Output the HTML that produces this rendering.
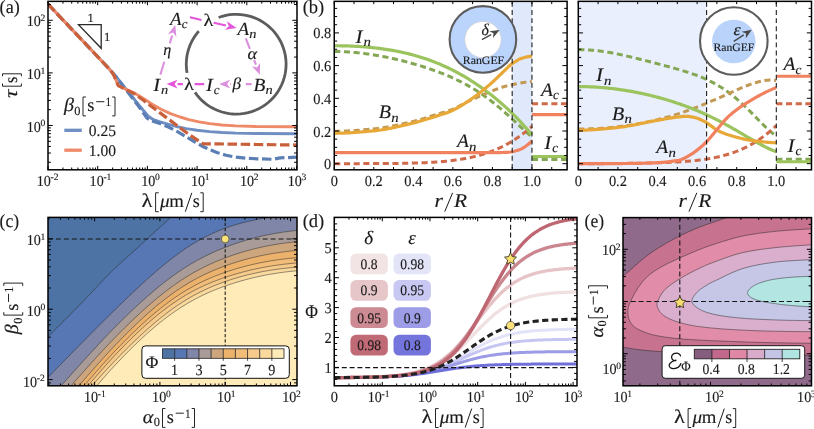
<!DOCTYPE html>
<html><head><meta charset="utf-8"><title>figure</title>
<style>html,body{margin:0;padding:0;background:#fff;}svg{display:block;will-change:transform}text{font-family:"Liberation Serif",serif;text-rendering:geometricPrecision;stroke:#1a1a1a;stroke-width:0.14px;paint-order:stroke fill}</style></head><body>
<svg width="814" height="429" viewBox="0 0 814 429">
<rect width="814" height="429" fill="#fff"/>
<defs><clipPath id="ca"><rect x="48" y="1.35" width="249" height="168.45"/></clipPath></defs>
<g clip-path="url(#ca)" fill="none" stroke-linejoin="round">
<path d="M48 4.1 L110 69.8 L118 79 L126.1 89.5 L132 96.5 L139.2 105.5 L148.3 116.3 L153.5 119.7 L160 121.8 L167.9 124.2 L177 126.6 L186.2 128.6 L197 130.3 L209.7 131.6 L222 132.5 L235.8 133.1 L256 133.5 L297 133.8" stroke="#6f8fc3" stroke-width="2.9"/>
<path d="M48 4.1 L110 69.8 L118 79 L126.1 90 L132 97.5 L139.2 107 L147 118.2 L152.2 121 L160 123.6 L167.9 126.8 L177 131.4 L186.2 136.8 L195 142 L204.4 147.3 L217.5 152.7 L226 155.3 L235.8 157.1 L246 158.2 L256.7 158.8 L272.3 159.3 L280.2 157.9 L297 157.1" stroke="#5b7fb4" stroke-width="3.2" stroke-dasharray="9.5 3.6"/>
<path d="M48 4.1 L110 69.8 L113.5 74.5 L118.3 85.6 L126 89.3 L134 92.8 L143 98.3 L152.2 104.2 L161 109.2 L170.5 113.6 L180 117 L188.8 119.6 L199 121.9 L209.7 123.6 L222 125 L235.8 125.9 L256 126.5 L297 126.8" stroke="#ef8a68" stroke-width="2.9"/>
<path d="M48 4.1 L110 69.8 L113.5 74.5 L118.3 85.6 L126 89.6 L134 93.6 L143 100 L152.2 107 L161 113.6 L170.5 120.6 L188.8 134.4 L203.1 143.8 L217.5 143.9 L256.7 144.5 L297 145" stroke="#c9603c" stroke-width="3.2" stroke-dasharray="9.5 3.6"/>
</g>
<path d="M78.5 24.6 H101.2 V48.3 Z" fill="none" stroke="#2a2a2a" stroke-width="1.3"/>
<text x="90.5" y="21.5" font-size="12.5" text-anchor="middle" fill="#1a1a1a" style="" >1</text>
<text x="107.2" y="40.5" font-size="12.5" text-anchor="middle" fill="#1a1a1a" style="" >1</text>
<g transform="translate(63.9 111.4)"><text stroke-width="0" x="0" y="0" font-size="19" text-anchor="start" fill="#1a1a1a" style="font-style:italic" textLength="10" lengthAdjust="spacingAndGlyphs">β</text><text stroke-width="0" x="10.4" y="3.4" font-size="12.3" text-anchor="start" fill="#1a1a1a" textLength="6.2" lengthAdjust="spacingAndGlyphs">0</text><path d="M22 -14.4H19.1V4.5H22" fill="none" stroke="#1a1a1a" stroke-width="0.95"/><text stroke-width="0" x="23.4" y="0" font-size="18.5" text-anchor="start" fill="#1a1a1a" textLength="7.1" lengthAdjust="spacingAndGlyphs">s</text><path d="M32.3 -9.7H40.4" fill="none" stroke="#1a1a1a" stroke-width="0.95"/><text stroke-width="0" x="41.7" y="-5.4" font-size="12.6" text-anchor="start" fill="#1a1a1a" textLength="5.6" lengthAdjust="spacingAndGlyphs">1</text><path d="M48.3 -14.4H51.1V4.5H48.3" fill="none" stroke="#1a1a1a" stroke-width="0.95"/></g>
<path d="M64.3 130.3H81.8" stroke="#6f8fc3" stroke-width="3.3"/>
<path d="M64.3 150.2H81.8" stroke="#ef8a68" stroke-width="3.3"/>
<text x="88.8" y="135.7" font-size="16" text-anchor="start" fill="#1a1a1a" style="" textLength="27.2" lengthAdjust="spacingAndGlyphs">0.25</text>
<text x="88.8" y="155.6" font-size="16" text-anchor="start" fill="#1a1a1a" style="" textLength="27.2" lengthAdjust="spacingAndGlyphs">1.00</text>
<path d="M194.98 92.32 L197.23 95.36 L199.7 98.22 L202.38 100.89 L205.26 103.35 L208.31 105.58 L211.53 107.57 L214.88 109.32 L218.36 110.8 L221.94 112.02 L225.6 112.96 L229.33 113.62 L233.09 114 L236.87 114.1 L240.65 113.9 L244.4 113.42 L248.11 112.66 L251.74 111.62 L255.29 110.3 L258.73 108.73 L262.04 106.89 L265.2 104.81 L268.19 102.5 L271 99.97 L273.61 97.23 L276 94.3 L278.17 91.2 L280.09 87.94 L281.76 84.55 L283.17 81.04 L284.31 77.43 L285.18 73.75 L285.76 70.01 L286.06 66.24 L286.07 62.46 L285.79 58.69 L285.23 54.95 L284.39 51.26 L283.27 47.65 L281.89 44.13 L280.23 40.73 L278.33 37.46 L276.18 34.34 L273.81 31.4 L271.21 28.65 L268.42 26.1 L265.44 23.77 L262.29 21.67 L259 19.81 L255.57 18.21 L252.03 16.88 L248.4 15.81 L244.7 15.03 L240.95 14.53 L237.18 14.31 L233.39 14.38 L229.63 14.73 L225.9 15.37 L222.23 16.29 L218.64 17.49" fill="none" stroke="#5c5c5c" stroke-width="2.8"/>
<path d="M198.77 31.2 L198.27 31.77 L197.78 32.35 L197.3 32.94 L196.83 33.54 L196.37 34.14 L195.92 34.75 L195.48 35.36 L195.04 35.99 L194.62 36.62 L194.2 37.25 L193.8 37.89 L193.4 38.54 L193.02 39.19 L192.64 39.85 L192.28 40.52 L191.92 41.19 L191.58 41.86 L191.24 42.55 L190.92 43.23 L190.61 43.92 L190.3 44.62 L190.01 45.32 L189.73 46.02 L189.46 46.73 L189.2 47.44 L188.95 48.16 L188.71 48.88 L188.48 49.61 L188.27 50.33 L188.06 51.06 L187.87 51.8 L187.68 52.53 L187.51 53.27 L187.35 54.01 L187.2 54.76 L187.06 55.5 L186.94 56.25 L186.82 57 L186.72 57.75 L186.63 58.51 L186.55 59.26 L186.48 60.02 L186.42 60.77 L186.37 61.53 L186.34 62.29 L186.31 63.05 L186.3 63.8 L186.3 64.56 L186.31 65.32 L186.34 66.08 L186.37 66.84 L186.42 67.6 L186.47 68.35 L186.54 69.11 L186.62 69.86 L186.71 70.62 L186.82 71.37 L186.93 72.12 L187.06 72.87" fill="none" stroke="#5c5c5c" stroke-width="2.8"/>
<path d="M190 17.3L201.48 19.91M213.68 22.69L225.87 25.46" stroke="#e455dc" stroke-width="2.1" fill="none"/>
<path d="M236.6 27.9L224.9 29.75L228.88 26.14L226.85 21.17Z" fill="#e455dc"/>
<path d="M245.8 38.4L249.85 48.86M254.1 59.84L255.93 64.54" stroke="#dc8fde" stroke-width="2.1" fill="none"/>
<path d="M259.9 74.8L251.82 66.13L257.04 67.41L260.03 62.95Z" fill="#dc8fde"/>
<path d="M251.6 84.1L245.82 84.1M231.06 84.1L230.2 84.1" stroke="#dc8fde" stroke-width="2.1" fill="none"/>
<path d="M219.2 84.1L230.2 79.7L227.12 84.1L230.2 88.5Z" fill="#dc8fde"/>
<path d="M204.2 84.1L194.62 84.1M182.92 84.1L177.6 84.1" stroke="#e455dc" stroke-width="2.1" fill="none"/>
<path d="M166.6 84.1L177.6 79.7L174.52 84.1L177.6 88.5Z" fill="#e455dc"/>
<path d="M160.4 74.6L164.27 61.71M169.79 43.35L172.14 35.53" stroke="#dc8fde" stroke-width="2.1" fill="none"/>
<path d="M175.3 25L176.35 36.8L173.02 32.59L167.92 34.27Z" fill="#dc8fde"/>
<text stroke-width="0" x="170" y="25" font-size="18.5" text-anchor="start" fill="#1a1a1a" style="font-style:italic" textLength="11.59" lengthAdjust="spacingAndGlyphs">A</text>
<text stroke-width="0" x="181.79" y="28.41" font-size="13" text-anchor="start" fill="#1a1a1a" style="font-style:italic" textLength="5.74" lengthAdjust="spacingAndGlyphs">c</text>
<text stroke-width="0" x="237.5" y="34.5" font-size="18.5" text-anchor="start" fill="#1a1a1a" style="font-style:italic" textLength="11.59" lengthAdjust="spacingAndGlyphs">A</text>
<text stroke-width="0" x="249.29" y="37.91" font-size="13" text-anchor="start" fill="#1a1a1a" style="font-style:italic" textLength="7.21" lengthAdjust="spacingAndGlyphs">n</text>
<text stroke-width="0" x="253.5" y="91" font-size="18.5" text-anchor="start" fill="#1a1a1a" style="font-style:italic" textLength="11.88" lengthAdjust="spacingAndGlyphs">B</text>
<text stroke-width="0" x="265.58" y="94.41" font-size="13" text-anchor="start" fill="#1a1a1a" style="font-style:italic" textLength="7.21" lengthAdjust="spacingAndGlyphs">n</text>
<text stroke-width="0" x="206" y="91" font-size="18.5" text-anchor="start" fill="#1a1a1a" style="font-style:italic" textLength="6.82" lengthAdjust="spacingAndGlyphs">I</text>
<text stroke-width="0" x="213.72" y="94.41" font-size="13" text-anchor="start" fill="#1a1a1a" style="font-style:italic" textLength="5.74" lengthAdjust="spacingAndGlyphs">c</text>
<text stroke-width="0" x="153.2" y="91" font-size="18.5" text-anchor="start" fill="#1a1a1a" style="font-style:italic" textLength="6.82" lengthAdjust="spacingAndGlyphs">I</text>
<text stroke-width="0" x="160.92" y="94.41" font-size="13" text-anchor="start" fill="#1a1a1a" style="font-style:italic" textLength="7.21" lengthAdjust="spacingAndGlyphs">n</text>
<text stroke-width="0" x="203.4" y="26.4" font-size="17.5" text-anchor="start" fill="#1a1a1a" textLength="9.8" lengthAdjust="spacingAndGlyphs">λ</text>
<text stroke-width="0" x="184" y="89.8" font-size="17.5" text-anchor="start" fill="#1a1a1a" textLength="9.8" lengthAdjust="spacingAndGlyphs">λ</text>
<text stroke-width="0" x="247.6" y="58.8" font-size="16.5" text-anchor="start" fill="#1a1a1a" style="font-style:italic" textLength="9.6" lengthAdjust="spacingAndGlyphs">α</text>
<text stroke-width="0" x="232.4" y="89.2" font-size="16.5" text-anchor="start" fill="#1a1a1a" style="font-style:italic" textLength="8.6" lengthAdjust="spacingAndGlyphs">β</text>
<text stroke-width="0" x="163.2" y="55.4" font-size="16.5" text-anchor="start" fill="#1a1a1a" style="font-style:italic" textLength="8" lengthAdjust="spacingAndGlyphs">η</text>
<path d="M48 169.8v-3.9M48 1.35v3.9M97.7 169.8v-3.9M97.7 1.35v3.9M147.4 169.8v-3.9M147.4 1.35v3.9M197.1 169.8v-3.9M197.1 1.35v3.9M246.8 169.8v-3.9M246.8 1.35v3.9M296.5 169.8v-3.9M296.5 1.35v3.9" stroke="#000" stroke-width="1.0" fill="none"/>
<path d="M62.96 169.8v-2.3M62.96 1.35v2.3M71.71 169.8v-2.3M71.71 1.35v2.3M77.92 169.8v-2.3M77.92 1.35v2.3M82.74 169.8v-2.3M82.74 1.35v2.3M86.67 169.8v-2.3M86.67 1.35v2.3M90 169.8v-2.3M90 1.35v2.3M92.88 169.8v-2.3M92.88 1.35v2.3M95.43 169.8v-2.3M95.43 1.35v2.3M112.66 169.8v-2.3M112.66 1.35v2.3M121.41 169.8v-2.3M121.41 1.35v2.3M127.62 169.8v-2.3M127.62 1.35v2.3M132.44 169.8v-2.3M132.44 1.35v2.3M136.37 169.8v-2.3M136.37 1.35v2.3M139.7 169.8v-2.3M139.7 1.35v2.3M142.58 169.8v-2.3M142.58 1.35v2.3M145.13 169.8v-2.3M145.13 1.35v2.3M162.36 169.8v-2.3M162.36 1.35v2.3M171.11 169.8v-2.3M171.11 1.35v2.3M177.32 169.8v-2.3M177.32 1.35v2.3M182.14 169.8v-2.3M182.14 1.35v2.3M186.07 169.8v-2.3M186.07 1.35v2.3M189.4 169.8v-2.3M189.4 1.35v2.3M192.28 169.8v-2.3M192.28 1.35v2.3M194.83 169.8v-2.3M194.83 1.35v2.3M212.06 169.8v-2.3M212.06 1.35v2.3M220.81 169.8v-2.3M220.81 1.35v2.3M227.02 169.8v-2.3M227.02 1.35v2.3M231.84 169.8v-2.3M231.84 1.35v2.3M235.77 169.8v-2.3M235.77 1.35v2.3M239.1 169.8v-2.3M239.1 1.35v2.3M241.98 169.8v-2.3M241.98 1.35v2.3M244.53 169.8v-2.3M244.53 1.35v2.3M261.76 169.8v-2.3M261.76 1.35v2.3M270.51 169.8v-2.3M270.51 1.35v2.3M276.72 169.8v-2.3M276.72 1.35v2.3M281.54 169.8v-2.3M281.54 1.35v2.3M285.47 169.8v-2.3M285.47 1.35v2.3M288.8 169.8v-2.3M288.8 1.35v2.3M291.68 169.8v-2.3M291.68 1.35v2.3M294.23 169.8v-2.3M294.23 1.35v2.3" stroke="#000" stroke-width="1.0" fill="none"/>
<path d="M48 125.5h4.7M297 125.5h-4.7M48 72.9h4.7M297 72.9h-4.7M48 20.3h4.7M297 20.3h-4.7" stroke="#000" stroke-width="1.0" fill="none"/>
<path d="M48 162.27h2.9M297 162.27h-2.9M48 153h2.9M297 153h-2.9M48 146.43h2.9M297 146.43h-2.9M48 141.33h2.9M297 141.33h-2.9M48 137.17h2.9M297 137.17h-2.9M48 133.65h2.9M297 133.65h-2.9M48 130.6h2.9M297 130.6h-2.9M48 127.91h2.9M297 127.91h-2.9M48 109.67h2.9M297 109.67h-2.9M48 100.4h2.9M297 100.4h-2.9M48 93.83h2.9M297 93.83h-2.9M48 88.73h2.9M297 88.73h-2.9M48 84.57h2.9M297 84.57h-2.9M48 81.05h2.9M297 81.05h-2.9M48 78h2.9M297 78h-2.9M48 75.31h2.9M297 75.31h-2.9M48 57.07h2.9M297 57.07h-2.9M48 47.8h2.9M297 47.8h-2.9M48 41.23h2.9M297 41.23h-2.9M48 36.13h2.9M297 36.13h-2.9M48 31.97h2.9M297 31.97h-2.9M48 28.45h2.9M297 28.45h-2.9M48 25.4h2.9M297 25.4h-2.9M48 22.71h2.9M297 22.71h-2.9M48 4.47h2.9M297 4.47h-2.9" stroke="#000" stroke-width="1.0" fill="none"/>
<rect x="48" y="1.35" width="249" height="168.45" fill="none" stroke="#000" stroke-width="1.5"/>
<text x="36.8" y="185.7" font-size="15.2" fill="#1a1a1a" textLength="14.1" lengthAdjust="spacingAndGlyphs">10</text>
<text x="50.6" y="180.3" font-size="9.6" fill="#1a1a1a">-2</text>
<text x="89.6" y="185.7" font-size="15.2" fill="#1a1a1a" textLength="14.1" lengthAdjust="spacingAndGlyphs">10</text>
<text x="103.4" y="180.3" font-size="9.6" fill="#1a1a1a">-1</text>
<text x="141.2" y="185.7" font-size="15.2" fill="#1a1a1a" textLength="14.1" lengthAdjust="spacingAndGlyphs">10</text>
<text x="155" y="180.3" font-size="9.6" fill="#1a1a1a">0</text>
<text x="190.9" y="185.7" font-size="15.2" fill="#1a1a1a" textLength="14.1" lengthAdjust="spacingAndGlyphs">10</text>
<text x="204.7" y="180.3" font-size="9.6" fill="#1a1a1a">1</text>
<text x="239.9" y="185.7" font-size="15.2" fill="#1a1a1a" textLength="14.1" lengthAdjust="spacingAndGlyphs">10</text>
<text x="253.7" y="180.3" font-size="9.6" fill="#1a1a1a">2</text>
<text x="287.7" y="185.7" font-size="15.2" fill="#1a1a1a" textLength="14.1" lengthAdjust="spacingAndGlyphs">10</text>
<text x="301.5" y="180.3" font-size="9.6" fill="#1a1a1a">3</text>
<text x="26.7" y="26.1" font-size="15.2" fill="#1a1a1a" textLength="14.1" lengthAdjust="spacingAndGlyphs">10</text>
<text x="40.5" y="20.7" font-size="9.6" fill="#1a1a1a">2</text>
<text x="26.7" y="78.9" font-size="15.2" fill="#1a1a1a" textLength="14.1" lengthAdjust="spacingAndGlyphs">10</text>
<text x="40.5" y="73.5" font-size="9.6" fill="#1a1a1a">1</text>
<text x="26.7" y="131.6" font-size="15.2" fill="#1a1a1a" textLength="14.1" lengthAdjust="spacingAndGlyphs">10</text>
<text x="40.5" y="126.2" font-size="9.6" fill="#1a1a1a">0</text>
<g transform="translate(141.3 207.2)"><text stroke-width="0" x="0.2" y="0" font-size="19.5" text-anchor="start" fill="#1a1a1a" textLength="10.9" lengthAdjust="spacingAndGlyphs">λ</text><path d="M17.4 -14.4H14.3V4.5H17.4" fill="none" stroke="#1a1a1a" stroke-width="0.95"/><text stroke-width="0" x="18.6" y="0" font-size="18.5" text-anchor="start" fill="#1a1a1a" style="font-style:italic" textLength="9.6" lengthAdjust="spacingAndGlyphs">μ</text><text stroke-width="0" x="28" y="0" font-size="18.5" text-anchor="start" fill="#1a1a1a" textLength="14.6" lengthAdjust="spacingAndGlyphs">m</text><path d="M44 4.5L50.5 -14.4" fill="none" stroke="#1a1a1a" stroke-width="1.0"/><text stroke-width="0" x="51.5" y="0" font-size="18.5" text-anchor="start" fill="#1a1a1a" textLength="7" lengthAdjust="spacingAndGlyphs">s</text><path d="M59 -14.4H61.9V4.5H59" fill="none" stroke="#1a1a1a" stroke-width="0.95"/></g>
<g transform="translate(16.9 97.9) rotate(-90)"><text stroke-width="0" x="0" y="0" font-size="19" text-anchor="start" fill="#1a1a1a" style="font-style:italic" textLength="8.4" lengthAdjust="spacingAndGlyphs">τ</text><path d="M14.4 -14.4H11.7V4.5H14.4" fill="none" stroke="#1a1a1a" stroke-width="0.95"/><text stroke-width="0" x="15" y="0" font-size="18.5" text-anchor="start" fill="#1a1a1a" textLength="6.4" lengthAdjust="spacingAndGlyphs">s</text><path d="M21.6 -14.4H24.1V4.5H21.6" fill="none" stroke="#1a1a1a" stroke-width="0.95"/></g>
<text x="-0.4" y="13" font-size="18.8" text-anchor="start" fill="#1a1a1a" style="" textLength="20.2" lengthAdjust="spacingAndGlyphs">(a)</text>
<defs><clipPath id="cb1"><rect x="334.25" y="1.35" width="232.85" height="168.45"/></clipPath></defs>
<g clip-path="url(#cb1)">
<rect x="512.18" y="1.35" width="19.77" height="168.45" fill="#e0e8fb"/>
<path d="M334.25 51.54 L335.91 51.54 L337.57 51.56 L339.23 51.59 L340.9 51.63 L342.56 51.69 L344.22 51.75 L345.88 51.83 L347.54 51.92 L349.2 52.02 L350.86 52.14 L352.52 52.26 L354.19 52.4 L355.85 52.55 L357.51 52.71 L359.17 52.88 L360.83 53.06 L362.49 53.25 L364.15 53.46 L365.82 53.67 L367.48 53.9 L369.14 54.13 L370.8 54.38 L372.46 54.63 L374.12 54.9 L375.78 55.18 L377.44 55.46 L379.11 55.76 L380.77 56.06 L382.43 56.37 L384.09 56.69 L385.75 57.03 L387.41 57.37 L389.07 57.71 L390.74 58.07 L392.4 58.44 L394.06 58.81 L395.72 59.19 L397.38 59.58 L399.04 59.98 L400.7 60.39 L402.37 60.81 L404.03 61.23 L405.69 61.66 L407.35 62.1 L409.01 62.55 L410.67 63 L412.33 63.47 L413.99 63.94 L415.66 64.42 L417.32 64.91 L418.98 65.41 L420.64 65.92 L422.3 66.44 L423.96 66.96 L425.62 67.5 L427.29 68.04 L428.95 68.6 L430.61 69.16 L432.27 69.74 L433.93 70.33 L435.59 70.93 L437.25 71.54 L438.91 72.17 L440.58 72.8 L442.24 73.45 L443.9 74.12 L445.56 74.8 L447.22 75.49 L448.88 76.2 L450.54 76.92 L452.21 77.66 L453.87 78.42 L455.53 79.19 L457.19 79.98 L458.85 80.79 L460.51 81.62 L462.17 82.47 L463.83 83.34 L465.5 84.24 L467.16 85.15 L468.82 86.08 L470.48 87.04 L472.14 88.02 L473.8 89.02 L475.46 90.05 L477.13 91.1 L478.79 92.17 L480.45 93.27 L482.11 94.4 L483.77 95.55 L485.43 96.73 L487.09 97.93 L488.76 99.16 L490.42 100.41 L492.08 101.69 L493.74 102.99 L495.4 104.32 L497.06 105.68 L498.72 107.05 L500.38 108.45 L502.05 109.87 L503.71 111.32 L505.37 112.78 L507.03 114.26 L508.69 115.76 L510.35 117.27 L512.01 118.8 L513.68 120.34 L515.34 121.88 L517 123.43 L518.66 124.99 L520.32 126.55 L521.98 128.1 L523.64 129.65 L525.3 131.18 L526.97 132.7 L528.63 134.2 L530.29 135.67 L531.95 137.12" stroke="#84a753" stroke-width="3.0" fill="none" stroke-dasharray="6.1 3.6"/>
<path d="M334.25 131.33 L335.91 131.32 L337.57 131.3 L339.23 131.27 L340.9 131.23 L342.56 131.18 L344.22 131.11 L345.88 131.04 L347.54 130.96 L349.2 130.87 L350.86 130.77 L352.52 130.66 L354.19 130.55 L355.85 130.43 L357.51 130.31 L359.17 130.18 L360.83 130.04 L362.49 129.9 L364.15 129.76 L365.82 129.61 L367.48 129.46 L369.14 129.31 L370.8 129.15 L372.46 129 L374.12 128.84 L375.78 128.67 L377.44 128.48 L379.11 128.28 L380.77 128.05 L382.43 127.81 L384.09 127.55 L385.75 127.27 L387.41 126.98 L389.07 126.68 L390.74 126.37 L392.4 126.04 L394.06 125.71 L395.72 125.36 L397.38 125.01 L399.04 124.65 L400.7 124.28 L402.37 123.91 L404.03 123.54 L405.69 123.15 L407.35 122.77 L409.01 122.39 L410.67 122 L412.33 121.61 L413.99 121.2 L415.66 120.77 L417.32 120.33 L418.98 119.86 L420.64 119.38 L422.3 118.89 L423.96 118.39 L425.62 117.87 L427.29 117.35 L428.95 116.83 L430.61 116.3 L432.27 115.77 L433.93 115.25 L435.59 114.72 L437.25 114.2 L438.91 113.68 L440.58 113.17 L442.24 112.68 L443.9 112.2 L445.56 111.7 L447.22 111.19 L448.88 110.64 L450.54 110.03 L452.21 109.37 L453.87 108.66 L455.53 107.9 L457.19 107.1 L458.85 106.28 L460.51 105.43 L462.17 104.57 L463.83 103.71 L465.5 102.85 L467.16 102 L468.82 101.17 L470.48 100.37 L472.14 99.6 L473.8 98.83 L475.46 98.07 L477.13 97.32 L478.79 96.57 L480.45 95.83 L482.11 95.11 L483.77 94.38 L485.43 93.67 L487.09 92.96 L488.76 92.26 L490.42 91.58 L492.08 90.92 L493.74 90.27 L495.4 89.62 L497.06 88.98 L498.72 88.37 L500.38 87.79 L502.05 87.26 L503.71 86.76 L505.37 86.29 L507.03 85.85 L508.69 85.42 L510.35 85.03 L512.01 84.65 L513.68 84.3 L515.34 83.96 L517 83.64 L518.66 83.33 L520.32 83.05 L521.98 82.78 L523.64 82.53 L525.3 82.29 L526.97 82.06 L528.63 81.84 L530.29 81.64 L531.95 81.46" stroke="#c39a55" stroke-width="3.0" fill="none" stroke-dasharray="6.1 3.6"/>
<path d="M334.25 163.66 L335.91 163.66 L337.57 163.66 L339.23 163.66 L340.9 163.66 L342.56 163.66 L344.22 163.66 L345.88 163.66 L347.54 163.65 L349.2 163.65 L350.86 163.65 L352.52 163.65 L354.19 163.64 L355.85 163.64 L357.51 163.64 L359.17 163.64 L360.83 163.63 L362.49 163.63 L364.15 163.62 L365.82 163.62 L367.48 163.61 L369.14 163.61 L370.8 163.6 L372.46 163.59 L374.12 163.59 L375.78 163.58 L377.44 163.57 L379.11 163.56 L380.77 163.55 L382.43 163.54 L384.09 163.53 L385.75 163.52 L387.41 163.5 L389.07 163.49 L390.74 163.47 L392.4 163.45 L394.06 163.44 L395.72 163.42 L397.38 163.39 L399.04 163.37 L400.7 163.35 L402.37 163.32 L404.03 163.29 L405.69 163.26 L407.35 163.22 L409.01 163.19 L410.67 163.15 L412.33 163.11 L413.99 163.06 L415.66 163.01 L417.32 162.96 L418.98 162.9 L420.64 162.84 L422.3 162.78 L423.96 162.71 L425.62 162.64 L427.29 162.56 L428.95 162.48 L430.61 162.39 L432.27 162.29 L433.93 162.19 L435.59 162.08 L437.25 161.96 L438.91 161.84 L440.58 161.71 L442.24 161.57 L443.9 161.42 L445.56 161.27 L447.22 161.1 L448.88 160.92 L450.54 160.74 L452.21 160.54 L453.87 160.33 L455.53 160.11 L457.19 159.88 L458.85 159.64 L460.51 159.38 L462.17 159.1 L463.83 158.82 L465.5 158.52 L467.16 158.2 L468.82 157.86 L470.48 157.51 L472.14 157.14 L473.8 156.76 L475.46 156.35 L477.13 155.93 L478.79 155.48 L480.45 155.02 L482.11 154.53 L483.77 154.02 L485.43 153.49 L487.09 152.93 L488.76 152.35 L490.42 151.75 L492.08 151.12 L493.74 150.46 L495.4 149.77 L497.06 149.06 L498.72 148.32 L500.38 147.55 L502.05 146.75 L503.71 145.92 L505.37 145.06 L507.03 144.16 L508.69 143.23 L510.35 142.27 L512.01 141.27 L513.68 140.24 L515.34 139.18 L517 138.07 L518.66 136.93 L520.32 135.76 L521.98 134.54 L523.64 133.29 L525.3 131.99 L526.97 130.66 L528.63 129.29 L530.29 127.87 L531.95 126.42" stroke="#cf6a4b" stroke-width="3.0" fill="none" stroke-dasharray="6.1 3.6"/>
<path d="M334.25 45.74 L335.91 45.75 L337.57 45.76 L339.23 45.77 L340.9 45.8 L342.56 45.83 L344.22 45.87 L345.88 45.91 L347.54 45.96 L349.2 46.02 L350.86 46.08 L352.52 46.16 L354.19 46.24 L355.85 46.32 L357.51 46.42 L359.17 46.52 L360.83 46.63 L362.49 46.75 L364.15 46.88 L365.82 47.01 L367.48 47.15 L369.14 47.3 L370.8 47.46 L372.46 47.63 L374.12 47.81 L375.78 47.99 L377.44 48.19 L379.11 48.39 L380.77 48.6 L382.43 48.83 L384.09 49.06 L385.75 49.31 L387.41 49.56 L389.07 49.83 L390.74 50.1 L392.4 50.39 L394.06 50.69 L395.72 51 L397.38 51.32 L399.04 51.65 L400.7 52 L402.37 52.36 L404.03 52.73 L405.69 53.11 L407.35 53.51 L409.01 53.92 L410.67 54.34 L412.33 54.78 L413.99 55.23 L415.66 55.69 L417.32 56.17 L418.98 56.67 L420.64 57.17 L422.3 57.7 L423.96 58.24 L425.62 58.79 L427.29 59.36 L428.95 59.95 L430.61 60.55 L432.27 61.17 L433.93 61.8 L435.59 62.45 L437.25 63.12 L438.91 63.81 L440.58 64.51 L442.24 65.23 L443.9 65.96 L445.56 66.72 L447.22 67.49 L448.88 68.28 L450.54 69.09 L452.21 69.91 L453.87 70.76 L455.53 71.62 L457.19 72.5 L458.85 73.4 L460.51 74.32 L462.17 75.26 L463.83 76.22 L465.5 77.2 L467.16 78.19 L468.82 79.21 L470.48 80.25 L472.14 81.3 L473.8 82.38 L475.46 83.47 L477.13 84.59 L478.79 85.73 L480.45 86.89 L482.11 88.06 L483.77 89.26 L485.43 90.49 L487.09 91.73 L488.76 92.99 L490.42 94.28 L492.08 95.59 L493.74 96.92 L495.4 98.27 L497.06 99.65 L498.72 101.05 L500.38 102.48 L502.05 103.93 L503.71 105.4 L505.37 106.9 L507.03 108.42 L508.69 109.98 L510.35 111.55 L512.01 113.16 L513.68 114.79 L515.34 116.45 L517 118.15 L518.66 119.87 L520.32 121.62 L521.98 123.4 L523.64 125.22 L525.3 127.07 L526.97 128.96 L528.63 130.89 L530.29 132.85 L531.95 134.85" stroke="#9cc45e" stroke-width="3.2" fill="none"/>
<path d="M334.25 133.29 L335.91 133.28 L337.57 133.26 L339.23 133.23 L340.9 133.19 L342.56 133.14 L344.22 133.08 L345.88 133.01 L347.54 132.92 L349.2 132.83 L350.86 132.74 L352.52 132.63 L354.19 132.52 L355.85 132.4 L357.51 132.27 L359.17 132.14 L360.83 132.01 L362.49 131.87 L364.15 131.72 L365.82 131.58 L367.48 131.43 L369.14 131.27 L370.8 131.12 L372.46 130.96 L374.12 130.8 L375.78 130.63 L377.44 130.44 L379.11 130.22 L380.77 129.98 L382.43 129.73 L384.09 129.45 L385.75 129.17 L387.41 128.86 L389.07 128.54 L390.74 128.21 L392.4 127.87 L394.06 127.51 L395.72 127.15 L397.38 126.78 L399.04 126.4 L400.7 126.01 L402.37 125.62 L404.03 125.23 L405.69 124.83 L407.35 124.44 L409.01 124.04 L410.67 123.64 L412.33 123.24 L413.99 122.83 L415.66 122.4 L417.32 121.95 L418.98 121.5 L420.64 121.03 L422.3 120.54 L423.96 120.05 L425.62 119.55 L427.29 119.04 L428.95 118.52 L430.61 118 L432.27 117.47 L433.93 116.94 L435.59 116.41 L437.25 115.87 L438.91 115.33 L440.58 114.8 L442.24 114.27 L443.9 113.74 L445.56 113.2 L447.22 112.62 L448.88 112 L450.54 111.31 L452.21 110.57 L453.87 109.77 L455.53 108.91 L457.19 108.01 L458.85 107.07 L460.51 106.09 L462.17 105.08 L463.83 104.04 L465.5 102.97 L467.16 101.89 L468.82 100.78 L470.48 99.67 L472.14 98.54 L473.8 97.37 L475.46 96.16 L477.13 94.91 L478.79 93.62 L480.45 92.31 L482.11 90.96 L483.77 89.59 L485.43 88.2 L487.09 86.79 L488.76 85.36 L490.42 83.92 L492.08 82.47 L493.74 80.97 L495.4 79.42 L497.06 77.83 L498.72 76.22 L500.38 74.61 L502.05 73.03 L503.71 71.44 L505.37 69.78 L507.03 68.13 L508.69 66.53 L510.35 65.05 L512.01 63.76 L513.68 62.61 L515.34 61.52 L517 60.52 L518.66 59.62 L520.32 58.85 L521.98 58.23 L523.64 57.71 L525.3 57.28 L526.97 56.94 L528.63 56.67 L530.29 56.44 L531.95 56.28" stroke="#e8a838" stroke-width="3.2" fill="none"/>
<path d="M334.25 152.58 L335.91 152.58 L337.57 152.58 L339.23 152.58 L340.9 152.58 L342.56 152.58 L344.22 152.58 L345.88 152.58 L347.54 152.58 L349.2 152.58 L350.86 152.58 L352.52 152.58 L354.19 152.58 L355.85 152.58 L357.51 152.58 L359.17 152.58 L360.83 152.58 L362.49 152.58 L364.15 152.58 L365.82 152.58 L367.48 152.58 L369.14 152.58 L370.8 152.58 L372.46 152.58 L374.12 152.58 L375.78 152.58 L377.44 152.58 L379.11 152.58 L380.77 152.58 L382.43 152.58 L384.09 152.58 L385.75 152.58 L387.41 152.58 L389.07 152.58 L390.74 152.58 L392.4 152.58 L394.06 152.58 L395.72 152.58 L397.38 152.58 L399.04 152.58 L400.7 152.58 L402.37 152.58 L404.03 152.58 L405.69 152.58 L407.35 152.58 L409.01 152.58 L410.67 152.58 L412.33 152.58 L413.99 152.58 L415.66 152.58 L417.32 152.58 L418.98 152.58 L420.64 152.58 L422.3 152.58 L423.96 152.58 L425.62 152.58 L427.29 152.58 L428.95 152.58 L430.61 152.58 L432.27 152.58 L433.93 152.58 L435.59 152.58 L437.25 152.58 L438.91 152.58 L440.58 152.58 L442.24 152.58 L443.9 152.58 L445.56 152.58 L447.22 152.58 L448.88 152.58 L450.54 152.58 L452.21 152.58 L453.87 152.58 L455.53 152.58 L457.19 152.58 L458.85 152.58 L460.51 152.58 L462.17 152.58 L463.83 152.58 L465.5 152.58 L467.16 152.58 L468.82 152.58 L470.48 152.58 L472.14 152.58 L473.8 152.58 L475.46 152.58 L477.13 152.58 L478.79 152.58 L480.45 152.58 L482.11 152.58 L483.77 152.58 L485.43 152.58 L487.09 152.58 L488.76 152.58 L490.42 152.58 L492.08 152.58 L493.74 152.58 L495.4 152.57 L497.06 152.56 L498.72 152.55 L500.38 152.53 L502.05 152.5 L503.71 152.47 L505.37 152.44 L507.03 152.39 L508.69 152.25 L510.35 152.04 L512.01 151.79 L513.68 151.49 L515.34 151.08 L517 150.59 L518.66 150.02 L520.32 149.38 L521.98 148.59 L523.64 147.63 L525.3 146.54 L526.97 145.35 L528.63 143.99 L530.29 142.47 L531.95 140.81" stroke="#f0825f" stroke-width="3.2" fill="none"/>
<path d="M531.95 103.86 L571.49 103.86" stroke="#cf6a4b" stroke-width="3.0" fill="none" stroke-dasharray="6.1 3.6"/>
<path d="M531.95 159.45 L571.49 159.45" stroke="#84a753" stroke-width="3.0" fill="none" stroke-dasharray="6.1 3.6"/>
<path d="M531.95 114.65 L571.49 114.65" stroke="#f0825f" stroke-width="3.2" fill="none"/>
<path d="M531.95 156.51 L571.49 156.51" stroke="#9cc45e" stroke-width="3.2" fill="none"/>
<path d="M512.18 1.95V169.8" stroke="#1c1c1c" stroke-width="1.1" stroke-dasharray="4.9 3.2" fill="none"/>
<path d="M531.95 1.95V169.8" stroke="#1c1c1c" stroke-width="1.1" stroke-dasharray="4.9 3.2" fill="none"/>
</g>
<circle cx="482.9" cy="39.4" r="33.3" fill="#bad4fc" stroke="#5c5c5c" stroke-width="2.1"/>
<circle cx="483.0" cy="39.6" r="18.2" fill="#fff" stroke="#cfcfcf" stroke-width="0.7"/>
<path d="M481.9 39.6L491.14 34.64" stroke="#4a4a4a" stroke-width="1.5" fill="none"/>
<path d="M499.6 30.1L492.99 38.08L493.51 33.37L489.3 31.2Z" fill="#4a4a4a"/>
<text stroke-width="0" x="481.6" y="35.2" font-size="16.5" text-anchor="start" fill="#1a1a1a" style="font-style:italic" textLength="7.4" lengthAdjust="spacingAndGlyphs">δ</text>
<text stroke-width="0" x="462.8" y="63.6" font-size="11.4" text-anchor="start" fill="#1a1a1a" textLength="41.4" lengthAdjust="spacingAndGlyphs">RanGEF</text>
<text stroke-width="0" x="355.5" y="42.5" font-size="19" text-anchor="start" fill="#1a1a1a" style="font-style:italic" textLength="7" lengthAdjust="spacingAndGlyphs">I</text>
<text stroke-width="0" x="363.4" y="46" font-size="13.2" text-anchor="start" fill="#1a1a1a" style="font-style:italic" textLength="7.4" lengthAdjust="spacingAndGlyphs">n</text>
<text stroke-width="0" x="378.8" y="118" font-size="19" text-anchor="start" fill="#1a1a1a" style="font-style:italic" textLength="12.2" lengthAdjust="spacingAndGlyphs">B</text>
<text stroke-width="0" x="391.2" y="121.5" font-size="13.2" text-anchor="start" fill="#1a1a1a" style="font-style:italic" textLength="7.4" lengthAdjust="spacingAndGlyphs">n</text>
<text stroke-width="0" x="457" y="147" font-size="19" text-anchor="start" fill="#1a1a1a" style="font-style:italic" textLength="11.9" lengthAdjust="spacingAndGlyphs">A</text>
<text stroke-width="0" x="469.1" y="150.5" font-size="13.2" text-anchor="start" fill="#1a1a1a" style="font-style:italic" textLength="7.4" lengthAdjust="spacingAndGlyphs">n</text>
<text stroke-width="0" x="541" y="95.6" font-size="19" text-anchor="start" fill="#1a1a1a" style="font-style:italic" textLength="11.9" lengthAdjust="spacingAndGlyphs">A</text>
<text stroke-width="0" x="553.1" y="99.1" font-size="13.2" text-anchor="start" fill="#1a1a1a" style="font-style:italic" textLength="5.9" lengthAdjust="spacingAndGlyphs">c</text>
<text stroke-width="0" x="544.3" y="148.6" font-size="19" text-anchor="start" fill="#1a1a1a" style="font-style:italic" textLength="7" lengthAdjust="spacingAndGlyphs">I</text>
<text stroke-width="0" x="552.2" y="152.1" font-size="13.2" text-anchor="start" fill="#1a1a1a" style="font-style:italic" textLength="5.9" lengthAdjust="spacingAndGlyphs">c</text>
<path d="M334.25 169.8v-2.8M334.25 1.35v2.8M354.02 169.8v-2.8M354.02 1.35v2.8M373.79 169.8v-2.8M373.79 1.35v2.8M393.56 169.8v-2.8M393.56 1.35v2.8M413.33 169.8v-2.8M413.33 1.35v2.8M433.1 169.8v-2.8M433.1 1.35v2.8M452.87 169.8v-2.8M452.87 1.35v2.8M472.64 169.8v-2.8M472.64 1.35v2.8M492.41 169.8v-2.8M492.41 1.35v2.8M512.18 169.8v-2.8M512.18 1.35v2.8M531.95 169.8v-2.8M531.95 1.35v2.8M551.72 169.8v-2.8M551.72 1.35v2.8" stroke="#000" stroke-width="1.0" fill="none"/>
<path d="M334.25 163.7h4.7M567.1 163.7h-4.7M334.25 131h4.7M567.1 131h-4.7M334.25 98.3h4.7M567.1 98.3h-4.7M334.25 65.6h4.7M567.1 65.6h-4.7M334.25 32.9h4.7M567.1 32.9h-4.7" stroke="#000" stroke-width="1.0" fill="none"/>
<path d="M334.25 155.52h2.9M567.1 155.52h-2.9M334.25 147.35h2.9M567.1 147.35h-2.9M334.25 139.17h2.9M567.1 139.17h-2.9M334.25 122.82h2.9M567.1 122.82h-2.9M334.25 114.65h2.9M567.1 114.65h-2.9M334.25 106.47h2.9M567.1 106.47h-2.9M334.25 90.12h2.9M567.1 90.12h-2.9M334.25 81.95h2.9M567.1 81.95h-2.9M334.25 73.77h2.9M567.1 73.77h-2.9M334.25 57.42h2.9M567.1 57.42h-2.9M334.25 49.25h2.9M567.1 49.25h-2.9M334.25 41.07h2.9M567.1 41.07h-2.9M334.25 24.72h2.9M567.1 24.72h-2.9M334.25 16.55h2.9M567.1 16.55h-2.9M334.25 8.37h2.9M567.1 8.37h-2.9" stroke="#000" stroke-width="1.0" fill="none"/>
<rect x="334.25" y="1.35" width="232.85" height="168.45" fill="none" stroke="#000" stroke-width="1.5"/>
<text x="334.25" y="185.7" font-size="15.2" text-anchor="middle" fill="#1a1a1a" textLength="7.2" lengthAdjust="spacingAndGlyphs">0</text>
<text x="373.79" y="185.7" font-size="15.2" text-anchor="middle" fill="#1a1a1a" textLength="18" lengthAdjust="spacingAndGlyphs">0.2</text>
<text x="413.33" y="185.7" font-size="15.2" text-anchor="middle" fill="#1a1a1a" textLength="18" lengthAdjust="spacingAndGlyphs">0.4</text>
<text x="452.87" y="185.7" font-size="15.2" text-anchor="middle" fill="#1a1a1a" textLength="18" lengthAdjust="spacingAndGlyphs">0.6</text>
<text x="492.41" y="185.7" font-size="15.2" text-anchor="middle" fill="#1a1a1a" textLength="18" lengthAdjust="spacingAndGlyphs">0.8</text>
<text x="531.95" y="185.7" font-size="15.2" text-anchor="middle" fill="#1a1a1a" textLength="18" lengthAdjust="spacingAndGlyphs">1.0</text>
<g transform="translate(434.38 207)"><text stroke-width="0" x="0" y="0" font-size="19.5" text-anchor="start" fill="#1a1a1a" style="font-style:italic" textLength="8.4" lengthAdjust="spacingAndGlyphs">r</text><path d="M10.4 4.6L18.2 -14.2" fill="none" stroke="#1a1a1a" stroke-width="1.0"/><text stroke-width="0" x="19.6" y="0" font-size="19.5" text-anchor="start" fill="#1a1a1a" style="font-style:italic" textLength="13" lengthAdjust="spacingAndGlyphs">R</text></g>
<text x="331.2" y="169.2" font-size="15.2" text-anchor="end" fill="#1a1a1a" textLength="7.2" lengthAdjust="spacingAndGlyphs">0</text>
<text x="331.2" y="136.5" font-size="15.2" text-anchor="end" fill="#1a1a1a" textLength="18" lengthAdjust="spacingAndGlyphs">0.2</text>
<text x="331.2" y="103.8" font-size="15.2" text-anchor="end" fill="#1a1a1a" textLength="18" lengthAdjust="spacingAndGlyphs">0.4</text>
<text x="331.2" y="71.1" font-size="15.2" text-anchor="end" fill="#1a1a1a" textLength="18" lengthAdjust="spacingAndGlyphs">0.6</text>
<text x="331.2" y="38.4" font-size="15.2" text-anchor="end" fill="#1a1a1a" textLength="18" lengthAdjust="spacingAndGlyphs">0.8</text>
<text x="302.7" y="13.4" font-size="18.8" text-anchor="start" fill="#1a1a1a" style="" textLength="21.6" lengthAdjust="spacingAndGlyphs">(b)</text>
<defs><clipPath id="cb2"><rect x="578.3" y="1.35" width="233.2" height="168.45"/></clipPath></defs>
<g clip-path="url(#cb2)">
<rect x="576.32" y="1.35" width="130.28" height="168.45" fill="#e9effc"/>
<path d="M578.3 49.63 L579.96 49.64 L581.63 49.67 L583.29 49.71 L584.96 49.77 L586.62 49.84 L588.28 49.94 L589.95 50.05 L591.61 50.17 L593.27 50.32 L594.94 50.48 L596.6 50.65 L598.27 50.84 L599.93 51.04 L601.59 51.26 L603.26 51.5 L604.92 51.74 L606.59 52 L608.25 52.27 L609.91 52.56 L611.58 52.85 L613.24 53.16 L614.91 53.48 L616.57 53.81 L618.23 54.15 L619.9 54.5 L621.56 54.85 L623.22 55.22 L624.89 55.59 L626.55 55.97 L628.22 56.35 L629.88 56.74 L631.54 57.14 L633.21 57.54 L634.87 57.95 L636.54 58.36 L638.2 58.77 L639.86 59.19 L641.53 59.61 L643.19 60.03 L644.85 60.46 L646.52 60.89 L648.18 61.31 L649.85 61.74 L651.51 62.18 L653.17 62.61 L654.84 63.04 L656.5 63.48 L658.17 63.92 L659.83 64.35 L661.49 64.79 L663.16 65.24 L664.82 65.68 L666.48 66.13 L668.15 66.57 L669.81 67.03 L671.48 67.48 L673.14 67.94 L674.8 68.41 L676.47 68.88 L678.13 69.35 L679.8 69.84 L681.46 70.33 L683.12 70.83 L684.79 71.34 L686.45 71.86 L688.12 72.39 L689.78 72.94 L691.44 73.5 L693.11 74.08 L694.77 74.67 L696.43 75.28 L698.1 75.91 L699.76 76.56 L701.43 77.23 L703.09 77.93 L704.75 78.65 L706.42 79.39 L708.08 80.17 L709.75 80.97 L711.41 81.8 L713.07 82.67 L714.74 83.56 L716.4 84.49 L718.06 85.46 L719.73 86.46 L721.39 87.5 L723.06 88.58 L724.72 89.69 L726.38 90.85 L728.05 92.04 L729.71 93.28 L731.38 94.55 L733.04 95.86 L734.7 97.22 L736.37 98.61 L738.03 100.04 L739.69 101.51 L741.36 103.02 L743.02 104.56 L744.69 106.13 L746.35 107.73 L748.01 109.36 L749.68 111.01 L751.34 112.68 L753.01 114.37 L754.67 116.07 L756.33 117.78 L758 119.48 L759.66 121.18 L761.33 122.87 L762.99 124.53 L764.65 126.17 L766.32 127.77 L767.98 129.32 L769.64 130.81 L771.31 132.22 L772.97 133.56 L774.64 134.79 L776.3 135.92" stroke="#84a753" stroke-width="3.0" fill="none" stroke-dasharray="6.1 3.6"/>
<path d="M578.3 129.07 L579.96 129.06 L581.63 129.05 L583.29 129.03 L584.96 129 L586.62 128.97 L588.28 128.92 L589.95 128.87 L591.61 128.81 L593.27 128.74 L594.94 128.66 L596.6 128.57 L598.27 128.48 L599.93 128.38 L601.59 128.27 L603.26 128.15 L604.92 128.02 L606.59 127.89 L608.25 127.75 L609.91 127.6 L611.58 127.44 L613.24 127.27 L614.91 127.09 L616.57 126.91 L618.23 126.71 L619.9 126.51 L621.56 126.3 L623.22 126.09 L624.89 125.86 L626.55 125.62 L628.22 125.38 L629.88 125.13 L631.54 124.87 L633.21 124.6 L634.87 124.32 L636.54 124.03 L638.2 123.74 L639.86 123.43 L641.53 123.12 L643.19 122.79 L644.85 122.46 L646.52 122.12 L648.18 121.77 L649.85 121.41 L651.51 121.04 L653.17 120.66 L654.84 120.28 L656.5 119.88 L658.17 119.47 L659.83 119.05 L661.49 118.63 L663.16 118.19 L664.82 117.75 L666.48 117.29 L668.15 116.82 L669.81 116.35 L671.48 115.86 L673.14 115.37 L674.8 114.86 L676.47 114.34 L678.13 113.82 L679.8 113.28 L681.46 112.73 L683.12 112.18 L684.79 111.61 L686.45 111.03 L688.12 110.44 L689.78 109.84 L691.44 109.24 L693.11 108.62 L694.77 107.99 L696.43 107.35 L698.1 106.7 L699.76 106.05 L701.43 105.38 L703.09 104.71 L704.75 104.02 L706.42 103.33 L708.08 102.63 L709.75 101.92 L711.41 101.21 L713.07 100.49 L714.74 99.76 L716.4 99.03 L718.06 98.29 L719.73 97.55 L721.39 96.8 L723.06 96.05 L724.72 95.3 L726.38 94.55 L728.05 93.79 L729.71 93.04 L731.38 92.29 L733.04 91.55 L734.7 90.81 L736.37 90.07 L738.03 89.35 L739.69 88.63 L741.36 87.93 L743.02 87.23 L744.69 86.56 L746.35 85.9 L748.01 85.26 L749.68 84.64 L751.34 84.05 L753.01 83.48 L754.67 82.95 L756.33 82.45 L758 81.98 L759.66 81.56 L761.33 81.17 L762.99 80.84 L764.65 80.56 L766.32 80.33 L767.98 80.16 L769.64 80.06 L771.31 80.03 L772.97 80.07 L774.64 80.19 L776.3 80.4" stroke="#c39a55" stroke-width="3.0" fill="none" stroke-dasharray="6.1 3.6"/>
<path d="M578.3 163.77 L579.96 163.77 L581.63 163.76 L583.29 163.76 L584.96 163.76 L586.62 163.75 L588.28 163.75 L589.95 163.74 L591.61 163.74 L593.27 163.73 L594.94 163.72 L596.6 163.71 L598.27 163.7 L599.93 163.69 L601.59 163.68 L603.26 163.66 L604.92 163.65 L606.59 163.63 L608.25 163.62 L609.91 163.6 L611.58 163.59 L613.24 163.57 L614.91 163.55 L616.57 163.53 L618.23 163.51 L619.9 163.49 L621.56 163.47 L623.22 163.45 L624.89 163.42 L626.55 163.4 L628.22 163.38 L629.88 163.35 L631.54 163.32 L633.21 163.3 L634.87 163.27 L636.54 163.24 L638.2 163.21 L639.86 163.18 L641.53 163.15 L643.19 163.12 L644.85 163.08 L646.52 163.05 L648.18 163.01 L649.85 162.97 L651.51 162.93 L653.17 162.89 L654.84 162.84 L656.5 162.8 L658.17 162.75 L659.83 162.7 L661.49 162.65 L663.16 162.59 L664.82 162.53 L666.48 162.47 L668.15 162.4 L669.81 162.33 L671.48 162.26 L673.14 162.18 L674.8 162.1 L676.47 162.01 L678.13 161.92 L679.8 161.82 L681.46 161.72 L683.12 161.61 L684.79 161.49 L686.45 161.37 L688.12 161.23 L689.78 161.09 L691.44 160.94 L693.11 160.79 L694.77 160.62 L696.43 160.44 L698.1 160.25 L699.76 160.05 L701.43 159.84 L703.09 159.62 L704.75 159.38 L706.42 159.13 L708.08 158.87 L709.75 158.59 L711.41 158.29 L713.07 157.98 L714.74 157.65 L716.4 157.3 L718.06 156.94 L719.73 156.55 L721.39 156.15 L723.06 155.72 L724.72 155.27 L726.38 154.8 L728.05 154.31 L729.71 153.79 L731.38 153.24 L733.04 152.67 L734.7 152.07 L736.37 151.45 L738.03 150.79 L739.69 150.11 L741.36 149.39 L743.02 148.64 L744.69 147.86 L746.35 147.05 L748.01 146.2 L749.68 145.31 L751.34 144.39 L753.01 143.43 L754.67 142.44 L756.33 141.4 L758 140.32 L759.66 139.21 L761.33 138.05 L762.99 136.85 L764.65 135.6 L766.32 134.31 L767.98 132.98 L769.64 131.59 L771.31 130.17 L772.97 128.69 L774.64 127.17 L776.3 125.59" stroke="#cf6a4b" stroke-width="3.0" fill="none" stroke-dasharray="6.1 3.6"/>
<path d="M578.3 86.56 L579.96 86.57 L581.63 86.58 L583.29 86.6 L584.96 86.64 L586.62 86.68 L588.28 86.74 L589.95 86.8 L591.61 86.87 L593.27 86.95 L594.94 87.05 L596.6 87.15 L598.27 87.26 L599.93 87.38 L601.59 87.51 L603.26 87.65 L604.92 87.8 L606.59 87.96 L608.25 88.13 L609.91 88.3 L611.58 88.49 L613.24 88.69 L614.91 88.89 L616.57 89.1 L618.23 89.33 L619.9 89.56 L621.56 89.8 L623.22 90.05 L624.89 90.31 L626.55 90.58 L628.22 90.86 L629.88 91.15 L631.54 91.44 L633.21 91.75 L634.87 92.06 L636.54 92.39 L638.2 92.72 L639.86 93.06 L641.53 93.41 L643.19 93.77 L644.85 94.14 L646.52 94.51 L648.18 94.9 L649.85 95.29 L651.51 95.7 L653.17 96.11 L654.84 96.53 L656.5 96.97 L658.17 97.41 L659.83 97.86 L661.49 98.32 L663.16 98.79 L664.82 99.27 L666.48 99.76 L668.15 100.26 L669.81 100.77 L671.48 101.29 L673.14 101.82 L674.8 102.36 L676.47 102.91 L678.13 103.47 L679.8 104.04 L681.46 104.62 L683.12 105.22 L684.79 105.82 L686.45 106.44 L688.12 107.07 L689.78 107.71 L691.44 108.36 L693.11 109.02 L694.77 109.7 L696.43 110.38 L698.1 111.08 L699.76 111.79 L701.43 112.52 L703.09 113.25 L704.75 114 L706.42 114.76 L708.08 115.53 L709.75 116.32 L711.41 117.12 L713.07 117.93 L714.74 118.75 L716.4 119.58 L718.06 120.43 L719.73 121.29 L721.39 122.16 L723.06 123.04 L724.72 123.93 L726.38 124.84 L728.05 125.75 L729.71 126.67 L731.38 127.61 L733.04 128.55 L734.7 129.5 L736.37 130.45 L738.03 131.42 L739.69 132.38 L741.36 133.36 L743.02 134.33 L744.69 135.31 L746.35 136.29 L748.01 137.27 L749.68 138.24 L751.34 139.21 L753.01 140.18 L754.67 141.14 L756.33 142.09 L758 143.02 L759.66 143.95 L761.33 144.85 L762.99 145.74 L764.65 146.6 L766.32 147.44 L767.98 148.25 L769.64 149.02 L771.31 149.76 L772.97 150.46 L774.64 151.12 L776.3 151.73" stroke="#9cc45e" stroke-width="3.2" fill="none"/>
<path d="M578.3 130.35 L579.96 130.31 L581.63 130.26 L583.29 130.21 L584.96 130.14 L586.62 130.07 L588.28 129.98 L589.95 129.89 L591.61 129.79 L593.27 129.68 L594.94 129.57 L596.6 129.45 L598.27 129.32 L599.93 129.19 L601.59 129.05 L603.26 128.9 L604.92 128.75 L606.59 128.6 L608.25 128.45 L609.91 128.29 L611.58 128.12 L613.24 127.96 L614.91 127.79 L616.57 127.62 L618.23 127.45 L619.9 127.25 L621.56 127.03 L623.22 126.8 L624.89 126.55 L626.55 126.28 L628.22 126 L629.88 125.7 L631.54 125.39 L633.21 125.08 L634.87 124.75 L636.54 124.42 L638.2 124.08 L639.86 123.74 L641.53 123.4 L643.19 123.06 L644.85 122.72 L646.52 122.38 L648.18 122.04 L649.85 121.71 L651.51 121.39 L653.17 121.07 L654.84 120.77 L656.5 120.48 L658.17 120.19 L659.83 119.9 L661.49 119.61 L663.16 119.31 L664.82 119.01 L666.48 118.72 L668.15 118.43 L669.81 118.16 L671.48 117.89 L673.14 117.64 L674.8 117.41 L676.47 117.2 L678.13 117.01 L679.8 116.8 L681.46 116.6 L683.12 116.43 L684.79 116.32 L686.45 116.29 L688.12 116.39 L689.78 116.59 L691.44 116.83 L693.11 117.17 L694.77 117.58 L696.43 118.05 L698.1 118.58 L699.76 119.23 L701.43 119.99 L703.09 120.82 L704.75 121.71 L706.42 122.63 L708.08 123.68 L709.75 124.86 L711.41 126.12 L713.07 127.39 L714.74 128.6 L716.4 129.71 L718.06 130.65 L719.73 131.46 L721.39 132.22 L723.06 132.93 L724.72 133.59 L726.38 134.2 L728.05 134.77 L729.71 135.29 L731.38 135.79 L733.04 136.27 L734.7 136.75 L736.37 137.2 L738.03 137.65 L739.69 138.07 L741.36 138.48 L743.02 138.86 L744.69 139.22 L746.35 139.56 L748.01 139.88 L749.68 140.16 L751.34 140.42 L753.01 140.66 L754.67 140.87 L756.33 141.08 L758 141.29 L759.66 141.49 L761.33 141.68 L762.99 141.86 L764.65 142.03 L766.32 142.19 L767.98 142.33 L769.64 142.46 L771.31 142.57 L772.97 142.66 L774.64 142.73 L776.3 142.77" stroke="#e8a838" stroke-width="3.2" fill="none"/>
<path d="M578.3 163.7 L579.96 163.7 L581.63 163.7 L583.29 163.7 L584.96 163.7 L586.62 163.69 L588.28 163.69 L589.95 163.69 L591.61 163.68 L593.27 163.68 L594.94 163.67 L596.6 163.67 L598.27 163.66 L599.93 163.66 L601.59 163.65 L603.26 163.64 L604.92 163.63 L606.59 163.63 L608.25 163.62 L609.91 163.61 L611.58 163.6 L613.24 163.59 L614.91 163.57 L616.57 163.56 L618.23 163.55 L619.9 163.54 L621.56 163.53 L623.22 163.51 L624.89 163.5 L626.55 163.48 L628.22 163.47 L629.88 163.45 L631.54 163.44 L633.21 163.42 L634.87 163.4 L636.54 163.39 L638.2 163.37 L639.86 163.34 L641.53 163.31 L643.19 163.27 L644.85 163.22 L646.52 163.16 L648.18 163.1 L649.85 163.03 L651.51 162.95 L653.17 162.87 L654.84 162.78 L656.5 162.69 L658.17 162.6 L659.83 162.49 L661.49 162.39 L663.16 162.28 L664.82 162.15 L666.48 162 L668.15 161.83 L669.81 161.64 L671.48 161.43 L673.14 161.2 L674.8 160.94 L676.47 160.65 L678.13 160.34 L679.8 159.98 L681.46 159.47 L683.12 158.8 L684.79 157.99 L686.45 157.1 L688.12 156.16 L689.78 155.21 L691.44 154.21 L693.11 153.1 L694.77 151.9 L696.43 150.64 L698.1 149.35 L699.76 147.99 L701.43 146.57 L703.09 145.08 L704.75 143.51 L706.42 141.87 L708.08 140.09 L709.75 138.19 L711.41 136.21 L713.07 134.18 L714.74 132.14 L716.4 130.13 L718.06 128.2 L719.73 126.27 L721.39 124.31 L723.06 122.35 L724.72 120.43 L726.38 118.6 L728.05 116.89 L729.71 115.34 L731.38 113.91 L733.04 112.54 L734.7 111.21 L736.37 109.93 L738.03 108.7 L739.69 107.5 L741.36 106.35 L743.02 105.23 L744.69 104.14 L746.35 103.08 L748.01 102.05 L749.68 101.04 L751.34 100.05 L753.01 99.08 L754.67 98.12 L756.33 97.18 L758 96.25 L759.66 95.35 L761.33 94.46 L762.99 93.6 L764.65 92.75 L766.32 91.93 L767.98 91.13 L769.64 90.36 L771.31 89.61 L772.97 88.88 L774.64 88.18 L776.3 87.51" stroke="#f0825f" stroke-width="3.2" fill="none"/>
<path d="M776.3 103.86 L815.9 103.86" stroke="#cf6a4b" stroke-width="3.0" fill="none" stroke-dasharray="6.1 3.6"/>
<path d="M776.3 159.29 L815.9 159.29" stroke="#84a753" stroke-width="3.0" fill="none" stroke-dasharray="6.1 3.6"/>
<path d="M776.3 76.23 L815.9 76.23" stroke="#f0825f" stroke-width="3.2" fill="none"/>
<path d="M776.3 161.74 L815.9 161.74" stroke="#9cc45e" stroke-width="3.2" fill="none"/>
<path d="M706.6 1.95V169.8" stroke="#1c1c1c" stroke-width="1.1" stroke-dasharray="4.9 3.2" fill="none"/>
<path d="M776.3 1.95V169.8" stroke="#1c1c1c" stroke-width="1.1" stroke-dasharray="4.9 3.2" fill="none"/>
</g>
<circle cx="733.8" cy="41.0" r="33.8" fill="#fff" stroke="#5c5c5c" stroke-width="2.1"/>
<circle cx="733.8" cy="41.5" r="21.8" fill="#b9d3fb"/>
<path d="M733.8 41.4L743.75 34.93" stroke="#4a4a4a" stroke-width="1.5" fill="none"/>
<path d="M751.8 29.7L745.88 38.2L746 33.47L741.63 31.66Z" fill="#4a4a4a"/>
<text stroke-width="0" x="733.6" y="35.2" font-size="16.5" text-anchor="start" fill="#1a1a1a" style="font-style:italic" textLength="7.2" lengthAdjust="spacingAndGlyphs">ε</text>
<text stroke-width="0" x="713.4" y="51.2" font-size="11.4" text-anchor="start" fill="#1a1a1a" textLength="41" lengthAdjust="spacingAndGlyphs">RanGEF</text>
<text stroke-width="0" x="596" y="81" font-size="19" text-anchor="start" fill="#1a1a1a" style="font-style:italic" textLength="7" lengthAdjust="spacingAndGlyphs">I</text>
<text stroke-width="0" x="603.9" y="84.5" font-size="13.2" text-anchor="start" fill="#1a1a1a" style="font-style:italic" textLength="7.4" lengthAdjust="spacingAndGlyphs">n</text>
<text stroke-width="0" x="612" y="119.5" font-size="19" text-anchor="start" fill="#1a1a1a" style="font-style:italic" textLength="12.2" lengthAdjust="spacingAndGlyphs">B</text>
<text stroke-width="0" x="624.4" y="123" font-size="13.2" text-anchor="start" fill="#1a1a1a" style="font-style:italic" textLength="7.4" lengthAdjust="spacingAndGlyphs">n</text>
<text stroke-width="0" x="656.3" y="153.4" font-size="19" text-anchor="start" fill="#1a1a1a" style="font-style:italic" textLength="11.9" lengthAdjust="spacingAndGlyphs">A</text>
<text stroke-width="0" x="668.4" y="156.9" font-size="13.2" text-anchor="start" fill="#1a1a1a" style="font-style:italic" textLength="7.4" lengthAdjust="spacingAndGlyphs">n</text>
<text stroke-width="0" x="783.5" y="70" font-size="19" text-anchor="start" fill="#1a1a1a" style="font-style:italic" textLength="11.9" lengthAdjust="spacingAndGlyphs">A</text>
<text stroke-width="0" x="795.6" y="73.5" font-size="13.2" text-anchor="start" fill="#1a1a1a" style="font-style:italic" textLength="5.9" lengthAdjust="spacingAndGlyphs">c</text>
<text stroke-width="0" x="787.5" y="151.5" font-size="19" text-anchor="start" fill="#1a1a1a" style="font-style:italic" textLength="7" lengthAdjust="spacingAndGlyphs">I</text>
<text stroke-width="0" x="795.4" y="155" font-size="13.2" text-anchor="start" fill="#1a1a1a" style="font-style:italic" textLength="5.9" lengthAdjust="spacingAndGlyphs">c</text>
<path d="M578.3 169.8v-2.8M578.3 1.35v2.8M598.1 169.8v-2.8M598.1 1.35v2.8M617.9 169.8v-2.8M617.9 1.35v2.8M637.7 169.8v-2.8M637.7 1.35v2.8M657.5 169.8v-2.8M657.5 1.35v2.8M677.3 169.8v-2.8M677.3 1.35v2.8M697.1 169.8v-2.8M697.1 1.35v2.8M716.9 169.8v-2.8M716.9 1.35v2.8M736.7 169.8v-2.8M736.7 1.35v2.8M756.5 169.8v-2.8M756.5 1.35v2.8M776.3 169.8v-2.8M776.3 1.35v2.8M796.1 169.8v-2.8M796.1 1.35v2.8" stroke="#000" stroke-width="1.0" fill="none"/>
<path d="M578.3 163.7h4.7M811.5 163.7h-4.7M578.3 131h4.7M811.5 131h-4.7M578.3 98.3h4.7M811.5 98.3h-4.7M578.3 65.6h4.7M811.5 65.6h-4.7M578.3 32.9h4.7M811.5 32.9h-4.7" stroke="#000" stroke-width="1.0" fill="none"/>
<path d="M578.3 155.52h2.9M811.5 155.52h-2.9M578.3 147.35h2.9M811.5 147.35h-2.9M578.3 139.17h2.9M811.5 139.17h-2.9M578.3 122.82h2.9M811.5 122.82h-2.9M578.3 114.65h2.9M811.5 114.65h-2.9M578.3 106.47h2.9M811.5 106.47h-2.9M578.3 90.12h2.9M811.5 90.12h-2.9M578.3 81.95h2.9M811.5 81.95h-2.9M578.3 73.77h2.9M811.5 73.77h-2.9M578.3 57.42h2.9M811.5 57.42h-2.9M578.3 49.25h2.9M811.5 49.25h-2.9M578.3 41.07h2.9M811.5 41.07h-2.9M578.3 24.72h2.9M811.5 24.72h-2.9M578.3 16.55h2.9M811.5 16.55h-2.9M578.3 8.37h2.9M811.5 8.37h-2.9" stroke="#000" stroke-width="1.0" fill="none"/>
<rect x="578.3" y="1.35" width="233.2" height="168.45" fill="none" stroke="#000" stroke-width="1.5"/>
<text x="578.3" y="185.7" font-size="15.2" text-anchor="middle" fill="#1a1a1a" textLength="7.2" lengthAdjust="spacingAndGlyphs">0</text>
<text x="617.9" y="185.7" font-size="15.2" text-anchor="middle" fill="#1a1a1a" textLength="18" lengthAdjust="spacingAndGlyphs">0.2</text>
<text x="657.5" y="185.7" font-size="15.2" text-anchor="middle" fill="#1a1a1a" textLength="18" lengthAdjust="spacingAndGlyphs">0.4</text>
<text x="697.1" y="185.7" font-size="15.2" text-anchor="middle" fill="#1a1a1a" textLength="18" lengthAdjust="spacingAndGlyphs">0.6</text>
<text x="736.7" y="185.7" font-size="15.2" text-anchor="middle" fill="#1a1a1a" textLength="18" lengthAdjust="spacingAndGlyphs">0.8</text>
<text x="776.3" y="185.7" font-size="15.2" text-anchor="middle" fill="#1a1a1a" textLength="18" lengthAdjust="spacingAndGlyphs">1.0</text>
<g transform="translate(678.6 207)"><text stroke-width="0" x="0" y="0" font-size="19.5" text-anchor="start" fill="#1a1a1a" style="font-style:italic" textLength="8.4" lengthAdjust="spacingAndGlyphs">r</text><path d="M10.4 4.6L18.2 -14.2" fill="none" stroke="#1a1a1a" stroke-width="1.0"/><text stroke-width="0" x="19.6" y="0" font-size="19.5" text-anchor="start" fill="#1a1a1a" style="font-style:italic" textLength="13" lengthAdjust="spacingAndGlyphs">R</text></g>
<defs><clipPath id="cc"><rect x="48" y="217.4" width="249" height="168.4"/></clipPath></defs>
<g clip-path="url(#cc)">
<rect x="40" y="210" width="270" height="185" fill="#4c73a3"/>
<path d="M30 354.76 L31.89 352.86 L33.79 350.96 L35.68 349.06 L37.57 347.17 L39.46 345.27 L41.36 343.37 L43.25 341.47 L45.14 339.57 L47.03 337.67 L48.93 335.77 L50.82 333.88 L52.71 331.98 L54.6 330.1 L56.5 328.21 L58.39 326.32 L60.28 324.43 L62.17 322.55 L64.07 320.66 L65.96 318.77 L67.85 316.87 L69.74 314.97 L71.64 313.07 L73.53 311.16 L75.42 309.25 L77.32 307.33 L79.21 305.4 L81.1 303.46 L82.99 301.5 L84.89 299.52 L86.78 297.52 L88.67 295.52 L90.56 293.5 L92.46 291.48 L94.35 289.47 L96.24 287.45 L98.13 285.44 L100.03 283.43 L101.92 281.44 L103.81 279.47 L105.7 277.51 L107.6 275.58 L109.49 273.67 L111.38 271.79 L113.28 269.94 L115.17 268.12 L117.06 266.33 L118.95 264.56 L120.85 262.81 L122.74 261.07 L124.63 259.35 L126.52 257.64 L128.42 255.94 L130.31 254.24 L132.2 252.54 L134.09 250.85 L135.99 249.14 L137.88 247.43 L139.77 245.71 L141.66 243.98 L143.56 242.24 L145.45 240.51 L147.34 238.77 L149.23 237.03 L151.13 235.29 L153.02 233.56 L154.91 231.82 L156.81 230.09 L158.7 228.36 L160.59 226.63 L162.48 224.91 L164.38 223.19 L166.27 221.48 L168.16 219.77 L170.05 218.07 L171.95 216.38 L173.84 214.69 L175.73 213.01 L177.62 211.33 L179.52 209.66 L181.41 208 L183.3 206.34 L185.19 204.69 L187.09 203.03 L188.98 201.39 L190.87 199.74 L192.77 198.1 L194.66 196.46 L196.55 194.81 L198.44 193.17 L200.34 191.53 L202.23 189.89 L204.12 188.25 L206.01 186.61 L207.91 184.98 L209.8 183.34 L211.69 181.7 L213.58 180.07 L215.48 178.43 L217.37 176.8 L219.26 175.17 L221.15 173.53 L223.05 171.9 L224.94 170.27 L226.83 168.64 L228.72 167.02 L230.62 165.39 L232.51 163.76 L234.4 162.14 L236.3 160.51 L238.19 158.89 L240.08 157.27 L241.97 155.65 L243.87 154.03 L245.76 152.41 L247.65 150.79 L249.54 149.17 L251.44 147.56 L253.33 145.94 L255.22 144.33 L257.11 142.72 L259.01 141.11 L260.9 139.5 L262.79 137.89 L264.68 136.29 L266.58 134.68 L268.47 133.08 L270.36 131.47 L272.26 129.87 L274.15 128.27 L276.04 126.68 L277.93 125.08 L279.83 123.48 L281.72 121.89 L283.61 120.3 L285.5 118.71 L287.4 117.12 L289.29 115.53 L291.18 113.94 L293.07 112.36 L294.97 110.78 L296.86 109.2 L298.75 107.62 L300.64 106.04 L302.54 104.46 L304.43 102.89 L306.32 101.31 L308.21 99.74 L310.11 98.17 L312 96.61 L312 400 L30 400 Z" fill="#5777b4" stroke="none"/>
<path d="M30 354.76 L31.89 352.86 L33.79 350.96 L35.68 349.06 L37.57 347.17 L39.46 345.27 L41.36 343.37 L43.25 341.47 L45.14 339.57 L47.03 337.67 L48.93 335.77 L50.82 333.88 L52.71 331.98 L54.6 330.1 L56.5 328.21 L58.39 326.32 L60.28 324.43 L62.17 322.55 L64.07 320.66 L65.96 318.77 L67.85 316.87 L69.74 314.97 L71.64 313.07 L73.53 311.16 L75.42 309.25 L77.32 307.33 L79.21 305.4 L81.1 303.46 L82.99 301.5 L84.89 299.52 L86.78 297.52 L88.67 295.52 L90.56 293.5 L92.46 291.48 L94.35 289.47 L96.24 287.45 L98.13 285.44 L100.03 283.43 L101.92 281.44 L103.81 279.47 L105.7 277.51 L107.6 275.58 L109.49 273.67 L111.38 271.79 L113.28 269.94 L115.17 268.12 L117.06 266.33 L118.95 264.56 L120.85 262.81 L122.74 261.07 L124.63 259.35 L126.52 257.64 L128.42 255.94 L130.31 254.24 L132.2 252.54 L134.09 250.85 L135.99 249.14 L137.88 247.43 L139.77 245.71 L141.66 243.98 L143.56 242.24 L145.45 240.51 L147.34 238.77 L149.23 237.03 L151.13 235.29 L153.02 233.56 L154.91 231.82 L156.81 230.09 L158.7 228.36 L160.59 226.63 L162.48 224.91 L164.38 223.19 L166.27 221.48 L168.16 219.77 L170.05 218.07 L171.95 216.38 L173.84 214.69 L175.73 213.01 L177.62 211.33 L179.52 209.66 L181.41 208 L183.3 206.34 L185.19 204.69 L187.09 203.03 L188.98 201.39 L190.87 199.74 L192.77 198.1 L194.66 196.46 L196.55 194.81 L198.44 193.17 L200.34 191.53 L202.23 189.89 L204.12 188.25 L206.01 186.61 L207.91 184.98 L209.8 183.34 L211.69 181.7 L213.58 180.07 L215.48 178.43 L217.37 176.8 L219.26 175.17 L221.15 173.53 L223.05 171.9 L224.94 170.27 L226.83 168.64 L228.72 167.02 L230.62 165.39 L232.51 163.76 L234.4 162.14 L236.3 160.51 L238.19 158.89 L240.08 157.27 L241.97 155.65 L243.87 154.03 L245.76 152.41 L247.65 150.79 L249.54 149.17 L251.44 147.56 L253.33 145.94 L255.22 144.33 L257.11 142.72 L259.01 141.11 L260.9 139.5 L262.79 137.89 L264.68 136.29 L266.58 134.68 L268.47 133.08 L270.36 131.47 L272.26 129.87 L274.15 128.27 L276.04 126.68 L277.93 125.08 L279.83 123.48 L281.72 121.89 L283.61 120.3 L285.5 118.71 L287.4 117.12 L289.29 115.53 L291.18 113.94 L293.07 112.36 L294.97 110.78 L296.86 109.2 L298.75 107.62 L300.64 106.04 L302.54 104.46 L304.43 102.89 L306.32 101.31 L308.21 99.74 L310.11 98.17 L312 96.61" fill="none" stroke="#2a2a2a" stroke-width="0.6" stroke-opacity="0.85"/>
<path d="M30 395.81 L31.89 393.87 L33.79 391.92 L35.68 389.98 L37.57 388.04 L39.46 386.1 L41.36 384.16 L43.25 382.22 L45.14 380.28 L47.03 378.34 L48.93 376.4 L50.82 374.46 L52.71 372.53 L54.6 370.59 L56.5 368.66 L58.39 366.72 L60.28 364.79 L62.17 362.86 L64.07 360.92 L65.96 358.99 L67.85 357.07 L69.74 355.14 L71.64 353.21 L73.53 351.29 L75.42 349.36 L77.32 347.44 L79.21 345.52 L81.1 343.6 L82.99 341.69 L84.89 339.77 L86.78 337.86 L88.67 335.95 L90.56 334.04 L92.46 332.14 L94.35 330.24 L96.24 328.34 L98.13 326.44 L100.03 324.55 L101.92 322.66 L103.81 320.77 L105.7 318.89 L107.6 317.01 L109.49 315.14 L111.38 313.27 L113.28 311.41 L115.17 309.55 L117.06 307.7 L118.95 305.85 L120.85 304.01 L122.74 302.18 L124.63 300.35 L126.52 298.53 L128.42 296.71 L130.31 294.91 L132.2 293.11 L134.09 291.33 L135.99 289.55 L137.88 287.78 L139.77 286.03 L141.66 284.28 L143.56 282.55 L145.45 280.82 L147.34 279.12 L149.23 277.42 L151.13 275.74 L153.02 274.07 L154.91 272.42 L156.81 270.79 L158.7 269.17 L160.59 267.58 L162.48 266 L164.38 264.44 L166.27 262.9 L168.16 261.38 L170.05 259.89 L171.95 258.41 L173.84 256.97 L175.73 255.54 L177.62 254.14 L179.52 252.77 L181.41 251.42 L183.3 250.1 L185.19 248.81 L187.09 247.55 L188.98 246.31 L190.87 245.11 L192.77 243.93 L194.66 242.78 L196.55 241.67 L198.44 240.58 L200.34 239.52 L202.23 238.49 L204.12 237.49 L206.01 236.52 L207.91 235.58 L209.8 234.66 L211.69 233.78 L213.58 232.92 L215.48 232.08 L217.37 231.28 L219.26 230.5 L221.15 229.74 L223.05 229.01 L224.94 228.3 L226.83 227.62 L228.72 226.95 L230.62 226.31 L232.51 225.69 L234.4 225.1 L236.3 224.52 L238.19 223.96 L240.08 223.43 L241.97 222.91 L243.87 222.41 L245.76 221.93 L247.65 221.47 L249.54 221.03 L251.44 220.6 L253.33 220.2 L255.22 219.81 L257.11 219.44 L259.01 219.08 L260.9 218.74 L262.79 218.42 L264.68 218.11 L266.58 217.82 L268.47 217.54 L270.36 217.28 L272.26 217.03 L274.15 216.79 L276.04 216.57 L277.93 216.36 L279.83 216.16 L281.72 215.97 L283.61 215.8 L285.5 215.63 L287.4 215.48 L289.29 215.33 L291.18 215.19 L293.07 215.06 L294.97 214.94 L296.86 214.83 L298.75 214.72 L300.64 214.62 L302.54 214.53 L304.43 214.44 L306.32 214.36 L308.21 214.28 L310.11 214.21 L312 214.14 L312 400 L30 400 Z" fill="#7f86a7" stroke="none"/>
<path d="M30 395.81 L31.89 393.87 L33.79 391.92 L35.68 389.98 L37.57 388.04 L39.46 386.1 L41.36 384.16 L43.25 382.22 L45.14 380.28 L47.03 378.34 L48.93 376.4 L50.82 374.46 L52.71 372.53 L54.6 370.59 L56.5 368.66 L58.39 366.72 L60.28 364.79 L62.17 362.86 L64.07 360.92 L65.96 358.99 L67.85 357.07 L69.74 355.14 L71.64 353.21 L73.53 351.29 L75.42 349.36 L77.32 347.44 L79.21 345.52 L81.1 343.6 L82.99 341.69 L84.89 339.77 L86.78 337.86 L88.67 335.95 L90.56 334.04 L92.46 332.14 L94.35 330.24 L96.24 328.34 L98.13 326.44 L100.03 324.55 L101.92 322.66 L103.81 320.77 L105.7 318.89 L107.6 317.01 L109.49 315.14 L111.38 313.27 L113.28 311.41 L115.17 309.55 L117.06 307.7 L118.95 305.85 L120.85 304.01 L122.74 302.18 L124.63 300.35 L126.52 298.53 L128.42 296.71 L130.31 294.91 L132.2 293.11 L134.09 291.33 L135.99 289.55 L137.88 287.78 L139.77 286.03 L141.66 284.28 L143.56 282.55 L145.45 280.82 L147.34 279.12 L149.23 277.42 L151.13 275.74 L153.02 274.07 L154.91 272.42 L156.81 270.79 L158.7 269.17 L160.59 267.58 L162.48 266 L164.38 264.44 L166.27 262.9 L168.16 261.38 L170.05 259.89 L171.95 258.41 L173.84 256.97 L175.73 255.54 L177.62 254.14 L179.52 252.77 L181.41 251.42 L183.3 250.1 L185.19 248.81 L187.09 247.55 L188.98 246.31 L190.87 245.11 L192.77 243.93 L194.66 242.78 L196.55 241.67 L198.44 240.58 L200.34 239.52 L202.23 238.49 L204.12 237.49 L206.01 236.52 L207.91 235.58 L209.8 234.66 L211.69 233.78 L213.58 232.92 L215.48 232.08 L217.37 231.28 L219.26 230.5 L221.15 229.74 L223.05 229.01 L224.94 228.3 L226.83 227.62 L228.72 226.95 L230.62 226.31 L232.51 225.69 L234.4 225.1 L236.3 224.52 L238.19 223.96 L240.08 223.43 L241.97 222.91 L243.87 222.41 L245.76 221.93 L247.65 221.47 L249.54 221.03 L251.44 220.6 L253.33 220.2 L255.22 219.81 L257.11 219.44 L259.01 219.08 L260.9 218.74 L262.79 218.42 L264.68 218.11 L266.58 217.82 L268.47 217.54 L270.36 217.28 L272.26 217.03 L274.15 216.79 L276.04 216.57 L277.93 216.36 L279.83 216.16 L281.72 215.97 L283.61 215.8 L285.5 215.63 L287.4 215.48 L289.29 215.33 L291.18 215.19 L293.07 215.06 L294.97 214.94 L296.86 214.83 L298.75 214.72 L300.64 214.62 L302.54 214.53 L304.43 214.44 L306.32 214.36 L308.21 214.28 L310.11 214.21 L312 214.14" fill="none" stroke="#2a2a2a" stroke-width="0.6" stroke-opacity="0.85"/>
<path d="M30 421.52 L31.89 419.33 L33.79 417.14 L35.68 414.95 L37.57 412.77 L39.46 410.59 L41.36 408.41 L43.25 406.23 L45.14 404.06 L47.03 401.89 L48.93 399.72 L50.82 397.55 L52.71 395.39 L54.6 393.23 L56.5 391.07 L58.39 388.92 L60.28 386.77 L62.17 384.63 L64.07 382.49 L65.96 380.35 L67.85 378.22 L69.74 376.09 L71.64 373.97 L73.53 371.85 L75.42 369.73 L77.32 367.63 L79.21 365.52 L81.1 363.43 L82.99 361.33 L84.89 359.25 L86.78 357.17 L88.67 355.1 L90.56 353.03 L92.46 350.97 L94.35 348.92 L96.24 346.88 L98.13 344.84 L100.03 342.82 L101.92 340.8 L103.81 338.79 L105.7 336.79 L107.6 334.79 L109.49 332.81 L111.38 330.86 L113.28 328.94 L115.17 327.02 L117.06 325.12 L118.95 323.22 L120.85 321.34 L122.74 319.47 L124.63 317.61 L126.52 315.77 L128.42 313.94 L130.31 312.12 L132.2 310.32 L134.09 308.53 L135.99 306.76 L137.88 305.01 L139.77 303.27 L141.66 301.54 L143.56 299.83 L145.45 298.15 L147.34 296.47 L149.23 294.82 L151.13 293.19 L153.02 291.57 L154.91 289.98 L156.81 288.4 L158.7 286.85 L160.59 285.32 L162.48 283.81 L164.38 282.32 L166.27 280.85 L168.16 279.41 L170.05 277.99 L171.95 276.59 L173.84 275.22 L175.73 273.88 L177.62 272.55 L179.52 271.26 L181.41 269.99 L183.3 268.74 L185.19 267.52 L187.09 266.33 L188.98 265.16 L190.87 264.01 L192.77 262.9 L194.66 261.8 L196.55 260.74 L198.44 259.69 L200.34 258.68 L202.23 257.68 L204.12 256.71 L206.01 255.76 L207.91 254.84 L209.8 253.94 L211.69 253.05 L213.58 252.19 L215.48 251.35 L217.37 250.53 L219.26 249.73 L221.15 248.95 L223.05 248.19 L224.94 247.44 L226.83 246.71 L228.72 246 L230.62 245.3 L232.51 244.62 L234.4 243.96 L236.3 243.31 L238.19 242.68 L240.08 242.06 L241.97 241.46 L243.87 240.88 L245.76 240.31 L247.65 239.75 L249.54 239.21 L251.44 238.69 L253.33 238.18 L255.22 237.69 L257.11 237.21 L259.01 236.75 L260.9 236.3 L262.79 235.87 L264.68 235.45 L266.58 235.05 L268.47 234.66 L270.36 234.29 L272.26 233.93 L274.15 233.59 L276.04 233.26 L277.93 232.94 L279.83 232.64 L281.72 232.34 L283.61 232.06 L285.5 231.8 L287.4 231.54 L289.29 231.29 L291.18 231.06 L293.07 230.83 L294.97 230.62 L296.86 230.41 L298.75 230.21 L300.64 230.03 L302.54 229.85 L304.43 229.67 L306.32 229.51 L308.21 229.35 L310.11 229.2 L312 229.05 L312 400 L30 400 Z" fill="#a99c98" stroke="none"/>
<path d="M30 421.52 L31.89 419.33 L33.79 417.14 L35.68 414.95 L37.57 412.77 L39.46 410.59 L41.36 408.41 L43.25 406.23 L45.14 404.06 L47.03 401.89 L48.93 399.72 L50.82 397.55 L52.71 395.39 L54.6 393.23 L56.5 391.07 L58.39 388.92 L60.28 386.77 L62.17 384.63 L64.07 382.49 L65.96 380.35 L67.85 378.22 L69.74 376.09 L71.64 373.97 L73.53 371.85 L75.42 369.73 L77.32 367.63 L79.21 365.52 L81.1 363.43 L82.99 361.33 L84.89 359.25 L86.78 357.17 L88.67 355.1 L90.56 353.03 L92.46 350.97 L94.35 348.92 L96.24 346.88 L98.13 344.84 L100.03 342.82 L101.92 340.8 L103.81 338.79 L105.7 336.79 L107.6 334.79 L109.49 332.81 L111.38 330.86 L113.28 328.94 L115.17 327.02 L117.06 325.12 L118.95 323.22 L120.85 321.34 L122.74 319.47 L124.63 317.61 L126.52 315.77 L128.42 313.94 L130.31 312.12 L132.2 310.32 L134.09 308.53 L135.99 306.76 L137.88 305.01 L139.77 303.27 L141.66 301.54 L143.56 299.83 L145.45 298.15 L147.34 296.47 L149.23 294.82 L151.13 293.19 L153.02 291.57 L154.91 289.98 L156.81 288.4 L158.7 286.85 L160.59 285.32 L162.48 283.81 L164.38 282.32 L166.27 280.85 L168.16 279.41 L170.05 277.99 L171.95 276.59 L173.84 275.22 L175.73 273.88 L177.62 272.55 L179.52 271.26 L181.41 269.99 L183.3 268.74 L185.19 267.52 L187.09 266.33 L188.98 265.16 L190.87 264.01 L192.77 262.9 L194.66 261.8 L196.55 260.74 L198.44 259.69 L200.34 258.68 L202.23 257.68 L204.12 256.71 L206.01 255.76 L207.91 254.84 L209.8 253.94 L211.69 253.05 L213.58 252.19 L215.48 251.35 L217.37 250.53 L219.26 249.73 L221.15 248.95 L223.05 248.19 L224.94 247.44 L226.83 246.71 L228.72 246 L230.62 245.3 L232.51 244.62 L234.4 243.96 L236.3 243.31 L238.19 242.68 L240.08 242.06 L241.97 241.46 L243.87 240.88 L245.76 240.31 L247.65 239.75 L249.54 239.21 L251.44 238.69 L253.33 238.18 L255.22 237.69 L257.11 237.21 L259.01 236.75 L260.9 236.3 L262.79 235.87 L264.68 235.45 L266.58 235.05 L268.47 234.66 L270.36 234.29 L272.26 233.93 L274.15 233.59 L276.04 233.26 L277.93 232.94 L279.83 232.64 L281.72 232.34 L283.61 232.06 L285.5 231.8 L287.4 231.54 L289.29 231.29 L291.18 231.06 L293.07 230.83 L294.97 230.62 L296.86 230.41 L298.75 230.21 L300.64 230.03 L302.54 229.85 L304.43 229.67 L306.32 229.51 L308.21 229.35 L310.11 229.2 L312 229.05" fill="none" stroke="#2a2a2a" stroke-width="0.6" stroke-opacity="0.85"/>
<path d="M30 433.7 L31.89 431.46 L33.79 429.22 L35.68 426.99 L37.57 424.76 L39.46 422.53 L41.36 420.31 L43.25 418.08 L45.14 415.86 L47.03 413.65 L48.93 411.43 L50.82 409.22 L52.71 407.01 L54.6 404.81 L56.5 402.61 L58.39 400.41 L60.28 398.22 L62.17 396.03 L64.07 393.85 L65.96 391.67 L67.85 389.5 L69.74 387.33 L71.64 385.16 L73.53 383 L75.42 380.85 L77.32 378.7 L79.21 376.56 L81.1 374.42 L82.99 372.29 L84.89 370.17 L86.78 368.05 L88.67 365.94 L90.56 363.84 L92.46 361.75 L94.35 359.66 L96.24 357.58 L98.13 355.51 L100.03 353.45 L101.92 351.4 L103.81 349.36 L105.7 347.33 L107.6 345.31 L109.49 343.29 L111.38 341.32 L113.28 339.36 L115.17 337.42 L117.06 335.49 L118.95 333.57 L120.85 331.67 L122.74 329.77 L124.63 327.89 L126.52 326.03 L128.42 324.18 L130.31 322.34 L132.2 320.52 L134.09 318.72 L135.99 316.93 L137.88 315.16 L139.77 313.41 L141.66 311.67 L143.56 309.95 L145.45 308.25 L147.34 306.57 L149.23 304.91 L151.13 303.27 L153.02 301.65 L154.91 300.05 L156.81 298.47 L158.7 296.92 L160.59 295.39 L162.48 293.88 L164.38 292.39 L166.27 290.93 L168.16 289.49 L170.05 288.07 L171.95 286.68 L173.84 285.32 L175.73 283.98 L177.62 282.67 L179.52 281.38 L181.41 280.12 L183.3 278.89 L185.19 277.68 L187.09 276.5 L188.98 275.34 L190.87 274.22 L192.77 273.12 L194.66 272.04 L196.55 270.99 L198.44 269.97 L200.34 268.97 L202.23 267.99 L204.12 267.04 L206.01 266.11 L207.91 265.21 L209.8 264.33 L211.69 263.47 L213.58 262.63 L215.48 261.81 L217.37 261.01 L219.26 260.23 L221.15 259.47 L223.05 258.73 L224.94 258.01 L226.83 257.3 L228.72 256.61 L230.62 255.94 L232.51 255.28 L234.4 254.64 L236.3 254.01 L238.19 253.4 L240.08 252.81 L241.97 252.23 L243.87 251.66 L245.76 251.12 L247.65 250.58 L249.54 250.06 L251.44 249.56 L253.33 249.07 L255.22 248.6 L257.11 248.14 L259.01 247.69 L260.9 247.27 L262.79 246.85 L264.68 246.45 L266.58 246.07 L268.47 245.7 L270.36 245.34 L272.26 245 L274.15 244.67 L276.04 244.35 L277.93 244.05 L279.83 243.76 L281.72 243.48 L283.61 243.22 L285.5 242.96 L287.4 242.72 L289.29 242.49 L291.18 242.26 L293.07 242.05 L294.97 241.84 L296.86 241.65 L298.75 241.46 L300.64 241.28 L302.54 241.11 L304.43 240.95 L306.32 240.79 L308.21 240.64 L310.11 240.5 L312 240.37 L312 400 L30 400 Z" fill="#cea67e" stroke="none"/>
<path d="M30 433.7 L31.89 431.46 L33.79 429.22 L35.68 426.99 L37.57 424.76 L39.46 422.53 L41.36 420.31 L43.25 418.08 L45.14 415.86 L47.03 413.65 L48.93 411.43 L50.82 409.22 L52.71 407.01 L54.6 404.81 L56.5 402.61 L58.39 400.41 L60.28 398.22 L62.17 396.03 L64.07 393.85 L65.96 391.67 L67.85 389.5 L69.74 387.33 L71.64 385.16 L73.53 383 L75.42 380.85 L77.32 378.7 L79.21 376.56 L81.1 374.42 L82.99 372.29 L84.89 370.17 L86.78 368.05 L88.67 365.94 L90.56 363.84 L92.46 361.75 L94.35 359.66 L96.24 357.58 L98.13 355.51 L100.03 353.45 L101.92 351.4 L103.81 349.36 L105.7 347.33 L107.6 345.31 L109.49 343.29 L111.38 341.32 L113.28 339.36 L115.17 337.42 L117.06 335.49 L118.95 333.57 L120.85 331.67 L122.74 329.77 L124.63 327.89 L126.52 326.03 L128.42 324.18 L130.31 322.34 L132.2 320.52 L134.09 318.72 L135.99 316.93 L137.88 315.16 L139.77 313.41 L141.66 311.67 L143.56 309.95 L145.45 308.25 L147.34 306.57 L149.23 304.91 L151.13 303.27 L153.02 301.65 L154.91 300.05 L156.81 298.47 L158.7 296.92 L160.59 295.39 L162.48 293.88 L164.38 292.39 L166.27 290.93 L168.16 289.49 L170.05 288.07 L171.95 286.68 L173.84 285.32 L175.73 283.98 L177.62 282.67 L179.52 281.38 L181.41 280.12 L183.3 278.89 L185.19 277.68 L187.09 276.5 L188.98 275.34 L190.87 274.22 L192.77 273.12 L194.66 272.04 L196.55 270.99 L198.44 269.97 L200.34 268.97 L202.23 267.99 L204.12 267.04 L206.01 266.11 L207.91 265.21 L209.8 264.33 L211.69 263.47 L213.58 262.63 L215.48 261.81 L217.37 261.01 L219.26 260.23 L221.15 259.47 L223.05 258.73 L224.94 258.01 L226.83 257.3 L228.72 256.61 L230.62 255.94 L232.51 255.28 L234.4 254.64 L236.3 254.01 L238.19 253.4 L240.08 252.81 L241.97 252.23 L243.87 251.66 L245.76 251.12 L247.65 250.58 L249.54 250.06 L251.44 249.56 L253.33 249.07 L255.22 248.6 L257.11 248.14 L259.01 247.69 L260.9 247.27 L262.79 246.85 L264.68 246.45 L266.58 246.07 L268.47 245.7 L270.36 245.34 L272.26 245 L274.15 244.67 L276.04 244.35 L277.93 244.05 L279.83 243.76 L281.72 243.48 L283.61 243.22 L285.5 242.96 L287.4 242.72 L289.29 242.49 L291.18 242.26 L293.07 242.05 L294.97 241.84 L296.86 241.65 L298.75 241.46 L300.64 241.28 L302.54 241.11 L304.43 240.95 L306.32 240.79 L308.21 240.64 L310.11 240.5 L312 240.37" fill="none" stroke="#2a2a2a" stroke-width="0.6" stroke-opacity="0.85"/>
<path d="M30 444.63 L31.89 442.31 L33.79 439.99 L35.68 437.67 L37.57 435.36 L39.46 433.05 L41.36 430.74 L43.25 428.44 L45.14 426.14 L47.03 423.84 L48.93 421.55 L50.82 419.26 L52.71 416.97 L54.6 414.69 L56.5 412.41 L58.39 410.14 L60.28 407.87 L62.17 405.61 L64.07 403.35 L65.96 401.1 L67.85 398.85 L69.74 396.6 L71.64 394.37 L73.53 392.14 L75.42 389.91 L77.32 387.7 L79.21 385.49 L81.1 383.28 L82.99 381.09 L84.89 378.9 L86.78 376.72 L88.67 374.54 L90.56 372.38 L92.46 370.23 L94.35 368.08 L96.24 365.94 L98.13 363.82 L100.03 361.7 L101.92 359.59 L103.81 357.5 L105.7 355.42 L107.6 353.34 L109.49 351.28 L111.38 349.26 L113.28 347.26 L115.17 345.27 L117.06 343.3 L118.95 341.34 L120.85 339.39 L122.74 337.46 L124.63 335.55 L126.52 333.65 L128.42 331.77 L130.31 329.9 L132.2 328.05 L134.09 326.22 L135.99 324.41 L137.88 322.61 L139.77 320.84 L141.66 319.08 L143.56 317.34 L145.45 315.63 L147.34 313.93 L149.23 312.26 L151.13 310.61 L153.02 308.98 L154.91 307.37 L156.81 305.79 L158.7 304.23 L160.59 302.7 L162.48 301.19 L164.38 299.7 L166.27 298.24 L168.16 296.81 L170.05 295.4 L171.95 294.02 L173.84 292.67 L175.73 291.34 L177.62 290.04 L179.52 288.77 L181.41 287.52 L183.3 286.31 L185.19 285.12 L187.09 283.96 L188.98 282.82 L190.87 281.72 L192.77 280.64 L194.66 279.59 L196.55 278.56 L198.44 277.56 L200.34 276.59 L202.23 275.64 L204.12 274.71 L206.01 273.81 L207.91 272.94 L209.8 272.08 L211.69 271.25 L213.58 270.44 L215.48 269.65 L217.37 268.88 L219.26 268.13 L221.15 267.4 L223.05 266.69 L224.94 265.99 L226.83 265.31 L228.72 264.65 L230.62 264.01 L232.51 263.38 L234.4 262.76 L236.3 262.16 L238.19 261.58 L240.08 261.01 L241.97 260.46 L243.87 259.92 L245.76 259.4 L247.65 258.89 L249.54 258.39 L251.44 257.91 L253.33 257.45 L255.22 257 L257.11 256.56 L259.01 256.14 L260.9 255.73 L262.79 255.34 L264.68 254.96 L266.58 254.59 L268.47 254.24 L270.36 253.9 L272.26 253.58 L274.15 253.27 L276.04 252.97 L277.93 252.68 L279.83 252.41 L281.72 252.14 L283.61 251.89 L285.5 251.65 L287.4 251.42 L289.29 251.2 L291.18 250.99 L293.07 250.79 L294.97 250.6 L296.86 250.41 L298.75 250.24 L300.64 250.07 L302.54 249.91 L304.43 249.76 L306.32 249.61 L308.21 249.47 L310.11 249.34 L312 249.21 L312 400 L30 400 Z" fill="#ecb26c" stroke="none"/>
<path d="M30 444.63 L31.89 442.31 L33.79 439.99 L35.68 437.67 L37.57 435.36 L39.46 433.05 L41.36 430.74 L43.25 428.44 L45.14 426.14 L47.03 423.84 L48.93 421.55 L50.82 419.26 L52.71 416.97 L54.6 414.69 L56.5 412.41 L58.39 410.14 L60.28 407.87 L62.17 405.61 L64.07 403.35 L65.96 401.1 L67.85 398.85 L69.74 396.6 L71.64 394.37 L73.53 392.14 L75.42 389.91 L77.32 387.7 L79.21 385.49 L81.1 383.28 L82.99 381.09 L84.89 378.9 L86.78 376.72 L88.67 374.54 L90.56 372.38 L92.46 370.23 L94.35 368.08 L96.24 365.94 L98.13 363.82 L100.03 361.7 L101.92 359.59 L103.81 357.5 L105.7 355.42 L107.6 353.34 L109.49 351.28 L111.38 349.26 L113.28 347.26 L115.17 345.27 L117.06 343.3 L118.95 341.34 L120.85 339.39 L122.74 337.46 L124.63 335.55 L126.52 333.65 L128.42 331.77 L130.31 329.9 L132.2 328.05 L134.09 326.22 L135.99 324.41 L137.88 322.61 L139.77 320.84 L141.66 319.08 L143.56 317.34 L145.45 315.63 L147.34 313.93 L149.23 312.26 L151.13 310.61 L153.02 308.98 L154.91 307.37 L156.81 305.79 L158.7 304.23 L160.59 302.7 L162.48 301.19 L164.38 299.7 L166.27 298.24 L168.16 296.81 L170.05 295.4 L171.95 294.02 L173.84 292.67 L175.73 291.34 L177.62 290.04 L179.52 288.77 L181.41 287.52 L183.3 286.31 L185.19 285.12 L187.09 283.96 L188.98 282.82 L190.87 281.72 L192.77 280.64 L194.66 279.59 L196.55 278.56 L198.44 277.56 L200.34 276.59 L202.23 275.64 L204.12 274.71 L206.01 273.81 L207.91 272.94 L209.8 272.08 L211.69 271.25 L213.58 270.44 L215.48 269.65 L217.37 268.88 L219.26 268.13 L221.15 267.4 L223.05 266.69 L224.94 265.99 L226.83 265.31 L228.72 264.65 L230.62 264.01 L232.51 263.38 L234.4 262.76 L236.3 262.16 L238.19 261.58 L240.08 261.01 L241.97 260.46 L243.87 259.92 L245.76 259.4 L247.65 258.89 L249.54 258.39 L251.44 257.91 L253.33 257.45 L255.22 257 L257.11 256.56 L259.01 256.14 L260.9 255.73 L262.79 255.34 L264.68 254.96 L266.58 254.59 L268.47 254.24 L270.36 253.9 L272.26 253.58 L274.15 253.27 L276.04 252.97 L277.93 252.68 L279.83 252.41 L281.72 252.14 L283.61 251.89 L285.5 251.65 L287.4 251.42 L289.29 251.2 L291.18 250.99 L293.07 250.79 L294.97 250.6 L296.86 250.41 L298.75 250.24 L300.64 250.07 L302.54 249.91 L304.43 249.76 L306.32 249.61 L308.21 249.47 L310.11 249.34 L312 249.21" fill="none" stroke="#2a2a2a" stroke-width="0.6" stroke-opacity="0.85"/>
<path d="M30 451.46 L31.89 449.11 L33.79 446.75 L35.68 444.4 L37.57 442.05 L39.46 439.71 L41.36 437.37 L43.25 435.03 L45.14 432.7 L47.03 430.37 L48.93 428.04 L50.82 425.72 L52.71 423.4 L54.6 421.08 L56.5 418.77 L58.39 416.47 L60.28 414.17 L62.17 411.87 L64.07 409.59 L65.96 407.3 L67.85 405.02 L69.74 402.75 L71.64 400.49 L73.53 398.23 L75.42 395.97 L77.32 393.73 L79.21 391.49 L81.1 389.26 L82.99 387.04 L84.89 384.82 L86.78 382.62 L88.67 380.42 L90.56 378.23 L92.46 376.05 L94.35 373.88 L96.24 371.73 L98.13 369.58 L100.03 367.44 L101.92 365.31 L103.81 363.2 L105.7 361.1 L107.6 359.01 L109.49 356.93 L111.38 354.89 L113.28 352.87 L115.17 350.87 L117.06 348.88 L118.95 346.91 L120.85 344.96 L122.74 343.01 L124.63 341.09 L126.52 339.18 L128.42 337.29 L130.31 335.42 L132.2 333.56 L134.09 331.73 L135.99 329.91 L137.88 328.11 L139.77 326.34 L141.66 324.58 L143.56 322.85 L145.45 321.13 L147.34 319.44 L149.23 317.77 L151.13 316.13 L153.02 314.51 L154.91 312.91 L156.81 311.34 L158.7 309.79 L160.59 308.26 L162.48 306.77 L164.38 305.3 L166.27 303.85 L168.16 302.43 L170.05 301.04 L171.95 299.68 L173.84 298.35 L175.73 297.04 L177.62 295.76 L179.52 294.51 L181.41 293.29 L183.3 292.1 L185.19 290.93 L187.09 289.79 L188.98 288.69 L190.87 287.61 L192.77 286.55 L194.66 285.53 L196.55 284.53 L198.44 283.56 L200.34 282.62 L202.23 281.7 L204.12 280.8 L206.01 279.93 L207.91 279.08 L209.8 278.26 L211.69 277.46 L213.58 276.68 L215.48 275.92 L217.37 275.18 L219.26 274.46 L221.15 273.76 L223.05 273.08 L224.94 272.41 L226.83 271.76 L228.72 271.13 L230.62 270.51 L232.51 269.91 L234.4 269.33 L236.3 268.76 L238.19 268.2 L240.08 267.66 L241.97 267.14 L243.87 266.62 L245.76 266.13 L247.65 265.64 L249.54 265.17 L251.44 264.72 L253.33 264.28 L255.22 263.85 L257.11 263.44 L259.01 263.04 L260.9 262.65 L262.79 262.28 L264.68 261.93 L266.58 261.58 L268.47 261.25 L270.36 260.93 L272.26 260.63 L274.15 260.33 L276.04 260.05 L277.93 259.79 L279.83 259.53 L281.72 259.28 L283.61 259.05 L285.5 258.82 L287.4 258.61 L289.29 258.4 L291.18 258.21 L293.07 258.02 L294.97 257.84 L296.86 257.67 L298.75 257.51 L300.64 257.35 L302.54 257.2 L304.43 257.06 L306.32 256.93 L308.21 256.8 L310.11 256.68 L312 256.56 L312 400 L30 400 Z" fill="#f2bd79" stroke="none"/>
<path d="M30 451.46 L31.89 449.11 L33.79 446.75 L35.68 444.4 L37.57 442.05 L39.46 439.71 L41.36 437.37 L43.25 435.03 L45.14 432.7 L47.03 430.37 L48.93 428.04 L50.82 425.72 L52.71 423.4 L54.6 421.08 L56.5 418.77 L58.39 416.47 L60.28 414.17 L62.17 411.87 L64.07 409.59 L65.96 407.3 L67.85 405.02 L69.74 402.75 L71.64 400.49 L73.53 398.23 L75.42 395.97 L77.32 393.73 L79.21 391.49 L81.1 389.26 L82.99 387.04 L84.89 384.82 L86.78 382.62 L88.67 380.42 L90.56 378.23 L92.46 376.05 L94.35 373.88 L96.24 371.73 L98.13 369.58 L100.03 367.44 L101.92 365.31 L103.81 363.2 L105.7 361.1 L107.6 359.01 L109.49 356.93 L111.38 354.89 L113.28 352.87 L115.17 350.87 L117.06 348.88 L118.95 346.91 L120.85 344.96 L122.74 343.01 L124.63 341.09 L126.52 339.18 L128.42 337.29 L130.31 335.42 L132.2 333.56 L134.09 331.73 L135.99 329.91 L137.88 328.11 L139.77 326.34 L141.66 324.58 L143.56 322.85 L145.45 321.13 L147.34 319.44 L149.23 317.77 L151.13 316.13 L153.02 314.51 L154.91 312.91 L156.81 311.34 L158.7 309.79 L160.59 308.26 L162.48 306.77 L164.38 305.3 L166.27 303.85 L168.16 302.43 L170.05 301.04 L171.95 299.68 L173.84 298.35 L175.73 297.04 L177.62 295.76 L179.52 294.51 L181.41 293.29 L183.3 292.1 L185.19 290.93 L187.09 289.79 L188.98 288.69 L190.87 287.61 L192.77 286.55 L194.66 285.53 L196.55 284.53 L198.44 283.56 L200.34 282.62 L202.23 281.7 L204.12 280.8 L206.01 279.93 L207.91 279.08 L209.8 278.26 L211.69 277.46 L213.58 276.68 L215.48 275.92 L217.37 275.18 L219.26 274.46 L221.15 273.76 L223.05 273.08 L224.94 272.41 L226.83 271.76 L228.72 271.13 L230.62 270.51 L232.51 269.91 L234.4 269.33 L236.3 268.76 L238.19 268.2 L240.08 267.66 L241.97 267.14 L243.87 266.62 L245.76 266.13 L247.65 265.64 L249.54 265.17 L251.44 264.72 L253.33 264.28 L255.22 263.85 L257.11 263.44 L259.01 263.04 L260.9 262.65 L262.79 262.28 L264.68 261.93 L266.58 261.58 L268.47 261.25 L270.36 260.93 L272.26 260.63 L274.15 260.33 L276.04 260.05 L277.93 259.79 L279.83 259.53 L281.72 259.28 L283.61 259.05 L285.5 258.82 L287.4 258.61 L289.29 258.4 L291.18 258.21 L293.07 258.02 L294.97 257.84 L296.86 257.67 L298.75 257.51 L300.64 257.35 L302.54 257.2 L304.43 257.06 L306.32 256.93 L308.21 256.8 L310.11 256.68 L312 256.56" fill="none" stroke="#2a2a2a" stroke-width="0.6" stroke-opacity="0.85"/>
<path d="M30 457.57 L31.89 455.15 L33.79 452.74 L35.68 450.33 L37.57 447.92 L39.46 445.52 L41.36 443.12 L43.25 440.72 L45.14 438.33 L47.03 435.95 L48.93 433.57 L50.82 431.19 L52.71 428.82 L54.6 426.45 L56.5 424.09 L58.39 421.73 L60.28 419.38 L62.17 417.04 L64.07 414.7 L65.96 412.37 L67.85 410.04 L69.74 407.73 L71.64 405.42 L73.53 403.11 L75.42 400.82 L77.32 398.53 L79.21 396.25 L81.1 393.98 L82.99 391.72 L84.89 389.47 L86.78 387.23 L88.67 385 L90.56 382.78 L92.46 380.57 L94.35 378.37 L96.24 376.18 L98.13 374 L100.03 371.84 L101.92 369.69 L103.81 367.55 L105.7 365.43 L107.6 363.32 L109.49 361.22 L111.38 359.16 L113.28 357.13 L115.17 355.11 L117.06 353.11 L118.95 351.13 L120.85 349.16 L122.74 347.21 L124.63 345.28 L126.52 343.37 L128.42 341.47 L130.31 339.59 L132.2 337.74 L134.09 335.9 L135.99 334.09 L137.88 332.29 L139.77 330.52 L141.66 328.77 L143.56 327.04 L145.45 325.34 L147.34 323.65 L149.23 322 L151.13 320.36 L153.02 318.75 L154.91 317.17 L156.81 315.61 L158.7 314.08 L160.59 312.57 L162.48 311.09 L164.38 309.64 L166.27 308.21 L168.16 306.82 L170.05 305.45 L171.95 304.1 L173.84 302.79 L175.73 301.51 L177.62 300.25 L179.52 299.02 L181.41 297.82 L183.3 296.65 L185.19 295.51 L187.09 294.4 L188.98 293.31 L190.87 292.26 L192.77 291.23 L194.66 290.23 L196.55 289.25 L198.44 288.3 L200.34 287.38 L202.23 286.48 L204.12 285.61 L206.01 284.76 L207.91 283.93 L209.8 283.13 L211.69 282.35 L213.58 281.59 L215.48 280.85 L217.37 280.13 L219.26 279.42 L221.15 278.74 L223.05 278.07 L224.94 277.42 L226.83 276.79 L228.72 276.17 L230.62 275.57 L232.51 274.99 L234.4 274.41 L236.3 273.86 L238.19 273.31 L240.08 272.78 L241.97 272.27 L243.87 271.76 L245.76 271.28 L247.65 270.8 L249.54 270.34 L251.44 269.89 L253.33 269.46 L255.22 269.04 L257.11 268.63 L259.01 268.24 L260.9 267.86 L262.79 267.49 L264.68 267.14 L266.58 266.8 L268.47 266.47 L270.36 266.16 L272.26 265.86 L274.15 265.57 L276.04 265.29 L277.93 265.02 L279.83 264.77 L281.72 264.52 L283.61 264.29 L285.5 264.07 L287.4 263.85 L289.29 263.65 L291.18 263.45 L293.07 263.27 L294.97 263.09 L296.86 262.92 L298.75 262.76 L300.64 262.6 L302.54 262.45 L304.43 262.31 L306.32 262.18 L308.21 262.05 L310.11 261.92 L312 261.8 L312 400 L30 400 Z" fill="#f6ca8a" stroke="none"/>
<path d="M30 457.57 L31.89 455.15 L33.79 452.74 L35.68 450.33 L37.57 447.92 L39.46 445.52 L41.36 443.12 L43.25 440.72 L45.14 438.33 L47.03 435.95 L48.93 433.57 L50.82 431.19 L52.71 428.82 L54.6 426.45 L56.5 424.09 L58.39 421.73 L60.28 419.38 L62.17 417.04 L64.07 414.7 L65.96 412.37 L67.85 410.04 L69.74 407.73 L71.64 405.42 L73.53 403.11 L75.42 400.82 L77.32 398.53 L79.21 396.25 L81.1 393.98 L82.99 391.72 L84.89 389.47 L86.78 387.23 L88.67 385 L90.56 382.78 L92.46 380.57 L94.35 378.37 L96.24 376.18 L98.13 374 L100.03 371.84 L101.92 369.69 L103.81 367.55 L105.7 365.43 L107.6 363.32 L109.49 361.22 L111.38 359.16 L113.28 357.13 L115.17 355.11 L117.06 353.11 L118.95 351.13 L120.85 349.16 L122.74 347.21 L124.63 345.28 L126.52 343.37 L128.42 341.47 L130.31 339.59 L132.2 337.74 L134.09 335.9 L135.99 334.09 L137.88 332.29 L139.77 330.52 L141.66 328.77 L143.56 327.04 L145.45 325.34 L147.34 323.65 L149.23 322 L151.13 320.36 L153.02 318.75 L154.91 317.17 L156.81 315.61 L158.7 314.08 L160.59 312.57 L162.48 311.09 L164.38 309.64 L166.27 308.21 L168.16 306.82 L170.05 305.45 L171.95 304.1 L173.84 302.79 L175.73 301.51 L177.62 300.25 L179.52 299.02 L181.41 297.82 L183.3 296.65 L185.19 295.51 L187.09 294.4 L188.98 293.31 L190.87 292.26 L192.77 291.23 L194.66 290.23 L196.55 289.25 L198.44 288.3 L200.34 287.38 L202.23 286.48 L204.12 285.61 L206.01 284.76 L207.91 283.93 L209.8 283.13 L211.69 282.35 L213.58 281.59 L215.48 280.85 L217.37 280.13 L219.26 279.42 L221.15 278.74 L223.05 278.07 L224.94 277.42 L226.83 276.79 L228.72 276.17 L230.62 275.57 L232.51 274.99 L234.4 274.41 L236.3 273.86 L238.19 273.31 L240.08 272.78 L241.97 272.27 L243.87 271.76 L245.76 271.28 L247.65 270.8 L249.54 270.34 L251.44 269.89 L253.33 269.46 L255.22 269.04 L257.11 268.63 L259.01 268.24 L260.9 267.86 L262.79 267.49 L264.68 267.14 L266.58 266.8 L268.47 266.47 L270.36 266.16 L272.26 265.86 L274.15 265.57 L276.04 265.29 L277.93 265.02 L279.83 264.77 L281.72 264.52 L283.61 264.29 L285.5 264.07 L287.4 263.85 L289.29 263.65 L291.18 263.45 L293.07 263.27 L294.97 263.09 L296.86 262.92 L298.75 262.76 L300.64 262.6 L302.54 262.45 L304.43 262.31 L306.32 262.18 L308.21 262.05 L310.11 261.92 L312 261.8" fill="none" stroke="#2a2a2a" stroke-width="0.6" stroke-opacity="0.85"/>
<path d="M30 458.15 L31.89 455.88 L33.79 453.62 L35.68 451.36 L37.57 449.1 L39.46 446.85 L41.36 444.6 L43.25 442.35 L45.14 440.1 L47.03 437.86 L48.93 435.62 L50.82 433.38 L52.71 431.14 L54.6 428.91 L56.5 426.68 L58.39 424.45 L60.28 422.23 L62.17 420.02 L64.07 417.8 L65.96 415.59 L67.85 413.39 L69.74 411.19 L71.64 408.99 L73.53 406.8 L75.42 404.62 L77.32 402.44 L79.21 400.26 L81.1 398.1 L82.99 395.93 L84.89 393.78 L86.78 391.63 L88.67 389.49 L90.56 387.36 L92.46 385.23 L94.35 383.11 L96.24 381 L98.13 378.9 L100.03 376.81 L101.92 374.72 L103.81 372.65 L105.7 370.59 L107.6 368.53 L109.49 366.49 L111.38 364.49 L113.28 362.5 L115.17 360.53 L117.06 358.57 L118.95 356.62 L120.85 354.68 L122.74 352.76 L124.63 350.86 L126.52 348.96 L128.42 347.09 L130.31 345.23 L132.2 343.38 L134.09 341.55 L135.99 339.74 L137.88 337.95 L139.77 336.18 L141.66 334.42 L143.56 332.68 L145.45 330.97 L147.34 329.27 L149.23 327.6 L151.13 325.94 L153.02 324.31 L154.91 322.7 L156.81 321.12 L158.7 319.56 L160.59 318.02 L162.48 316.51 L164.38 315.02 L166.27 313.56 L168.16 312.12 L170.05 310.71 L171.95 309.33 L173.84 307.98 L175.73 306.65 L177.62 305.35 L179.52 304.08 L181.41 302.84 L183.3 301.63 L185.19 300.44 L187.09 299.29 L188.98 298.16 L190.87 297.06 L192.77 295.99 L194.66 294.94 L196.55 293.93 L198.44 292.94 L200.34 291.98 L202.23 291.04 L204.12 290.13 L206.01 289.25 L207.91 288.39 L209.8 287.55 L211.69 286.74 L213.58 285.95 L215.48 285.18 L217.37 284.43 L219.26 283.7 L221.15 282.99 L223.05 282.31 L224.94 281.63 L226.83 280.98 L228.72 280.35 L230.62 279.73 L232.51 279.13 L234.4 278.54 L236.3 277.97 L238.19 277.42 L240.08 276.88 L241.97 276.36 L243.87 275.85 L245.76 275.35 L247.65 274.88 L249.54 274.41 L251.44 273.96 L253.33 273.53 L255.22 273.11 L257.11 272.7 L259.01 272.31 L260.9 271.94 L262.79 271.57 L264.68 271.23 L266.58 270.89 L268.47 270.57 L270.36 270.26 L272.26 269.97 L274.15 269.69 L276.04 269.42 L277.93 269.16 L279.83 268.91 L281.72 268.68 L283.61 268.45 L285.5 268.24 L287.4 268.04 L289.29 267.84 L291.18 267.66 L293.07 267.48 L294.97 267.32 L296.86 267.16 L298.75 267 L300.64 266.86 L302.54 266.72 L304.43 266.59 L306.32 266.47 L308.21 266.35 L310.11 266.23 L312 266.13 L312 400 L30 400 Z" fill="#fad99d" stroke="none"/>
<path d="M30 458.15 L31.89 455.88 L33.79 453.62 L35.68 451.36 L37.57 449.1 L39.46 446.85 L41.36 444.6 L43.25 442.35 L45.14 440.1 L47.03 437.86 L48.93 435.62 L50.82 433.38 L52.71 431.14 L54.6 428.91 L56.5 426.68 L58.39 424.45 L60.28 422.23 L62.17 420.02 L64.07 417.8 L65.96 415.59 L67.85 413.39 L69.74 411.19 L71.64 408.99 L73.53 406.8 L75.42 404.62 L77.32 402.44 L79.21 400.26 L81.1 398.1 L82.99 395.93 L84.89 393.78 L86.78 391.63 L88.67 389.49 L90.56 387.36 L92.46 385.23 L94.35 383.11 L96.24 381 L98.13 378.9 L100.03 376.81 L101.92 374.72 L103.81 372.65 L105.7 370.59 L107.6 368.53 L109.49 366.49 L111.38 364.49 L113.28 362.5 L115.17 360.53 L117.06 358.57 L118.95 356.62 L120.85 354.68 L122.74 352.76 L124.63 350.86 L126.52 348.96 L128.42 347.09 L130.31 345.23 L132.2 343.38 L134.09 341.55 L135.99 339.74 L137.88 337.95 L139.77 336.18 L141.66 334.42 L143.56 332.68 L145.45 330.97 L147.34 329.27 L149.23 327.6 L151.13 325.94 L153.02 324.31 L154.91 322.7 L156.81 321.12 L158.7 319.56 L160.59 318.02 L162.48 316.51 L164.38 315.02 L166.27 313.56 L168.16 312.12 L170.05 310.71 L171.95 309.33 L173.84 307.98 L175.73 306.65 L177.62 305.35 L179.52 304.08 L181.41 302.84 L183.3 301.63 L185.19 300.44 L187.09 299.29 L188.98 298.16 L190.87 297.06 L192.77 295.99 L194.66 294.94 L196.55 293.93 L198.44 292.94 L200.34 291.98 L202.23 291.04 L204.12 290.13 L206.01 289.25 L207.91 288.39 L209.8 287.55 L211.69 286.74 L213.58 285.95 L215.48 285.18 L217.37 284.43 L219.26 283.7 L221.15 282.99 L223.05 282.31 L224.94 281.63 L226.83 280.98 L228.72 280.35 L230.62 279.73 L232.51 279.13 L234.4 278.54 L236.3 277.97 L238.19 277.42 L240.08 276.88 L241.97 276.36 L243.87 275.85 L245.76 275.35 L247.65 274.88 L249.54 274.41 L251.44 273.96 L253.33 273.53 L255.22 273.11 L257.11 272.7 L259.01 272.31 L260.9 271.94 L262.79 271.57 L264.68 271.23 L266.58 270.89 L268.47 270.57 L270.36 270.26 L272.26 269.97 L274.15 269.69 L276.04 269.42 L277.93 269.16 L279.83 268.91 L281.72 268.68 L283.61 268.45 L285.5 268.24 L287.4 268.04 L289.29 267.84 L291.18 267.66 L293.07 267.48 L294.97 267.32 L296.86 267.16 L298.75 267 L300.64 266.86 L302.54 266.72 L304.43 266.59 L306.32 266.47 L308.21 266.35 L310.11 266.23 L312 266.13" fill="none" stroke="#2a2a2a" stroke-width="0.6" stroke-opacity="0.85"/>
<path d="M30 468.61 L31.89 466.16 L33.79 463.72 L35.68 461.28 L37.57 458.85 L39.46 456.41 L41.36 453.99 L43.25 451.56 L45.14 449.15 L47.03 446.73 L48.93 444.32 L50.82 441.92 L52.71 439.52 L54.6 437.13 L56.5 434.74 L58.39 432.36 L60.28 429.98 L62.17 427.61 L64.07 425.25 L65.96 422.89 L67.85 420.55 L69.74 418.2 L71.64 415.87 L73.53 413.54 L75.42 411.23 L77.32 408.92 L79.21 406.62 L81.1 404.32 L82.99 402.04 L84.89 399.77 L86.78 397.51 L88.67 395.25 L90.56 393.01 L92.46 390.78 L94.35 388.56 L96.24 386.35 L98.13 384.16 L100.03 381.97 L101.92 379.8 L103.81 377.65 L105.7 375.5 L107.6 373.37 L109.49 371.26 L111.38 369.19 L113.28 367.13 L115.17 365.1 L117.06 363.08 L118.95 361.08 L120.85 359.09 L122.74 357.13 L124.63 355.18 L126.52 353.25 L128.42 351.33 L130.31 349.44 L132.2 347.57 L134.09 345.71 L135.99 343.88 L137.88 342.07 L139.77 340.28 L141.66 338.51 L143.56 336.76 L145.45 335.04 L147.34 333.34 L149.23 331.66 L151.13 330.01 L153.02 328.38 L154.91 326.78 L156.81 325.2 L158.7 323.65 L160.59 322.12 L162.48 320.62 L164.38 319.15 L166.27 317.7 L168.16 316.28 L170.05 314.89 L171.95 313.53 L173.84 312.19 L175.73 310.88 L177.62 309.6 L179.52 308.35 L181.41 307.13 L183.3 305.94 L185.19 304.77 L187.09 303.63 L188.98 302.52 L190.87 301.44 L192.77 300.38 L194.66 299.36 L196.55 298.35 L198.44 297.38 L200.34 296.43 L202.23 295.5 L204.12 294.6 L206.01 293.73 L207.91 292.87 L209.8 292.04 L211.69 291.23 L213.58 290.44 L215.48 289.67 L217.37 288.92 L219.26 288.19 L221.15 287.48 L223.05 286.79 L224.94 286.11 L226.83 285.45 L228.72 284.8 L230.62 284.17 L232.51 283.56 L234.4 282.96 L236.3 282.37 L238.19 281.8 L240.08 281.24 L241.97 280.7 L243.87 280.17 L245.76 279.66 L247.65 279.16 L249.54 278.67 L251.44 278.2 L253.33 277.74 L255.22 277.3 L257.11 276.87 L259.01 276.45 L260.9 276.05 L262.79 275.66 L264.68 275.28 L266.58 274.92 L268.47 274.57 L270.36 274.23 L272.26 273.91 L274.15 273.6 L276.04 273.3 L277.93 273.01 L279.83 272.74 L281.72 272.48 L283.61 272.22 L285.5 271.98 L287.4 271.75 L289.29 271.53 L291.18 271.32 L293.07 271.11 L294.97 270.92 L296.86 270.73 L298.75 270.56 L300.64 270.39 L302.54 270.22 L304.43 270.07 L306.32 269.92 L308.21 269.77 L310.11 269.64 L312 269.5 L312 400 L30 400 Z" fill="#ffebb8" stroke="none"/>
<path d="M30 468.61 L31.89 466.16 L33.79 463.72 L35.68 461.28 L37.57 458.85 L39.46 456.41 L41.36 453.99 L43.25 451.56 L45.14 449.15 L47.03 446.73 L48.93 444.32 L50.82 441.92 L52.71 439.52 L54.6 437.13 L56.5 434.74 L58.39 432.36 L60.28 429.98 L62.17 427.61 L64.07 425.25 L65.96 422.89 L67.85 420.55 L69.74 418.2 L71.64 415.87 L73.53 413.54 L75.42 411.23 L77.32 408.92 L79.21 406.62 L81.1 404.32 L82.99 402.04 L84.89 399.77 L86.78 397.51 L88.67 395.25 L90.56 393.01 L92.46 390.78 L94.35 388.56 L96.24 386.35 L98.13 384.16 L100.03 381.97 L101.92 379.8 L103.81 377.65 L105.7 375.5 L107.6 373.37 L109.49 371.26 L111.38 369.19 L113.28 367.13 L115.17 365.1 L117.06 363.08 L118.95 361.08 L120.85 359.09 L122.74 357.13 L124.63 355.18 L126.52 353.25 L128.42 351.33 L130.31 349.44 L132.2 347.57 L134.09 345.71 L135.99 343.88 L137.88 342.07 L139.77 340.28 L141.66 338.51 L143.56 336.76 L145.45 335.04 L147.34 333.34 L149.23 331.66 L151.13 330.01 L153.02 328.38 L154.91 326.78 L156.81 325.2 L158.7 323.65 L160.59 322.12 L162.48 320.62 L164.38 319.15 L166.27 317.7 L168.16 316.28 L170.05 314.89 L171.95 313.53 L173.84 312.19 L175.73 310.88 L177.62 309.6 L179.52 308.35 L181.41 307.13 L183.3 305.94 L185.19 304.77 L187.09 303.63 L188.98 302.52 L190.87 301.44 L192.77 300.38 L194.66 299.36 L196.55 298.35 L198.44 297.38 L200.34 296.43 L202.23 295.5 L204.12 294.6 L206.01 293.73 L207.91 292.87 L209.8 292.04 L211.69 291.23 L213.58 290.44 L215.48 289.67 L217.37 288.92 L219.26 288.19 L221.15 287.48 L223.05 286.79 L224.94 286.11 L226.83 285.45 L228.72 284.8 L230.62 284.17 L232.51 283.56 L234.4 282.96 L236.3 282.37 L238.19 281.8 L240.08 281.24 L241.97 280.7 L243.87 280.17 L245.76 279.66 L247.65 279.16 L249.54 278.67 L251.44 278.2 L253.33 277.74 L255.22 277.3 L257.11 276.87 L259.01 276.45 L260.9 276.05 L262.79 275.66 L264.68 275.28 L266.58 274.92 L268.47 274.57 L270.36 274.23 L272.26 273.91 L274.15 273.6 L276.04 273.3 L277.93 273.01 L279.83 272.74 L281.72 272.48 L283.61 272.22 L285.5 271.98 L287.4 271.75 L289.29 271.53 L291.18 271.32 L293.07 271.11 L294.97 270.92 L296.86 270.73 L298.75 270.56 L300.64 270.39 L302.54 270.22 L304.43 270.07 L306.32 269.92 L308.21 269.77 L310.11 269.64 L312 269.5" fill="none" stroke="#2a2a2a" stroke-width="0.6" stroke-opacity="0.85"/>
<path d="M48 239.0H297" stroke="#151515" stroke-width="1.1" stroke-dasharray="5 2.95" fill="none"/>
<path d="M225.2 217.4V386" stroke="#151515" stroke-width="1.05" stroke-dasharray="3.3 2" fill="none"/>
</g>
<circle cx="225.2" cy="239.0" r="3.9" fill="#f8e17b" stroke="#3a3a3a" stroke-width="0.7"/>
<rect x="141.9" y="345.9" width="147.4" height="32.4" rx="3.6" fill="#fff" stroke="#111" stroke-width="1"/>
<rect x="162.5" y="348.8" width="12.25" height="9.5" fill="#4c73a3"/>
<rect x="174.65" y="348.8" width="12.25" height="9.5" fill="#5777b4"/>
<rect x="186.8" y="348.8" width="12.25" height="9.5" fill="#7f86a7"/>
<rect x="198.95" y="348.8" width="12.25" height="9.5" fill="#a99c98"/>
<rect x="211.1" y="348.8" width="12.25" height="9.5" fill="#cea67e"/>
<rect x="223.25" y="348.8" width="12.25" height="9.5" fill="#ecb26c"/>
<rect x="235.4" y="348.8" width="12.25" height="9.5" fill="#f2bd79"/>
<rect x="247.55" y="348.8" width="12.25" height="9.5" fill="#f6ca8a"/>
<rect x="259.7" y="348.8" width="12.25" height="9.5" fill="#fad99d"/>
<rect x="271.85" y="348.8" width="12.25" height="9.5" fill="#ffebb8"/>
<path d="M174.65 348.8V360.8M186.8 348.8V358.3M198.95 348.8V360.8M211.1 348.8V358.3M223.25 348.8V360.8M235.4 348.8V358.3M247.55 348.8V360.8M259.7 348.8V358.3M271.85 348.8V360.8" stroke="#222" stroke-width="0.8" fill="none"/>
<rect x="162.5" y="348.8" width="121.5" height="9.5" fill="none" stroke="#222" stroke-width="0.8"/>
<text x="174.65" y="375" font-size="15.4" text-anchor="middle" fill="#1a1a1a" textLength="7.1" lengthAdjust="spacingAndGlyphs">1</text>
<text x="198.95" y="375" font-size="15.4" text-anchor="middle" fill="#1a1a1a" textLength="7.1" lengthAdjust="spacingAndGlyphs">3</text>
<text x="223.25" y="375" font-size="15.4" text-anchor="middle" fill="#1a1a1a" textLength="7.1" lengthAdjust="spacingAndGlyphs">5</text>
<text x="247.55" y="375" font-size="15.4" text-anchor="middle" fill="#1a1a1a" textLength="7.1" lengthAdjust="spacingAndGlyphs">7</text>
<text x="271.85" y="375" font-size="15.4" text-anchor="middle" fill="#1a1a1a" textLength="7.1" lengthAdjust="spacingAndGlyphs">9</text>
<text x="151.8" y="368.2" font-size="17.5" text-anchor="middle" fill="#1a1a1a" style="" >Φ</text>
<path d="M94.6 385.8v-3.9M94.6 217.4v3.9M159.9 385.8v-3.9M159.9 217.4v3.9M225.2 385.8v-3.9M225.2 217.4v3.9M290.5 385.8v-3.9M290.5 217.4v3.9" stroke="#000" stroke-width="1.0" fill="none"/>
<path d="M48.96 385.8v-2.3M48.96 217.4v2.3M60.46 385.8v-2.3M60.46 217.4v2.3M68.61 385.8v-2.3M68.61 217.4v2.3M74.94 385.8v-2.3M74.94 217.4v2.3M80.11 385.8v-2.3M80.11 217.4v2.3M84.48 385.8v-2.3M84.48 217.4v2.3M88.27 385.8v-2.3M88.27 217.4v2.3M91.61 385.8v-2.3M91.61 217.4v2.3M114.26 385.8v-2.3M114.26 217.4v2.3M125.76 385.8v-2.3M125.76 217.4v2.3M133.91 385.8v-2.3M133.91 217.4v2.3M140.24 385.8v-2.3M140.24 217.4v2.3M145.41 385.8v-2.3M145.41 217.4v2.3M149.78 385.8v-2.3M149.78 217.4v2.3M153.57 385.8v-2.3M153.57 217.4v2.3M156.91 385.8v-2.3M156.91 217.4v2.3M179.56 385.8v-2.3M179.56 217.4v2.3M191.06 385.8v-2.3M191.06 217.4v2.3M199.21 385.8v-2.3M199.21 217.4v2.3M205.54 385.8v-2.3M205.54 217.4v2.3M210.71 385.8v-2.3M210.71 217.4v2.3M215.08 385.8v-2.3M215.08 217.4v2.3M218.87 385.8v-2.3M218.87 217.4v2.3M222.21 385.8v-2.3M222.21 217.4v2.3M244.86 385.8v-2.3M244.86 217.4v2.3M256.36 385.8v-2.3M256.36 217.4v2.3M264.51 385.8v-2.3M264.51 217.4v2.3M270.84 385.8v-2.3M270.84 217.4v2.3M276.01 385.8v-2.3M276.01 217.4v2.3M280.38 385.8v-2.3M280.38 217.4v2.3M284.17 385.8v-2.3M284.17 217.4v2.3M287.51 385.8v-2.3M287.51 217.4v2.3" stroke="#000" stroke-width="1.0" fill="none"/>
<path d="M48 379.6h4.7M297 379.6h-4.7M48 309.2h4.7M297 309.2h-4.7M48 238.8h4.7M297 238.8h-4.7" stroke="#000" stroke-width="1.0" fill="none"/>
<path d="M48 382.82h2.9M297 382.82h-2.9M48 358.41h2.9M297 358.41h-2.9M48 346.01h2.9M297 346.01h-2.9M48 337.21h2.9M297 337.21h-2.9M48 330.39h2.9M297 330.39h-2.9M48 324.82h2.9M297 324.82h-2.9M48 320.11h2.9M297 320.11h-2.9M48 316.02h2.9M297 316.02h-2.9M48 312.42h2.9M297 312.42h-2.9M48 288.01h2.9M297 288.01h-2.9M48 275.61h2.9M297 275.61h-2.9M48 266.81h2.9M297 266.81h-2.9M48 259.99h2.9M297 259.99h-2.9M48 254.42h2.9M297 254.42h-2.9M48 249.71h2.9M297 249.71h-2.9M48 245.62h2.9M297 245.62h-2.9M48 242.02h2.9M297 242.02h-2.9" stroke="#000" stroke-width="1.0" fill="none"/>
<rect x="48" y="217.4" width="249" height="168.4" fill="none" stroke="#000" stroke-width="1.5"/>
<text x="83.9" y="401.9" font-size="15.2" fill="#1a1a1a" textLength="14.1" lengthAdjust="spacingAndGlyphs">10</text>
<text x="97.7" y="396.5" font-size="9.6" fill="#1a1a1a">-1</text>
<text x="152.1" y="401.9" font-size="15.2" fill="#1a1a1a" textLength="14.1" lengthAdjust="spacingAndGlyphs">10</text>
<text x="165.9" y="396.5" font-size="9.6" fill="#1a1a1a">0</text>
<text x="217" y="401.9" font-size="15.2" fill="#1a1a1a" textLength="14.1" lengthAdjust="spacingAndGlyphs">10</text>
<text x="230.8" y="396.5" font-size="9.6" fill="#1a1a1a">1</text>
<text x="282.3" y="401.9" font-size="15.2" fill="#1a1a1a" textLength="14.1" lengthAdjust="spacingAndGlyphs">10</text>
<text x="296.1" y="396.5" font-size="9.6" fill="#1a1a1a">2</text>
<text x="26.7" y="245.2" font-size="15.2" fill="#1a1a1a" textLength="14.1" lengthAdjust="spacingAndGlyphs">10</text>
<text x="40.5" y="239.8" font-size="9.6" fill="#1a1a1a">1</text>
<text x="26.7" y="315.6" font-size="15.2" fill="#1a1a1a" textLength="14.1" lengthAdjust="spacingAndGlyphs">10</text>
<text x="40.5" y="310.2" font-size="9.6" fill="#1a1a1a">0</text>
<text x="22.9" y="386.6" font-size="15.2" fill="#1a1a1a" textLength="14.1" lengthAdjust="spacingAndGlyphs">10</text>
<text x="36.7" y="381.2" font-size="9.6" fill="#1a1a1a">-2</text>
<g transform="translate(142.8 422.9)"><text stroke-width="0" x="0" y="0" font-size="19" text-anchor="start" fill="#1a1a1a" style="font-style:italic" textLength="10.6" lengthAdjust="spacingAndGlyphs">α</text><text stroke-width="0" x="11" y="3.4" font-size="12.3" text-anchor="start" fill="#1a1a1a" textLength="6.2" lengthAdjust="spacingAndGlyphs">0</text><path d="M22.6 -14.4H19.7V4.5H22.6" fill="none" stroke="#1a1a1a" stroke-width="0.95"/><text stroke-width="0" x="24" y="0" font-size="18.5" text-anchor="start" fill="#1a1a1a" textLength="7.1" lengthAdjust="spacingAndGlyphs">s</text><path d="M32.9 -9.7H41" fill="none" stroke="#1a1a1a" stroke-width="0.95"/><text stroke-width="0" x="42.3" y="-5.4" font-size="12.6" text-anchor="start" fill="#1a1a1a" textLength="5.6" lengthAdjust="spacingAndGlyphs">1</text><path d="M48.9 -14.4H51.7V4.5H48.9" fill="none" stroke="#1a1a1a" stroke-width="0.95"/></g>
<g transform="translate(18.2 334.2) rotate(-90)"><text stroke-width="0" x="0" y="0" font-size="19" text-anchor="start" fill="#1a1a1a" style="font-style:italic" textLength="10" lengthAdjust="spacingAndGlyphs">β</text><text stroke-width="0" x="10.4" y="3.4" font-size="12.3" text-anchor="start" fill="#1a1a1a" textLength="6.2" lengthAdjust="spacingAndGlyphs">0</text><path d="M22 -14.4H19.1V4.5H22" fill="none" stroke="#1a1a1a" stroke-width="0.95"/><text stroke-width="0" x="23.4" y="0" font-size="18.5" text-anchor="start" fill="#1a1a1a" textLength="7.1" lengthAdjust="spacingAndGlyphs">s</text><path d="M32.3 -9.7H40.4" fill="none" stroke="#1a1a1a" stroke-width="0.95"/><text stroke-width="0" x="41.7" y="-5.4" font-size="12.6" text-anchor="start" fill="#1a1a1a" textLength="5.6" lengthAdjust="spacingAndGlyphs">1</text><path d="M48.3 -14.4H51.1V4.5H48.3" fill="none" stroke="#1a1a1a" stroke-width="0.95"/></g>
<text x="-0.4" y="226.8" font-size="18.8" text-anchor="start" fill="#1a1a1a" style="" textLength="19.6" lengthAdjust="spacingAndGlyphs">(c)</text>
<defs><clipPath id="cd"><rect x="334.25" y="217.4" width="242.75" height="168.4"/></clipPath></defs>
<g clip-path="url(#cd)" fill="none">
<path d="M334.25 377.64 L335.78 377.63 L337.32 377.62 L338.85 377.62 L340.38 377.61 L341.92 377.6 L343.45 377.59 L344.98 377.58 L346.51 377.57 L348.05 377.56 L349.58 377.55 L351.11 377.54 L352.65 377.52 L354.18 377.51 L355.71 377.49 L357.25 377.47 L358.78 377.46 L360.31 377.44 L361.84 377.41 L363.38 377.39 L364.91 377.37 L366.44 377.34 L367.98 377.31 L369.51 377.28 L371.04 377.25 L372.58 377.21 L374.11 377.17 L375.64 377.13 L377.17 377.09 L378.71 377.04 L380.24 376.99 L381.77 376.94 L383.31 376.88 L384.84 376.81 L386.37 376.75 L387.91 376.67 L389.44 376.6 L390.97 376.51 L392.5 376.42 L394.04 376.32 L395.57 376.22 L397.1 376.11 L398.64 375.99 L400.17 375.86 L401.7 375.73 L403.24 375.58 L404.77 375.43 L406.3 375.26 L407.83 375.08 L409.37 374.89 L410.9 374.69 L412.43 374.47 L413.97 374.24 L415.5 373.99 L417.03 373.73 L418.57 373.45 L420.1 373.15 L421.63 372.84 L423.17 372.5 L424.7 372.15 L426.23 371.77 L427.76 371.37 L429.3 370.95 L430.83 370.51 L432.36 370.04 L433.9 369.55 L435.43 369.04 L436.96 368.5 L438.5 367.93 L440.03 367.34 L441.56 366.72 L443.09 366.08 L444.63 365.41 L446.16 364.72 L447.69 364 L449.23 363.26 L450.76 362.5 L452.29 361.71 L453.83 360.91 L455.36 360.08 L456.89 359.24 L458.42 358.39 L459.96 357.52 L461.49 356.64 L463.02 355.75 L464.56 354.85 L466.09 353.95 L467.62 353.05 L469.16 352.15 L470.69 351.25 L472.22 350.36 L473.75 349.48 L475.29 348.6 L476.82 347.74 L478.35 346.9 L479.89 346.07 L481.42 345.25 L482.95 344.46 L484.49 343.69 L486.02 342.94 L487.55 342.22 L489.08 341.52 L490.62 340.84 L492.15 340.19 L493.68 339.56 L495.22 338.96 L496.75 338.39 L498.28 337.84 L499.82 337.31 L501.35 336.81 L502.88 336.34 L504.42 335.89 L505.95 335.46 L507.48 335.06 L509.01 334.67 L510.55 334.31 L512.08 333.97 L513.61 333.65 L515.15 333.35 L516.68 333.06 L518.21 332.79 L519.75 332.54 L521.28 332.3 L522.81 332.08 L524.34 331.87 L525.88 331.68 L527.41 331.5 L528.94 331.32 L530.48 331.16 L532.01 331.02 L533.54 330.88 L535.08 330.75 L536.61 330.62 L538.14 330.51 L539.67 330.4 L541.21 330.3 L542.74 330.21 L544.27 330.13 L545.81 330.05 L547.34 329.97 L548.87 329.9 L550.41 329.84 L551.94 329.78 L553.47 329.72 L555 329.67 L556.54 329.62 L558.07 329.58 L559.6 329.53 L561.14 329.49 L562.67 329.46 L564.2 329.42 L565.74 329.39 L567.27 329.36 L568.8 329.34 L570.33 329.31 L571.87 329.29 L573.4 329.27 L574.93 329.24 L576.47 329.23 L578 329.21" stroke="#e2e2f9" stroke-width="3.0"/>
<path d="M334.25 377.64 L335.78 377.63 L337.32 377.62 L338.85 377.62 L340.38 377.61 L341.92 377.6 L343.45 377.59 L344.98 377.58 L346.51 377.57 L348.05 377.56 L349.58 377.55 L351.11 377.54 L352.65 377.52 L354.18 377.51 L355.71 377.49 L357.25 377.48 L358.78 377.46 L360.31 377.44 L361.84 377.42 L363.38 377.4 L364.91 377.37 L366.44 377.35 L367.98 377.32 L369.51 377.29 L371.04 377.25 L372.58 377.22 L374.11 377.18 L375.64 377.14 L377.17 377.1 L378.71 377.05 L380.24 377 L381.77 376.95 L383.31 376.89 L384.84 376.83 L386.37 376.76 L387.91 376.69 L389.44 376.61 L390.97 376.53 L392.5 376.44 L394.04 376.35 L395.57 376.25 L397.1 376.14 L398.64 376.02 L400.17 375.9 L401.7 375.77 L403.24 375.63 L404.77 375.48 L406.3 375.32 L407.83 375.14 L409.37 374.96 L410.9 374.76 L412.43 374.56 L413.97 374.33 L415.5 374.1 L417.03 373.85 L418.57 373.58 L420.1 373.3 L421.63 373.01 L423.17 372.69 L424.7 372.36 L426.23 372.01 L427.76 371.64 L429.3 371.25 L430.83 370.84 L432.36 370.41 L433.9 369.97 L435.43 369.5 L436.96 369.01 L438.5 368.5 L440.03 367.97 L441.56 367.42 L443.09 366.85 L444.63 366.27 L446.16 365.66 L447.69 365.04 L449.23 364.4 L450.76 363.75 L452.29 363.09 L453.83 362.41 L455.36 361.72 L456.89 361.02 L458.42 360.32 L459.96 359.61 L461.49 358.9 L463.02 358.18 L464.56 357.47 L466.09 356.76 L467.62 356.06 L469.16 355.36 L470.69 354.67 L472.22 353.98 L473.75 353.31 L475.29 352.66 L476.82 352.02 L478.35 351.39 L479.89 350.78 L481.42 350.19 L482.95 349.61 L484.49 349.06 L486.02 348.52 L487.55 348.01 L489.08 347.51 L490.62 347.04 L492.15 346.58 L493.68 346.15 L495.22 345.73 L496.75 345.34 L498.28 344.96 L499.82 344.61 L501.35 344.27 L502.88 343.95 L504.42 343.65 L505.95 343.36 L507.48 343.09 L509.01 342.84 L510.55 342.6 L512.08 342.37 L513.61 342.16 L515.15 341.96 L516.68 341.77 L518.21 341.6 L519.75 341.43 L521.28 341.28 L522.81 341.13 L524.34 341 L525.88 340.87 L527.41 340.75 L528.94 340.64 L530.48 340.54 L532.01 340.44 L533.54 340.35 L535.08 340.27 L536.61 340.19 L538.14 340.12 L539.67 340.05 L541.21 339.99 L542.74 339.93 L544.27 339.87 L545.81 339.82 L547.34 339.78 L548.87 339.73 L550.41 339.69 L551.94 339.65 L553.47 339.62 L555 339.58 L556.54 339.55 L558.07 339.52 L559.6 339.5 L561.14 339.47 L562.67 339.45 L564.2 339.43 L565.74 339.41 L567.27 339.39 L568.8 339.37 L570.33 339.35 L571.87 339.34 L573.4 339.33 L574.93 339.31 L576.47 339.3 L578 339.29" stroke="#c6c6f2" stroke-width="3.0"/>
<path d="M334.25 377.64 L335.78 377.63 L337.32 377.62 L338.85 377.62 L340.38 377.61 L341.92 377.6 L343.45 377.59 L344.98 377.58 L346.51 377.57 L348.05 377.56 L349.58 377.55 L351.11 377.54 L352.65 377.52 L354.18 377.51 L355.71 377.49 L357.25 377.47 L358.78 377.46 L360.31 377.44 L361.84 377.41 L363.38 377.39 L364.91 377.37 L366.44 377.34 L367.98 377.31 L369.51 377.28 L371.04 377.25 L372.58 377.21 L374.11 377.18 L375.64 377.14 L377.17 377.09 L378.71 377.05 L380.24 377 L381.77 376.94 L383.31 376.88 L384.84 376.82 L386.37 376.76 L387.91 376.69 L389.44 376.61 L390.97 376.53 L392.5 376.44 L394.04 376.35 L395.57 376.25 L397.1 376.15 L398.64 376.03 L400.17 375.91 L401.7 375.78 L403.24 375.65 L404.77 375.5 L406.3 375.35 L407.83 375.18 L409.37 375.01 L410.9 374.82 L412.43 374.63 L413.97 374.42 L415.5 374.2 L417.03 373.97 L418.57 373.73 L420.1 373.47 L421.63 373.2 L423.17 372.92 L424.7 372.62 L426.23 372.31 L427.76 371.98 L429.3 371.65 L430.83 371.29 L432.36 370.93 L433.9 370.55 L435.43 370.16 L436.96 369.76 L438.5 369.34 L440.03 368.91 L441.56 368.48 L443.09 368.03 L444.63 367.57 L446.16 367.11 L447.69 366.64 L449.23 366.16 L450.76 365.69 L452.29 365.2 L453.83 364.72 L455.36 364.24 L456.89 363.75 L458.42 363.27 L459.96 362.8 L461.49 362.32 L463.02 361.86 L464.56 361.4 L466.09 360.95 L467.62 360.51 L469.16 360.08 L470.69 359.66 L472.22 359.25 L473.75 358.85 L475.29 358.47 L476.82 358.1 L478.35 357.75 L479.89 357.4 L481.42 357.07 L482.95 356.76 L484.49 356.46 L486.02 356.17 L487.55 355.89 L489.08 355.63 L490.62 355.38 L492.15 355.15 L493.68 354.92 L495.22 354.71 L496.75 354.51 L498.28 354.32 L499.82 354.15 L501.35 353.98 L502.88 353.82 L504.42 353.67 L505.95 353.53 L507.48 353.4 L509.01 353.28 L510.55 353.16 L512.08 353.05 L513.61 352.95 L515.15 352.86 L516.68 352.77 L518.21 352.69 L519.75 352.61 L521.28 352.54 L522.81 352.47 L524.34 352.41 L525.88 352.35 L527.41 352.29 L528.94 352.24 L530.48 352.19 L532.01 352.15 L533.54 352.11 L535.08 352.07 L536.61 352.03 L538.14 352 L539.67 351.97 L541.21 351.94 L542.74 351.91 L544.27 351.89 L545.81 351.86 L547.34 351.84 L548.87 351.82 L550.41 351.8 L551.94 351.78 L553.47 351.77 L555 351.75 L556.54 351.74 L558.07 351.72 L559.6 351.71 L561.14 351.7 L562.67 351.69 L564.2 351.68 L565.74 351.67 L567.27 351.66 L568.8 351.66 L570.33 351.65 L571.87 351.64 L573.4 351.64 L574.93 351.63 L576.47 351.62 L578 351.62" stroke="#9b9be6" stroke-width="3.0"/>
<path d="M334.25 377.63 L335.78 377.63 L337.32 377.62 L338.85 377.61 L340.38 377.6 L341.92 377.59 L343.45 377.58 L344.98 377.58 L346.51 377.56 L348.05 377.55 L349.58 377.54 L351.11 377.53 L352.65 377.51 L354.18 377.5 L355.71 377.48 L357.25 377.46 L358.78 377.44 L360.31 377.42 L361.84 377.4 L363.38 377.38 L364.91 377.35 L366.44 377.33 L367.98 377.3 L369.51 377.27 L371.04 377.23 L372.58 377.2 L374.11 377.16 L375.64 377.12 L377.17 377.08 L378.71 377.03 L380.24 376.98 L381.77 376.93 L383.31 376.87 L384.84 376.81 L386.37 376.74 L387.91 376.67 L389.44 376.6 L390.97 376.52 L392.5 376.44 L394.04 376.35 L395.57 376.26 L397.1 376.16 L398.64 376.05 L400.17 375.94 L401.7 375.82 L403.24 375.7 L404.77 375.57 L406.3 375.43 L407.83 375.29 L409.37 375.14 L410.9 374.98 L412.43 374.81 L413.97 374.64 L415.5 374.46 L417.03 374.27 L418.57 374.08 L420.1 373.87 L421.63 373.67 L423.17 373.45 L424.7 373.23 L426.23 373 L427.76 372.77 L429.3 372.54 L430.83 372.29 L432.36 372.05 L433.9 371.8 L435.43 371.55 L436.96 371.3 L438.5 371.04 L440.03 370.79 L441.56 370.54 L443.09 370.28 L444.63 370.03 L446.16 369.78 L447.69 369.53 L449.23 369.29 L450.76 369.05 L452.29 368.82 L453.83 368.59 L455.36 368.36 L456.89 368.14 L458.42 367.93 L459.96 367.73 L461.49 367.53 L463.02 367.33 L464.56 367.15 L466.09 366.97 L467.62 366.8 L469.16 366.64 L470.69 366.48 L472.22 366.33 L473.75 366.19 L475.29 366.06 L476.82 365.93 L478.35 365.81 L479.89 365.69 L481.42 365.58 L482.95 365.48 L484.49 365.38 L486.02 365.29 L487.55 365.21 L489.08 365.12 L490.62 365.05 L492.15 364.98 L493.68 364.91 L495.22 364.85 L496.75 364.79 L498.28 364.73 L499.82 364.68 L501.35 364.63 L502.88 364.58 L504.42 364.54 L505.95 364.5 L507.48 364.47 L509.01 364.43 L510.55 364.4 L512.08 364.37 L513.61 364.34 L515.15 364.31 L516.68 364.29 L518.21 364.27 L519.75 364.24 L521.28 364.22 L522.81 364.21 L524.34 364.19 L525.88 364.17 L527.41 364.16 L528.94 364.14 L530.48 364.13 L532.01 364.12 L533.54 364.11 L535.08 364.1 L536.61 364.09 L538.14 364.08 L539.67 364.07 L541.21 364.06 L542.74 364.06 L544.27 364.05 L545.81 364.04 L547.34 364.04 L548.87 364.03 L550.41 364.03 L551.94 364.02 L553.47 364.02 L555 364.01 L556.54 364.01 L558.07 364.01 L559.6 364 L561.14 364 L562.67 364 L564.2 364 L565.74 363.99 L567.27 363.99 L568.8 363.99 L570.33 363.99 L571.87 363.98 L573.4 363.98 L574.93 363.98 L576.47 363.98 L578 363.98" stroke="#6f6fdc" stroke-width="3.0"/>
<path d="M334.25 377.61 L335.78 377.6 L337.32 377.6 L338.85 377.59 L340.38 377.58 L341.92 377.57 L343.45 377.55 L344.98 377.54 L346.51 377.53 L348.05 377.51 L349.58 377.5 L351.11 377.48 L352.65 377.46 L354.18 377.45 L355.71 377.42 L357.25 377.4 L358.78 377.38 L360.31 377.35 L361.84 377.33 L363.38 377.3 L364.91 377.26 L366.44 377.23 L367.98 377.19 L369.51 377.15 L371.04 377.11 L372.58 377.06 L374.11 377.01 L375.64 376.96 L377.17 376.9 L378.71 376.84 L380.24 376.77 L381.77 376.7 L383.31 376.62 L384.84 376.54 L386.37 376.45 L387.91 376.36 L389.44 376.26 L390.97 376.14 L392.5 376.03 L394.04 375.9 L395.57 375.76 L397.1 375.62 L398.64 375.46 L400.17 375.29 L401.7 375.11 L403.24 374.92 L404.77 374.71 L406.3 374.49 L407.83 374.25 L409.37 374 L410.9 373.72 L412.43 373.43 L413.97 373.12 L415.5 372.79 L417.03 372.43 L418.57 372.05 L420.1 371.65 L421.63 371.22 L423.17 370.76 L424.7 370.27 L426.23 369.75 L427.76 369.2 L429.3 368.61 L430.83 367.99 L432.36 367.34 L433.9 366.64 L435.43 365.91 L436.96 365.13 L438.5 364.31 L440.03 363.46 L441.56 362.55 L443.09 361.6 L444.63 360.61 L446.16 359.57 L447.69 358.49 L449.23 357.36 L450.76 356.19 L452.29 354.97 L453.83 353.71 L455.36 352.4 L456.89 351.06 L458.42 349.68 L459.96 348.26 L461.49 346.8 L463.02 345.32 L464.56 343.81 L466.09 342.27 L467.62 340.71 L469.16 339.14 L470.69 337.56 L472.22 335.96 L473.75 334.36 L475.29 332.77 L476.82 331.17 L478.35 329.59 L479.89 328.02 L481.42 326.47 L482.95 324.93 L484.49 323.43 L486.02 321.95 L487.55 320.5 L489.08 319.09 L490.62 317.71 L492.15 316.37 L493.68 315.08 L495.22 313.82 L496.75 312.61 L498.28 311.45 L499.82 310.33 L501.35 309.25 L502.88 308.22 L504.42 307.24 L505.95 306.3 L507.48 305.4 L509.01 304.55 L510.55 303.74 L512.08 302.98 L513.61 302.25 L515.15 301.56 L516.68 300.91 L518.21 300.3 L519.75 299.72 L521.28 299.17 L522.81 298.66 L524.34 298.18 L525.88 297.72 L527.41 297.3 L528.94 296.9 L530.48 296.52 L532.01 296.17 L533.54 295.84 L535.08 295.53 L536.61 295.25 L538.14 294.98 L539.67 294.73 L541.21 294.49 L542.74 294.27 L544.27 294.07 L545.81 293.87 L547.34 293.7 L548.87 293.53 L550.41 293.38 L551.94 293.23 L553.47 293.1 L555 292.97 L556.54 292.85 L558.07 292.75 L559.6 292.64 L561.14 292.55 L562.67 292.46 L564.2 292.38 L565.74 292.31 L567.27 292.23 L568.8 292.17 L570.33 292.11 L571.87 292.05 L573.4 292 L574.93 291.95 L576.47 291.9 L578 291.86" stroke="#f1e0e1" stroke-width="3.3"/>
<path d="M334.25 377.6 L335.78 377.59 L337.32 377.58 L338.85 377.57 L340.38 377.56 L341.92 377.55 L343.45 377.54 L344.98 377.52 L346.51 377.51 L348.05 377.49 L349.58 377.47 L351.11 377.45 L352.65 377.43 L354.18 377.41 L355.71 377.39 L357.25 377.37 L358.78 377.34 L360.31 377.31 L361.84 377.28 L363.38 377.25 L364.91 377.21 L366.44 377.17 L367.98 377.13 L369.51 377.08 L371.04 377.04 L372.58 376.98 L374.11 376.93 L375.64 376.87 L377.17 376.8 L378.71 376.73 L380.24 376.66 L381.77 376.58 L383.31 376.49 L384.84 376.4 L386.37 376.3 L387.91 376.19 L389.44 376.08 L390.97 375.95 L392.5 375.82 L394.04 375.68 L395.57 375.53 L397.1 375.36 L398.64 375.18 L400.17 374.99 L401.7 374.79 L403.24 374.57 L404.77 374.34 L406.3 374.09 L407.83 373.82 L409.37 373.53 L410.9 373.22 L412.43 372.89 L413.97 372.54 L415.5 372.16 L417.03 371.76 L418.57 371.33 L420.1 370.87 L421.63 370.38 L423.17 369.85 L424.7 369.29 L426.23 368.7 L427.76 368.07 L429.3 367.4 L430.83 366.68 L432.36 365.93 L433.9 365.12 L435.43 364.27 L436.96 363.38 L438.5 362.43 L440.03 361.43 L441.56 360.37 L443.09 359.26 L444.63 358.1 L446.16 356.87 L447.69 355.59 L449.23 354.26 L450.76 352.86 L452.29 351.4 L453.83 349.89 L455.36 348.32 L456.89 346.7 L458.42 345.02 L459.96 343.29 L461.49 341.52 L463.02 339.69 L464.56 337.83 L466.09 335.92 L467.62 333.98 L469.16 332.02 L470.69 330.02 L472.22 328.01 L473.75 325.98 L475.29 323.94 L476.82 321.89 L478.35 319.85 L479.89 317.82 L481.42 315.8 L482.95 313.79 L484.49 311.81 L486.02 309.86 L487.55 307.94 L489.08 306.06 L490.62 304.22 L492.15 302.42 L493.68 300.67 L495.22 298.97 L496.75 297.33 L498.28 295.74 L499.82 294.2 L501.35 292.72 L502.88 291.3 L504.42 289.94 L505.95 288.63 L507.48 287.39 L509.01 286.2 L510.55 285.07 L512.08 283.99 L513.61 282.96 L515.15 281.99 L516.68 281.07 L518.21 280.21 L519.75 279.38 L521.28 278.61 L522.81 277.88 L524.34 277.19 L525.88 276.54 L527.41 275.93 L528.94 275.36 L530.48 274.82 L532.01 274.31 L533.54 273.84 L535.08 273.4 L536.61 272.98 L538.14 272.6 L539.67 272.23 L541.21 271.89 L542.74 271.58 L544.27 271.28 L545.81 271 L547.34 270.74 L548.87 270.5 L550.41 270.28 L551.94 270.07 L553.47 269.87 L555 269.69 L556.54 269.52 L558.07 269.36 L559.6 269.22 L561.14 269.08 L562.67 268.95 L564.2 268.83 L565.74 268.72 L567.27 268.62 L568.8 268.53 L570.33 268.44 L571.87 268.35 L573.4 268.28 L574.93 268.21 L576.47 268.14 L578 268.08" stroke="#e6c3c7" stroke-width="3.3"/>
<path d="M334.25 377.61 L335.78 377.61 L337.32 377.6 L338.85 377.59 L340.38 377.58 L341.92 377.57 L343.45 377.56 L344.98 377.55 L346.51 377.53 L348.05 377.52 L349.58 377.5 L351.11 377.49 L352.65 377.47 L354.18 377.45 L355.71 377.43 L357.25 377.41 L358.78 377.38 L360.31 377.36 L361.84 377.33 L363.38 377.3 L364.91 377.27 L366.44 377.24 L367.98 377.2 L369.51 377.16 L371.04 377.12 L372.58 377.07 L374.11 377.02 L375.64 376.97 L377.17 376.91 L378.71 376.85 L380.24 376.79 L381.77 376.72 L383.31 376.64 L384.84 376.56 L386.37 376.47 L387.91 376.38 L389.44 376.27 L390.97 376.17 L392.5 376.05 L394.04 375.92 L395.57 375.79 L397.1 375.64 L398.64 375.48 L400.17 375.31 L401.7 375.13 L403.24 374.94 L404.77 374.73 L406.3 374.51 L407.83 374.27 L409.37 374.01 L410.9 373.73 L412.43 373.44 L413.97 373.12 L415.5 372.78 L417.03 372.41 L418.57 372.02 L420.1 371.61 L421.63 371.16 L423.17 370.68 L424.7 370.17 L426.23 369.63 L427.76 369.04 L429.3 368.42 L430.83 367.76 L432.36 367.06 L433.9 366.31 L435.43 365.51 L436.96 364.66 L438.5 363.76 L440.03 362.81 L441.56 361.8 L443.09 360.73 L444.63 359.6 L446.16 358.4 L447.69 357.14 L449.23 355.82 L450.76 354.42 L452.29 352.96 L453.83 351.43 L455.36 349.82 L456.89 348.15 L458.42 346.4 L459.96 344.58 L461.49 342.69 L463.02 340.73 L464.56 338.7 L466.09 336.61 L467.62 334.46 L469.16 332.25 L470.69 329.98 L472.22 327.67 L473.75 325.3 L475.29 322.9 L476.82 320.46 L478.35 318 L479.89 315.51 L481.42 313 L482.95 310.49 L484.49 307.97 L486.02 305.46 L487.55 302.96 L489.08 300.48 L490.62 298.03 L492.15 295.6 L493.68 293.22 L495.22 290.87 L496.75 288.57 L498.28 286.33 L499.82 284.14 L501.35 282.01 L502.88 279.94 L504.42 277.94 L505.95 276.01 L507.48 274.15 L509.01 272.36 L510.55 270.64 L512.08 268.99 L513.61 267.41 L515.15 265.91 L516.68 264.47 L518.21 263.1 L519.75 261.8 L521.28 260.57 L522.81 259.4 L524.34 258.29 L525.88 257.25 L527.41 256.26 L528.94 255.33 L530.48 254.45 L532.01 253.62 L533.54 252.84 L535.08 252.11 L536.61 251.42 L538.14 250.78 L539.67 250.17 L541.21 249.6 L542.74 249.07 L544.27 248.57 L545.81 248.11 L547.34 247.67 L548.87 247.27 L550.41 246.89 L551.94 246.53 L553.47 246.2 L555 245.89 L556.54 245.6 L558.07 245.33 L559.6 245.08 L561.14 244.85 L562.67 244.63 L564.2 244.43 L565.74 244.24 L567.27 244.06 L568.8 243.9 L570.33 243.75 L571.87 243.61 L573.4 243.47 L574.93 243.35 L576.47 243.24 L578 243.13" stroke="#cb8790" stroke-width="3.3"/>
<path d="M334.25 377.63 L335.78 377.62 L337.32 377.61 L338.85 377.6 L340.38 377.6 L341.92 377.59 L343.45 377.58 L344.98 377.57 L346.51 377.55 L348.05 377.54 L349.58 377.53 L351.11 377.51 L352.65 377.5 L354.18 377.48 L355.71 377.46 L357.25 377.44 L358.78 377.42 L360.31 377.4 L361.84 377.38 L363.38 377.35 L364.91 377.32 L366.44 377.29 L367.98 377.26 L369.51 377.23 L371.04 377.19 L372.58 377.15 L374.11 377.1 L375.64 377.06 L377.17 377.01 L378.71 376.95 L380.24 376.89 L381.77 376.83 L383.31 376.76 L384.84 376.69 L386.37 376.61 L387.91 376.53 L389.44 376.44 L390.97 376.34 L392.5 376.24 L394.04 376.12 L395.57 376 L397.1 375.87 L398.64 375.73 L400.17 375.58 L401.7 375.42 L403.24 375.25 L404.77 375.06 L406.3 374.86 L407.83 374.65 L409.37 374.42 L410.9 374.17 L412.43 373.9 L413.97 373.62 L415.5 373.31 L417.03 372.98 L418.57 372.63 L420.1 372.25 L421.63 371.85 L423.17 371.41 L424.7 370.95 L426.23 370.45 L427.76 369.92 L429.3 369.36 L430.83 368.75 L432.36 368.1 L433.9 367.41 L435.43 366.67 L436.96 365.89 L438.5 365.05 L440.03 364.16 L441.56 363.21 L443.09 362.21 L444.63 361.14 L446.16 360 L447.69 358.8 L449.23 357.53 L450.76 356.19 L452.29 354.77 L453.83 353.27 L455.36 351.7 L456.89 350.04 L458.42 348.31 L459.96 346.49 L461.49 344.58 L463.02 342.59 L464.56 340.51 L466.09 338.35 L467.62 336.11 L469.16 333.79 L470.69 331.38 L472.22 328.9 L473.75 326.34 L475.29 323.72 L476.82 321.03 L478.35 318.28 L479.89 315.48 L481.42 312.63 L482.95 309.74 L484.49 306.81 L486.02 303.86 L487.55 300.89 L489.08 297.91 L490.62 294.92 L492.15 291.95 L493.68 288.99 L495.22 286.04 L496.75 283.13 L498.28 280.26 L499.82 277.43 L501.35 274.65 L502.88 271.93 L504.42 269.27 L505.95 266.67 L507.48 264.15 L509.01 261.7 L510.55 259.33 L512.08 257.05 L513.61 254.84 L515.15 252.72 L516.68 250.68 L518.21 248.73 L519.75 246.86 L521.28 245.08 L522.81 243.38 L524.34 241.76 L525.88 240.22 L527.41 238.76 L528.94 237.38 L530.48 236.07 L532.01 234.83 L533.54 233.66 L535.08 232.55 L536.61 231.51 L538.14 230.53 L539.67 229.61 L541.21 228.74 L542.74 227.93 L544.27 227.17 L545.81 226.45 L547.34 225.78 L548.87 225.15 L550.41 224.56 L551.94 224.01 L553.47 223.5 L555 223.02 L556.54 222.57 L558.07 222.15 L559.6 221.75 L561.14 221.39 L562.67 221.05 L564.2 220.73 L565.74 220.43 L567.27 220.16 L568.8 219.9 L570.33 219.66 L571.87 219.43 L573.4 219.23 L574.93 219.03 L576.47 218.85 L578 218.68" stroke="#be6671" stroke-width="3.3"/>
<path d="M334.25 377.63 L335.78 377.63 L337.32 377.62 L338.85 377.61 L340.38 377.6 L341.92 377.59 L343.45 377.58 L344.98 377.57 L346.51 377.56 L348.05 377.55 L349.58 377.54 L351.11 377.53 L352.65 377.51 L354.18 377.5 L355.71 377.48 L357.25 377.46 L358.78 377.44 L360.31 377.42 L361.84 377.4 L363.38 377.38 L364.91 377.35 L366.44 377.32 L367.98 377.29 L369.51 377.26 L371.04 377.22 L372.58 377.19 L374.11 377.15 L375.64 377.1 L377.17 377.06 L378.71 377.01 L380.24 376.95 L381.77 376.89 L383.31 376.83 L384.84 376.77 L386.37 376.69 L387.91 376.62 L389.44 376.53 L390.97 376.45 L392.5 376.35 L394.04 376.25 L395.57 376.14 L397.1 376.02 L398.64 375.9 L400.17 375.76 L401.7 375.62 L403.24 375.46 L404.77 375.29 L406.3 375.12 L407.83 374.93 L409.37 374.72 L410.9 374.51 L412.43 374.27 L413.97 374.03 L415.5 373.76 L417.03 373.48 L418.57 373.18 L420.1 372.86 L421.63 372.52 L423.17 372.16 L424.7 371.77 L426.23 371.37 L427.76 370.93 L429.3 370.48 L430.83 369.99 L432.36 369.48 L433.9 368.95 L435.43 368.38 L436.96 367.78 L438.5 367.16 L440.03 366.5 L441.56 365.81 L443.09 365.09 L444.63 364.35 L446.16 363.57 L447.69 362.75 L449.23 361.91 L450.76 361.04 L452.29 360.14 L453.83 359.22 L455.36 358.27 L456.89 357.29 L458.42 356.29 L459.96 355.27 L461.49 354.24 L463.02 353.19 L464.56 352.12 L466.09 351.04 L467.62 349.96 L469.16 348.87 L470.69 347.78 L472.22 346.7 L473.75 345.61 L475.29 344.53 L476.82 343.47 L478.35 342.41 L479.89 341.38 L481.42 340.35 L482.95 339.35 L484.49 338.38 L486.02 337.42 L487.55 336.49 L489.08 335.59 L490.62 334.72 L492.15 333.87 L493.68 333.06 L495.22 332.27 L496.75 331.52 L498.28 330.8 L499.82 330.11 L501.35 329.45 L502.88 328.82 L504.42 328.22 L505.95 327.65 L507.48 327.11 L509.01 326.59 L510.55 326.11 L512.08 325.65 L513.61 325.21 L515.15 324.8 L516.68 324.42 L518.21 324.05 L519.75 323.71 L521.28 323.39 L522.81 323.08 L524.34 322.8 L525.88 322.53 L527.41 322.28 L528.94 322.05 L530.48 321.83 L532.01 321.63 L533.54 321.43 L535.08 321.25 L536.61 321.09 L538.14 320.93 L539.67 320.78 L541.21 320.65 L542.74 320.52 L544.27 320.4 L545.81 320.29 L547.34 320.19 L548.87 320.09 L550.41 320 L551.94 319.92 L553.47 319.84 L555 319.77 L556.54 319.7 L558.07 319.64 L559.6 319.58 L561.14 319.53 L562.67 319.48 L564.2 319.43 L565.74 319.39 L567.27 319.35 L568.8 319.31 L570.33 319.27 L571.87 319.24 L573.4 319.21 L574.93 319.18 L576.47 319.16 L578 319.13" stroke="#222" stroke-width="3.1" stroke-dasharray="6.2 3.4"/>
<path d="M510.6 217V386M334 367.6H578" stroke="#151515" stroke-width="1.1" stroke-dasharray="5 2.8"/>
</g>
<path d="M510.5 252.8 L512.35 256.55 L516.49 257.15 L513.5 260.07 L514.2 264.2 L510.5 262.25 L506.8 264.2 L507.5 260.07 L504.51 257.15 L508.65 256.55 Z" fill="#f7dd6d" stroke="#3c3628" stroke-width="0.9" stroke-linejoin="round"/>
<circle cx="510.6" cy="325.6" r="4.2" fill="#ffe27a" stroke="#3a3a3a" stroke-width="0.7"/>
<rect x="350.4" y="253.5" width="37.4" height="20.8" rx="5.6" fill="#f2e3e4"/>
<rect x="393.5" y="253.5" width="37.4" height="20.8" rx="5.6" fill="#e4e4f9"/>
<text x="369.1" y="268.9" font-size="14.6" text-anchor="middle" fill="#1a1a1a" textLength="17" lengthAdjust="spacingAndGlyphs">0.8</text>
<text x="412.2" y="268.9" font-size="14.6" text-anchor="middle" fill="#1a1a1a" textLength="23.8" lengthAdjust="spacingAndGlyphs">0.98</text>
<rect x="350.4" y="280" width="37.4" height="20.8" rx="5.6" fill="#e7c6ca"/>
<rect x="393.5" y="280" width="37.4" height="20.8" rx="5.6" fill="#c8c8f2"/>
<text x="369.1" y="295.4" font-size="14.6" text-anchor="middle" fill="#1a1a1a" textLength="17" lengthAdjust="spacingAndGlyphs">0.9</text>
<text x="412.2" y="295.4" font-size="14.6" text-anchor="middle" fill="#1a1a1a" textLength="23.8" lengthAdjust="spacingAndGlyphs">0.95</text>
<rect x="350.4" y="307.2" width="37.4" height="20.8" rx="5.6" fill="#cc8a92"/>
<rect x="393.5" y="307.2" width="37.4" height="20.8" rx="5.6" fill="#9d9de7"/>
<text x="369.1" y="322.6" font-size="14.6" text-anchor="middle" fill="#1a1a1a" textLength="23.8" lengthAdjust="spacingAndGlyphs">0.95</text>
<text x="412.2" y="322.6" font-size="14.6" text-anchor="middle" fill="#1a1a1a" textLength="17" lengthAdjust="spacingAndGlyphs">0.9</text>
<rect x="350.4" y="334.8" width="37.4" height="20.8" rx="5.6" fill="#bf6a75"/>
<rect x="393.5" y="334.8" width="37.4" height="20.8" rx="5.6" fill="#7474dd"/>
<text x="369.1" y="350.2" font-size="14.6" text-anchor="middle" fill="#1a1a1a" textLength="23.8" lengthAdjust="spacingAndGlyphs">0.98</text>
<text x="412.2" y="350.2" font-size="14.6" text-anchor="middle" fill="#1a1a1a" textLength="17" lengthAdjust="spacingAndGlyphs">0.8</text>
<text x="368.6" y="244" font-size="19" text-anchor="middle" fill="#1a1a1a" style="font-style:italic;" >δ</text>
<text x="412" y="244" font-size="19" text-anchor="middle" fill="#1a1a1a" style="font-style:italic;" >ε</text>
<path d="M334.6 385.8v-3.9M334.6 217.4v3.9M382.3 385.8v-3.9M382.3 217.4v3.9M430 385.8v-3.9M430 217.4v3.9M477.7 385.8v-3.9M477.7 217.4v3.9M525.4 385.8v-3.9M525.4 217.4v3.9M573.1 385.8v-3.9M573.1 217.4v3.9" stroke="#000" stroke-width="1.0" fill="none"/>
<path d="M348.96 385.8v-2.3M348.96 217.4v2.3M357.36 385.8v-2.3M357.36 217.4v2.3M363.32 385.8v-2.3M363.32 217.4v2.3M367.94 385.8v-2.3M367.94 217.4v2.3M371.72 385.8v-2.3M371.72 217.4v2.3M374.91 385.8v-2.3M374.91 217.4v2.3M377.68 385.8v-2.3M377.68 217.4v2.3M380.12 385.8v-2.3M380.12 217.4v2.3M396.66 385.8v-2.3M396.66 217.4v2.3M405.06 385.8v-2.3M405.06 217.4v2.3M411.02 385.8v-2.3M411.02 217.4v2.3M415.64 385.8v-2.3M415.64 217.4v2.3M419.42 385.8v-2.3M419.42 217.4v2.3M422.61 385.8v-2.3M422.61 217.4v2.3M425.38 385.8v-2.3M425.38 217.4v2.3M427.82 385.8v-2.3M427.82 217.4v2.3M444.36 385.8v-2.3M444.36 217.4v2.3M452.76 385.8v-2.3M452.76 217.4v2.3M458.72 385.8v-2.3M458.72 217.4v2.3M463.34 385.8v-2.3M463.34 217.4v2.3M467.12 385.8v-2.3M467.12 217.4v2.3M470.31 385.8v-2.3M470.31 217.4v2.3M473.08 385.8v-2.3M473.08 217.4v2.3M475.52 385.8v-2.3M475.52 217.4v2.3M492.06 385.8v-2.3M492.06 217.4v2.3M500.46 385.8v-2.3M500.46 217.4v2.3M506.42 385.8v-2.3M506.42 217.4v2.3M511.04 385.8v-2.3M511.04 217.4v2.3M514.82 385.8v-2.3M514.82 217.4v2.3M518.01 385.8v-2.3M518.01 217.4v2.3M520.78 385.8v-2.3M520.78 217.4v2.3M523.22 385.8v-2.3M523.22 217.4v2.3M539.76 385.8v-2.3M539.76 217.4v2.3M548.16 385.8v-2.3M548.16 217.4v2.3M554.12 385.8v-2.3M554.12 217.4v2.3M558.74 385.8v-2.3M558.74 217.4v2.3M562.52 385.8v-2.3M562.52 217.4v2.3M565.71 385.8v-2.3M565.71 217.4v2.3M568.48 385.8v-2.3M568.48 217.4v2.3M570.92 385.8v-2.3M570.92 217.4v2.3" stroke="#000" stroke-width="1.0" fill="none"/>
<path d="M334.25 367.4h4.7M577 367.4h-4.7M334.25 337.5h4.7M577 337.5h-4.7M334.25 307.6h4.7M577 307.6h-4.7M334.25 277.7h4.7M577 277.7h-4.7M334.25 247.8h4.7M577 247.8h-4.7" stroke="#000" stroke-width="1.0" fill="none"/>
<path d="M334.25 379.36h2.9M577 379.36h-2.9M334.25 373.38h2.9M577 373.38h-2.9M334.25 361.42h2.9M577 361.42h-2.9M334.25 355.44h2.9M577 355.44h-2.9M334.25 349.46h2.9M577 349.46h-2.9M334.25 343.48h2.9M577 343.48h-2.9M334.25 331.52h2.9M577 331.52h-2.9M334.25 325.54h2.9M577 325.54h-2.9M334.25 319.56h2.9M577 319.56h-2.9M334.25 313.58h2.9M577 313.58h-2.9M334.25 301.62h2.9M577 301.62h-2.9M334.25 295.64h2.9M577 295.64h-2.9M334.25 289.66h2.9M577 289.66h-2.9M334.25 283.68h2.9M577 283.68h-2.9M334.25 271.72h2.9M577 271.72h-2.9M334.25 265.74h2.9M577 265.74h-2.9M334.25 259.76h2.9M577 259.76h-2.9M334.25 253.78h2.9M577 253.78h-2.9M334.25 241.82h2.9M577 241.82h-2.9M334.25 235.84h2.9M577 235.84h-2.9M334.25 229.86h2.9M577 229.86h-2.9M334.25 223.88h2.9M577 223.88h-2.9" stroke="#000" stroke-width="1.0" fill="none"/>
<rect x="334.25" y="217.4" width="242.75" height="168.4" fill="none" stroke="#000" stroke-width="1.5"/>
<text x="334.3" y="401.9" font-size="15.2" text-anchor="middle" fill="#1a1a1a" textLength="7.2" lengthAdjust="spacingAndGlyphs">0</text>
<text x="367.8" y="401.9" font-size="15.2" fill="#1a1a1a" textLength="14.1" lengthAdjust="spacingAndGlyphs">10</text>
<text x="381.6" y="396.5" font-size="9.6" fill="#1a1a1a">-1</text>
<text x="418.1" y="401.9" font-size="15.2" fill="#1a1a1a" textLength="14.1" lengthAdjust="spacingAndGlyphs">10</text>
<text x="431.9" y="396.5" font-size="9.6" fill="#1a1a1a">0</text>
<text x="466.7" y="401.9" font-size="15.2" fill="#1a1a1a" textLength="14.1" lengthAdjust="spacingAndGlyphs">10</text>
<text x="480.5" y="396.5" font-size="9.6" fill="#1a1a1a">1</text>
<text x="515" y="401.9" font-size="15.2" fill="#1a1a1a" textLength="14.1" lengthAdjust="spacingAndGlyphs">10</text>
<text x="528.8" y="396.5" font-size="9.6" fill="#1a1a1a">2</text>
<text x="563.8" y="401.9" font-size="15.2" fill="#1a1a1a" textLength="14.1" lengthAdjust="spacingAndGlyphs">10</text>
<text x="577.6" y="396.5" font-size="9.6" fill="#1a1a1a">3</text>
<text x="331.8" y="372.5" font-size="15.2" text-anchor="end" fill="#1a1a1a" textLength="7.2" lengthAdjust="spacingAndGlyphs">1</text>
<text x="331.8" y="342.6" font-size="15.2" text-anchor="end" fill="#1a1a1a" textLength="7.2" lengthAdjust="spacingAndGlyphs">2</text>
<text x="331.8" y="312.7" font-size="15.2" text-anchor="end" fill="#1a1a1a" textLength="7.2" lengthAdjust="spacingAndGlyphs">3</text>
<text x="331.8" y="282.8" font-size="15.2" text-anchor="end" fill="#1a1a1a" textLength="7.2" lengthAdjust="spacingAndGlyphs">4</text>
<text x="331.8" y="252.9" font-size="15.2" text-anchor="end" fill="#1a1a1a" textLength="7.2" lengthAdjust="spacingAndGlyphs">5</text>
<g transform="translate(421.2 423)"><text stroke-width="0" x="0.2" y="0" font-size="19.5" text-anchor="start" fill="#1a1a1a" textLength="10.9" lengthAdjust="spacingAndGlyphs">λ</text><path d="M17.4 -14.4H14.3V4.5H17.4" fill="none" stroke="#1a1a1a" stroke-width="0.95"/><text stroke-width="0" x="18.6" y="0" font-size="18.5" text-anchor="start" fill="#1a1a1a" style="font-style:italic" textLength="9.6" lengthAdjust="spacingAndGlyphs">μ</text><text stroke-width="0" x="28" y="0" font-size="18.5" text-anchor="start" fill="#1a1a1a" textLength="14.6" lengthAdjust="spacingAndGlyphs">m</text><path d="M44 4.5L50.5 -14.4" fill="none" stroke="#1a1a1a" stroke-width="1.0"/><text stroke-width="0" x="51.5" y="0" font-size="18.5" text-anchor="start" fill="#1a1a1a" textLength="7" lengthAdjust="spacingAndGlyphs">s</text><path d="M59 -14.4H61.9V4.5H59" fill="none" stroke="#1a1a1a" stroke-width="0.95"/></g>
<text stroke-width="0" x="305.2" y="317.8" font-size="19.5" text-anchor="start" fill="#1a1a1a" textLength="12.7" lengthAdjust="spacingAndGlyphs">Φ</text>
<text x="302.7" y="227.4" font-size="18.8" text-anchor="start" fill="#1a1a1a" style="" textLength="21.6" lengthAdjust="spacingAndGlyphs">(d)</text>
<defs><clipPath id="ce"><rect x="623" y="217.6" width="188.5" height="168.2"/></clipPath></defs>
<g clip-path="url(#ce)">
<rect x="580" y="200" width="260" height="200" fill="#8f6a8a"/>
<path d="M830 356 L828.18 355.92 L826.43 355.83 L824.71 355.75 L823 355.66 L821.28 355.58 L819.51 355.5 L817.66 355.42 L815.71 355.34 L813.64 355.27 L811.4 355.2 L807.27 355.1 L802.65 355.03 L797.66 354.96 L792.37 354.91 L786.9 354.86 L781.32 354.82 L775.75 354.78 L770.28 354.73 L764.99 354.67 L760 354.6 L755.77 354.53 L751.59 354.46 L747.45 354.39 L743.36 354.31 L739.33 354.23 L735.35 354.15 L731.42 354.07 L727.55 353.98 L723.74 353.89 L720 353.8 L716.82 353.72 L713.71 353.64 L710.65 353.56 L707.64 353.47 L704.67 353.38 L701.72 353.29 L698.79 353.2 L695.86 353.11 L692.94 353 L690 352.9 L687.14 352.8 L684.27 352.7 L681.4 352.59 L678.54 352.49 L675.69 352.38 L672.86 352.26 L670.07 352.14 L667.33 352.01 L664.63 351.86 L662 351.7 L659.77 351.55 L657.58 351.41 L655.42 351.25 L653.3 351.09 L651.2 350.92 L649.13 350.74 L647.08 350.55 L645.04 350.35 L643.02 350.13 L641 349.9 L639.14 349.67 L637.29 349.45 L635.47 349.21 L633.66 348.97 L631.86 348.72 L630.07 348.44 L628.3 348.15 L626.53 347.83 L624.76 347.48 L623 347.1 L621.26 346.71 L619.52 346.32 L617.79 345.93 L616.06 345.52 L614.34 345.07 L612.63 344.58 L610.94 344.05 L609.27 343.44 L607.62 342.76 L606 342 L604.27 341.11 L602.49 340.14 L600.7 339.11 L598.92 338.01 L597.18 336.85 L595.51 335.61 L593.92 334.31 L592.46 332.94 L591.14 331.5 L590 330 L589.03 328.45 L588.14 326.78 L587.35 325.02 L586.66 323.18 L586.08 321.3 L585.61 319.4 L585.26 317.49 L585.04 315.61 L584.95 313.77 L585 312 L585.2 310.32 L585.54 308.61 L586.02 306.9 L586.61 305.19 L587.32 303.51 L588.12 301.87 L589 300.29 L589.95 298.77 L590.95 297.33 L592 296 L593.11 294.8 L594.32 293.71 L595.63 292.7 L597.02 291.76 L598.46 290.88 L599.95 290.02 L601.46 289.17 L602.99 288.32 L604.51 287.43 L606 286.5 L607.61 285.48 L609.24 284.48 L610.88 283.51 L612.54 282.54 L614.21 281.55 L615.91 280.54 L617.64 279.48 L619.4 278.37 L621.18 277.18 L623 275.9 L625.43 274.05 L627.93 272.02 L630.47 269.84 L633.06 267.56 L635.7 265.21 L638.37 262.83 L641.09 260.47 L643.83 258.17 L646.6 255.97 L649.4 253.9 L652.28 251.91 L655.24 249.96 L658.26 248.03 L661.32 246.15 L664.4 244.32 L667.49 242.54 L670.55 240.82 L673.57 239.17 L676.53 237.6 L679.4 236.1 L681.76 234.91 L684.11 233.77 L686.44 232.68 L688.74 231.64 L691.02 230.65 L693.27 229.69 L695.48 228.77 L697.66 227.88 L699.8 227.03 L701.9 226.2 L703.63 225.54 L705.35 224.9 L707.05 224.29 L708.74 223.71 L710.39 223.15 L712.01 222.61 L713.59 222.08 L715.12 221.58 L716.59 221.08 L718 220.6 L718.99 220.26 L719.92 219.94 L720.79 219.63 L721.64 219.34 L722.47 219.05 L723.3 218.76 L724.15 218.47 L725.04 218.17 L725.99 217.84 L727 217.5 L728.54 216.98 L730.19 216.42 L731.91 215.85 L733.71 215.24 L735.55 214.63 L737.43 214 L739.33 213.37 L741.24 212.74 L743.13 212.12 L745 211.5 L746.89 210.85 L748.69 210.17 L750.46 209.48 L752.21 208.79 L754.01 208.1 L755.88 207.42 L757.88 206.76 L760.04 206.13 L762.4 205.54 L765 205 L771.45 203.64 L779.48 201.82 L788.67 199.77 L798.61 197.74 L808.86 195.99 L819 194.76 L828.61 194.3 L837.26 194.85 L844.54 196.67 L850 200 L853.88 205.56 L856.13 212.98 L857.04 221.94 L856.9 232.1 L855.99 243.15 L854.6 254.74 L853.02 266.55 L851.53 278.25 L850.43 289.51 L850 300 Z" fill="#c7728f" stroke="#2a2a2a" stroke-width="0.6" stroke-opacity="0.85"/>
<path d="M830 343.5 L828.16 343.48 L826.34 343.46 L824.53 343.44 L822.73 343.43 L820.92 343.41 L819.1 343.39 L817.24 343.37 L815.35 343.35 L813.41 343.32 L811.4 343.3 L808.88 343.27 L806.26 343.23 L803.58 343.2 L800.84 343.16 L798.05 343.12 L795.24 343.08 L792.41 343.04 L789.58 343 L786.78 342.95 L784 342.9 L781.21 342.85 L778.42 342.8 L775.62 342.75 L772.82 342.69 L770.02 342.64 L767.21 342.58 L764.41 342.52 L761.6 342.45 L758.8 342.38 L756 342.3 L753.19 342.22 L750.37 342.13 L747.53 342.03 L744.7 341.93 L741.86 341.83 L739.04 341.73 L736.24 341.62 L733.46 341.51 L730.71 341.41 L728 341.3 L725.52 341.21 L723.08 341.11 L720.66 341.02 L718.27 340.93 L715.88 340.84 L713.51 340.74 L711.14 340.64 L708.77 340.53 L706.39 340.42 L704 340.3 L701.58 340.18 L699.14 340.05 L696.69 339.92 L694.23 339.79 L691.78 339.65 L689.35 339.5 L686.94 339.35 L684.58 339.18 L682.26 339 L680 338.8 L678.08 338.62 L676.19 338.44 L674.33 338.25 L672.49 338.05 L670.68 337.84 L668.9 337.63 L667.14 337.39 L665.4 337.15 L663.69 336.88 L662 336.6 L660.52 336.34 L659.07 336.09 L657.64 335.83 L656.24 335.56 L654.85 335.28 L653.47 334.97 L652.1 334.64 L650.73 334.27 L649.37 333.86 L648 333.4 L646.54 332.88 L645.02 332.31 L643.48 331.71 L641.94 331.07 L640.42 330.39 L638.95 329.69 L637.54 328.95 L636.23 328.19 L635.05 327.41 L634 326.6 L633.33 326 L632.72 325.39 L632.15 324.75 L631.64 324.1 L631.16 323.44 L630.72 322.77 L630.32 322.09 L629.96 321.4 L629.62 320.7 L629.3 320 L629.03 319.33 L628.8 318.65 L628.6 317.95 L628.43 317.25 L628.28 316.54 L628.16 315.82 L628.07 315.11 L627.99 314.4 L627.94 313.69 L627.9 313 L627.88 312.34 L627.89 311.67 L627.92 311 L627.96 310.33 L628.03 309.67 L628.12 309.01 L628.22 308.36 L628.33 307.73 L628.46 307.1 L628.6 306.5 L628.73 305.99 L628.87 305.5 L629.02 305.04 L629.18 304.59 L629.35 304.15 L629.54 303.69 L629.75 303.22 L629.98 302.72 L630.23 302.19 L630.5 301.6 L631.07 300.39 L631.74 299.03 L632.49 297.54 L633.31 295.96 L634.18 294.32 L635.1 292.65 L636.06 290.99 L637.03 289.38 L638.02 287.83 L639 286.4 L639.93 285.12 L640.88 283.86 L641.85 282.64 L642.83 281.44 L643.85 280.26 L644.89 279.12 L645.96 278 L647.07 276.9 L648.21 275.84 L649.4 274.8 L650.7 273.74 L652.07 272.72 L653.48 271.73 L654.93 270.77 L656.41 269.85 L657.92 268.94 L659.44 268.06 L660.96 267.19 L662.49 266.34 L664 265.5 L665.49 264.69 L666.97 263.91 L668.46 263.16 L669.95 262.43 L671.45 261.72 L672.97 261.01 L674.52 260.3 L676.11 259.58 L677.73 258.85 L679.4 258.1 L681.49 257.17 L683.67 256.2 L685.93 255.21 L688.25 254.2 L690.59 253.2 L692.94 252.21 L695.27 251.25 L697.55 250.32 L699.77 249.43 L701.9 248.6 L703.59 247.95 L705.22 247.34 L706.81 246.76 L708.36 246.21 L709.89 245.67 L711.44 245.14 L713 244.62 L714.61 244.09 L716.27 243.55 L718 243 L720.18 242.31 L722.41 241.6 L724.69 240.88 L727.02 240.16 L729.41 239.45 L731.83 238.74 L734.29 238.06 L736.8 237.4 L739.33 236.78 L741.9 236.2 L744.88 235.59 L747.92 235.02 L751.02 234.48 L754.17 233.98 L757.37 233.51 L760.6 233.07 L763.87 232.65 L767.16 232.25 L770.48 231.87 L773.8 231.5 L777.49 231.12 L781.32 230.78 L785.25 230.46 L789.24 230.17 L793.22 229.9 L797.15 229.65 L800.98 229.42 L804.67 229.2 L808.16 229 L811.4 228.8 L813.52 228.67 L815.53 228.55 L817.46 228.45 L819.31 228.35 L821.1 228.25 L822.87 228.16 L824.62 228.08 L826.38 227.99 L828.17 227.9 L830 227.8 Z" fill="#e18da9" stroke="#2a2a2a" stroke-width="0.6" stroke-opacity="0.85"/>
<path d="M830 331.8 L828.16 331.79 L826.34 331.78 L824.53 331.77 L822.73 331.77 L820.92 331.76 L819.1 331.75 L817.24 331.74 L815.35 331.73 L813.41 331.72 L811.4 331.7 L808.88 331.68 L806.26 331.66 L803.58 331.64 L800.83 331.61 L798.05 331.59 L795.24 331.56 L792.41 331.52 L789.58 331.49 L786.78 331.45 L784 331.4 L781.21 331.35 L778.42 331.3 L775.62 331.24 L772.82 331.18 L770.02 331.12 L767.21 331.05 L764.41 330.97 L761.6 330.89 L758.8 330.8 L756 330.7 L753.19 330.59 L750.36 330.48 L747.53 330.36 L744.69 330.23 L741.86 330.1 L739.04 329.96 L736.24 329.81 L733.46 329.65 L730.71 329.48 L728 329.3 L725.49 329.12 L722.98 328.94 L720.46 328.75 L717.95 328.55 L715.48 328.34 L713.04 328.13 L710.66 327.91 L708.35 327.68 L706.13 327.44 L704 327.2 L702.44 327.01 L700.95 326.83 L699.51 326.65 L698.12 326.47 L696.75 326.27 L695.41 326.07 L694.07 325.86 L692.73 325.63 L691.38 325.37 L690 325.1 L688.58 324.8 L687.15 324.48 L685.7 324.15 L684.26 323.8 L682.82 323.44 L681.4 323.06 L680 322.67 L678.63 322.26 L677.29 321.84 L676 321.4 L674.9 321.01 L673.82 320.61 L672.74 320.2 L671.69 319.78 L670.65 319.35 L669.65 318.91 L668.68 318.45 L667.74 317.98 L666.85 317.5 L666 317 L665.35 316.59 L664.72 316.18 L664.11 315.76 L663.53 315.33 L662.96 314.89 L662.43 314.44 L661.91 313.98 L661.42 313.5 L660.95 313.01 L660.5 312.5 L660.09 311.99 L659.7 311.46 L659.33 310.9 L658.97 310.32 L658.64 309.74 L658.33 309.16 L658.05 308.59 L657.8 308.03 L657.58 307.5 L657.4 307 L657.3 306.67 L657.21 306.35 L657.14 306.04 L657.09 305.74 L657.05 305.44 L657.02 305.14 L657 304.85 L656.99 304.57 L656.99 304.28 L657 304 L657.01 303.76 L657.02 303.53 L657.04 303.31 L657.07 303.09 L657.11 302.87 L657.16 302.65 L657.22 302.42 L657.29 302.17 L657.39 301.9 L657.5 301.6 L657.83 300.8 L658.25 299.87 L658.75 298.82 L659.34 297.69 L659.99 296.49 L660.71 295.27 L661.49 294.04 L662.32 292.84 L663.19 291.68 L664.1 290.6 L665.29 289.35 L666.59 288.13 L667.98 286.93 L669.46 285.76 L671.01 284.6 L672.61 283.46 L674.27 282.33 L675.96 281.21 L677.67 280.1 L679.4 279 L681.45 277.73 L683.62 276.45 L685.87 275.18 L688.18 273.92 L690.53 272.68 L692.89 271.47 L695.23 270.3 L697.53 269.17 L699.76 268.1 L701.9 267.1 L703.59 266.33 L705.21 265.61 L706.79 264.93 L708.34 264.28 L709.88 263.66 L711.42 263.05 L712.99 262.45 L714.6 261.85 L716.26 261.24 L718 260.6 L720.17 259.8 L722.4 258.99 L724.68 258.16 L727.01 257.33 L729.39 256.5 L731.82 255.69 L734.28 254.91 L736.79 254.16 L739.33 253.45 L741.9 252.8 L744.87 252.13 L747.91 251.5 L751.01 250.93 L754.16 250.4 L757.36 249.91 L760.59 249.45 L763.86 249.01 L767.16 248.6 L770.47 248.2 L773.8 247.8 L777.49 247.39 L781.32 247.01 L785.25 246.66 L789.23 246.33 L793.21 246.03 L797.15 245.75 L800.98 245.49 L804.66 245.24 L808.15 245.01 L811.4 244.8 L813.52 244.66 L815.53 244.54 L817.45 244.43 L819.3 244.33 L821.1 244.24 L822.87 244.16 L824.62 244.07 L826.38 243.99 L828.17 243.9 L830 243.8 Z" fill="#d9afcd" stroke="#2a2a2a" stroke-width="0.6" stroke-opacity="0.85"/>
<path d="M830 320.7 L828.16 320.69 L826.34 320.68 L824.53 320.68 L822.73 320.67 L820.92 320.66 L819.1 320.65 L817.24 320.65 L815.35 320.63 L813.41 320.62 L811.4 320.6 L808.88 320.58 L806.26 320.55 L803.58 320.52 L800.83 320.49 L798.05 320.46 L795.23 320.42 L792.41 320.38 L789.58 320.33 L786.78 320.27 L784 320.2 L781.18 320.12 L778.29 320.03 L775.38 319.93 L772.45 319.83 L769.53 319.72 L766.65 319.6 L763.84 319.48 L761.11 319.36 L758.49 319.23 L756 319.1 L754.22 319 L752.51 318.91 L750.85 318.81 L749.25 318.71 L747.69 318.61 L746.15 318.5 L744.62 318.39 L743.09 318.27 L741.56 318.14 L740 318 L738.48 317.86 L736.96 317.72 L735.44 317.57 L733.93 317.42 L732.43 317.26 L730.93 317.09 L729.44 316.91 L727.95 316.72 L726.47 316.52 L725 316.3 L723.56 316.08 L722.11 315.85 L720.65 315.6 L719.2 315.35 L717.76 315.09 L716.34 314.82 L714.94 314.53 L713.58 314.23 L712.26 313.92 L711 313.6 L710 313.33 L709.02 313.05 L708.07 312.77 L707.14 312.48 L706.23 312.18 L705.34 311.87 L704.47 311.55 L703.63 311.22 L702.8 310.87 L702 310.5 L701.33 310.17 L700.66 309.83 L700.02 309.47 L699.38 309.11 L698.77 308.74 L698.17 308.36 L697.6 307.97 L697.04 307.58 L696.51 307.19 L696 306.8 L695.59 306.47 L695.19 306.14 L694.79 305.8 L694.41 305.46 L694.05 305.11 L693.7 304.77 L693.38 304.42 L693.09 304.08 L692.83 303.74 L692.6 303.4 L692.46 303.16 L692.33 302.92 L692.21 302.68 L692.11 302.44 L692.02 302.21 L691.94 301.97 L691.88 301.73 L691.84 301.49 L691.81 301.25 L691.8 301 L691.8 300.74 L691.83 300.48 L691.87 300.23 L691.92 299.97 L692 299.71 L692.09 299.45 L692.19 299.18 L692.31 298.9 L692.45 298.61 L692.6 298.3 L692.91 297.73 L693.27 297.11 L693.69 296.46 L694.16 295.77 L694.67 295.07 L695.22 294.35 L695.8 293.64 L696.41 292.94 L697.05 292.25 L697.7 291.6 L698.55 290.82 L699.48 290.04 L700.48 289.27 L701.52 288.5 L702.6 287.75 L703.7 287.02 L704.82 286.3 L705.93 285.61 L707.03 284.94 L708.1 284.3 L709.06 283.74 L710 283.23 L710.92 282.74 L711.83 282.28 L712.76 281.83 L713.71 281.38 L714.7 280.93 L715.73 280.45 L716.83 279.95 L718 279.4 L719.94 278.47 L722.04 277.45 L724.26 276.35 L726.59 275.21 L729.02 274.05 L731.52 272.89 L734.07 271.77 L736.67 270.69 L739.28 269.69 L741.9 268.8 L744.85 267.91 L747.88 267.08 L750.97 266.32 L754.12 265.61 L757.32 264.96 L760.56 264.35 L763.84 263.79 L767.14 263.26 L770.47 262.77 L773.8 262.3 L777.48 261.84 L781.31 261.45 L785.24 261.12 L789.22 260.83 L793.21 260.58 L797.14 260.36 L800.97 260.16 L804.66 259.97 L808.15 259.79 L811.4 259.6 L813.52 259.47 L815.53 259.35 L817.46 259.25 L819.31 259.15 L821.1 259.05 L822.87 258.96 L824.62 258.88 L826.38 258.79 L828.17 258.7 L830 258.6 Z" fill="#c6c6e7" stroke="#2a2a2a" stroke-width="0.6" stroke-opacity="0.85"/>
<path d="M830 307.7 L828.16 307.62 L826.34 307.55 L824.53 307.49 L822.73 307.42 L820.92 307.35 L819.1 307.28 L817.24 307.2 L815.35 307.11 L813.4 307.01 L811.4 306.9 L808.81 306.74 L806.04 306.56 L803.15 306.37 L800.18 306.16 L797.2 305.94 L794.25 305.72 L791.41 305.49 L788.71 305.25 L786.22 305.02 L784 304.8 L782.78 304.67 L781.64 304.53 L780.58 304.4 L779.57 304.26 L778.6 304.13 L777.66 303.99 L776.72 303.85 L775.78 303.7 L774.81 303.55 L773.8 303.4 L772.73 303.24 L771.64 303.08 L770.55 302.92 L769.45 302.76 L768.35 302.59 L767.25 302.41 L766.17 302.23 L765.09 302.03 L764.04 301.82 L763 301.6 L762.05 301.38 L761.09 301.16 L760.13 300.93 L759.18 300.69 L758.24 300.44 L757.33 300.19 L756.44 299.91 L755.58 299.63 L754.77 299.32 L754 299 L753.43 298.74 L752.87 298.47 L752.33 298.19 L751.8 297.91 L751.3 297.61 L750.82 297.31 L750.36 297 L749.94 296.67 L749.55 296.34 L749.2 296 L748.94 295.72 L748.7 295.44 L748.46 295.14 L748.25 294.84 L748.05 294.53 L747.88 294.22 L747.73 293.91 L747.62 293.6 L747.54 293.3 L747.5 293 L747.5 292.73 L747.53 292.45 L747.6 292.18 L747.69 291.91 L747.8 291.64 L747.94 291.37 L748.09 291.1 L748.25 290.83 L748.42 290.57 L748.6 290.3 L748.84 289.96 L749.11 289.62 L749.41 289.28 L749.73 288.94 L750.07 288.61 L750.43 288.27 L750.81 287.95 L751.2 287.62 L751.59 287.31 L752 287 L752.5 286.65 L753.02 286.3 L753.57 285.96 L754.14 285.62 L754.72 285.3 L755.32 284.98 L755.93 284.67 L756.55 284.37 L757.18 284.08 L757.8 283.8 L758.48 283.51 L759.16 283.23 L759.86 282.96 L760.57 282.7 L761.28 282.45 L762.01 282.21 L762.75 281.97 L763.49 281.74 L764.24 281.52 L765 281.3 L765.83 281.07 L766.65 280.84 L767.48 280.63 L768.32 280.42 L769.17 280.22 L770.04 280.03 L770.93 279.84 L771.85 279.66 L772.81 279.48 L773.8 279.3 L775.19 279.07 L776.63 278.85 L778.14 278.64 L779.7 278.44 L781.29 278.25 L782.93 278.06 L784.59 277.88 L786.28 277.71 L787.99 277.55 L789.7 277.4 L791.74 277.23 L793.85 277.08 L796.01 276.95 L798.21 276.82 L800.44 276.71 L802.68 276.6 L804.9 276.5 L807.11 276.4 L809.28 276.3 L811.4 276.2 L813.32 276.11 L815.21 276.02 L817.08 275.94 L818.94 275.86 L820.79 275.78 L822.63 275.71 L824.46 275.63 L826.3 275.56 L828.15 275.48 L830 275.4 Z" fill="#b3e5e3" stroke="#2a2a2a" stroke-width="0.6" stroke-opacity="0.85"/>
<path d="M679.8 217V386M623 301.5H812" stroke="#151515" stroke-width="1.1" stroke-dasharray="5 2.8" fill="none"/>
</g>
<path d="M679.9 296.3 L681.75 300.05 L685.89 300.65 L682.9 303.57 L683.6 307.7 L679.9 305.75 L676.2 307.7 L676.9 303.57 L673.91 300.65 L678.05 300.05 Z" fill="#f7dd6d" stroke="#3c3628" stroke-width="0.9" stroke-linejoin="round"/>
<rect x="662.1" y="345.7" width="142.6" height="32.6" rx="3.2" fill="#fff" stroke="#111" stroke-width="0.95"/>
<rect x="694.3" y="349.3" width="17.68" height="9.5" fill="#875d7f"/>
<rect x="711.88" y="349.3" width="17.68" height="9.5" fill="#c2698b"/>
<rect x="729.46" y="349.3" width="17.68" height="9.5" fill="#df87a5"/>
<rect x="747.04" y="349.3" width="17.68" height="9.5" fill="#d9abcb"/>
<rect x="764.62" y="349.3" width="17.68" height="9.5" fill="#c3c4e6"/>
<rect x="782.2" y="349.3" width="17.68" height="9.5" fill="#b1e5e2"/>
<path d="M711.88 349.3V362M729.46 349.3V358.8M747.04 349.3V362M764.62 349.3V358.8M782.2 349.3V362" stroke="#222" stroke-width="0.85" fill="none"/>
<rect x="694.3" y="349.3" width="105.48" height="9.5" fill="none" stroke="#222" stroke-width="0.9"/>
<text x="711.08" y="374.3" font-size="15" text-anchor="middle" fill="#1a1a1a" textLength="17.12" lengthAdjust="spacingAndGlyphs">0.4</text>
<text x="746.24" y="374.3" font-size="15" text-anchor="middle" fill="#1a1a1a" textLength="17.12" lengthAdjust="spacingAndGlyphs">0.8</text>
<text x="781.4" y="374.3" font-size="15" text-anchor="middle" fill="#1a1a1a" textLength="17.12" lengthAdjust="spacingAndGlyphs">1.2</text>
<path transform="translate(655 340) scale(0.10485)" d="M243 152C240 128 205 118 180 130C155 142 150 175 172 190C182 197 195 198 203 193C180 196 138 215 135 240C133 262 155 274 180 272C210 270 238 250 246 226" fill="none" stroke="#111" stroke-width="12" stroke-linecap="round"/>
<text stroke-width="0" x="681.2" y="371.4" font-size="14" text-anchor="start" fill="#1a1a1a" textLength="9.4" lengthAdjust="spacingAndGlyphs">Φ</text>
<path d="M710.5 385.8v-3.9M710.5 217.6v3.9M811.5 385.8v-3.9M811.5 217.6v3.9" stroke="#000" stroke-width="1.0" fill="none"/>
<path d="M639.9 385.8v-2.3M639.9 217.6v2.3M657.69 385.8v-2.3M657.69 217.6v2.3M670.31 385.8v-2.3M670.31 217.6v2.3M680.1 385.8v-2.3M680.1 217.6v2.3M688.09 385.8v-2.3M688.09 217.6v2.3M694.85 385.8v-2.3M694.85 217.6v2.3M700.71 385.8v-2.3M700.71 217.6v2.3M705.88 385.8v-2.3M705.88 217.6v2.3M740.9 385.8v-2.3M740.9 217.6v2.3M758.69 385.8v-2.3M758.69 217.6v2.3M771.31 385.8v-2.3M771.31 217.6v2.3M781.1 385.8v-2.3M781.1 217.6v2.3M789.09 385.8v-2.3M789.09 217.6v2.3M795.85 385.8v-2.3M795.85 217.6v2.3M801.71 385.8v-2.3M801.71 217.6v2.3M806.88 385.8v-2.3M806.88 217.6v2.3" stroke="#000" stroke-width="1.0" fill="none"/>
<path d="M623 353.7h4.7M811.5 353.7h-4.7M623 301.5h4.7M811.5 301.5h-4.7M623 249.3h4.7M811.5 249.3h-4.7" stroke="#000" stroke-width="1.0" fill="none"/>
<path d="M623 380.99h2.9M811.5 380.99h-2.9M623 374.47h2.9M811.5 374.47h-2.9M623 369.41h2.9M811.5 369.41h-2.9M623 365.28h2.9M811.5 365.28h-2.9M623 361.79h2.9M811.5 361.79h-2.9M623 358.76h2.9M811.5 358.76h-2.9M623 356.09h2.9M811.5 356.09h-2.9M623 337.99h2.9M811.5 337.99h-2.9M623 328.79h2.9M811.5 328.79h-2.9M623 322.27h2.9M811.5 322.27h-2.9M623 317.21h2.9M811.5 317.21h-2.9M623 313.08h2.9M811.5 313.08h-2.9M623 309.59h2.9M811.5 309.59h-2.9M623 306.56h2.9M811.5 306.56h-2.9M623 303.89h2.9M811.5 303.89h-2.9M623 285.79h2.9M811.5 285.79h-2.9M623 276.59h2.9M811.5 276.59h-2.9M623 270.07h2.9M811.5 270.07h-2.9M623 265.01h2.9M811.5 265.01h-2.9M623 260.88h2.9M811.5 260.88h-2.9M623 257.39h2.9M811.5 257.39h-2.9M623 254.36h2.9M811.5 254.36h-2.9M623 251.69h2.9M811.5 251.69h-2.9M623 233.59h2.9M811.5 233.59h-2.9M623 224.39h2.9M811.5 224.39h-2.9" stroke="#000" stroke-width="1.0" fill="none"/>
<rect x="623" y="217.6" width="188.5" height="168.2" fill="none" stroke="#000" stroke-width="1.5"/>
<text x="613.4" y="401.9" font-size="15.2" fill="#1a1a1a" textLength="14.1" lengthAdjust="spacingAndGlyphs">10</text>
<text x="627.2" y="396.5" font-size="9.6" fill="#1a1a1a">1</text>
<text x="705.1" y="401.9" font-size="15.2" fill="#1a1a1a" textLength="14.1" lengthAdjust="spacingAndGlyphs">10</text>
<text x="718.9" y="396.5" font-size="9.6" fill="#1a1a1a">2</text>
<text x="797.1" y="401.9" font-size="15.2" fill="#1a1a1a" textLength="14.1" lengthAdjust="spacingAndGlyphs">10</text>
<text x="810.9" y="396.5" font-size="9.6" fill="#1a1a1a">3</text>
<text x="602" y="255.2" font-size="15.2" fill="#1a1a1a" textLength="14.1" lengthAdjust="spacingAndGlyphs">10</text>
<text x="615.8" y="249.8" font-size="9.6" fill="#1a1a1a">2</text>
<text x="602.5" y="374.2" font-size="15.2" fill="#1a1a1a" textLength="14.1" lengthAdjust="spacingAndGlyphs">10</text>
<text x="616.3" y="368.8" font-size="9.6" fill="#1a1a1a">0</text>
<g transform="translate(673.8 423)"><text stroke-width="0" x="0.2" y="0" font-size="19.5" text-anchor="start" fill="#1a1a1a" textLength="10.9" lengthAdjust="spacingAndGlyphs">λ</text><path d="M17.4 -14.4H14.3V4.5H17.4" fill="none" stroke="#1a1a1a" stroke-width="0.95"/><text stroke-width="0" x="18.6" y="0" font-size="18.5" text-anchor="start" fill="#1a1a1a" style="font-style:italic" textLength="9.6" lengthAdjust="spacingAndGlyphs">μ</text><text stroke-width="0" x="28" y="0" font-size="18.5" text-anchor="start" fill="#1a1a1a" textLength="14.6" lengthAdjust="spacingAndGlyphs">m</text><path d="M44 4.5L50.5 -14.4" fill="none" stroke="#1a1a1a" stroke-width="1.0"/><text stroke-width="0" x="51.5" y="0" font-size="18.5" text-anchor="start" fill="#1a1a1a" textLength="7" lengthAdjust="spacingAndGlyphs">s</text><path d="M59 -14.4H61.9V4.5H59" fill="none" stroke="#1a1a1a" stroke-width="0.95"/></g>
<g transform="translate(603 337.5) rotate(-90)"><text stroke-width="0" x="0" y="0" font-size="19" text-anchor="start" fill="#1a1a1a" style="font-style:italic" textLength="10.6" lengthAdjust="spacingAndGlyphs">α</text><text stroke-width="0" x="11" y="3.4" font-size="12.3" text-anchor="start" fill="#1a1a1a" textLength="6.2" lengthAdjust="spacingAndGlyphs">0</text><path d="M22.6 -14.4H19.7V4.5H22.6" fill="none" stroke="#1a1a1a" stroke-width="0.95"/><text stroke-width="0" x="24" y="0" font-size="18.5" text-anchor="start" fill="#1a1a1a" textLength="7.1" lengthAdjust="spacingAndGlyphs">s</text><path d="M32.9 -9.7H41" fill="none" stroke="#1a1a1a" stroke-width="0.95"/><text stroke-width="0" x="42.3" y="-5.4" font-size="12.6" text-anchor="start" fill="#1a1a1a" textLength="5.6" lengthAdjust="spacingAndGlyphs">1</text><path d="M48.9 -14.4H51.7V4.5H48.9" fill="none" stroke="#1a1a1a" stroke-width="0.95"/></g>
<text x="584.6" y="226.8" font-size="18.8" text-anchor="start" fill="#1a1a1a" style="" textLength="19.6" lengthAdjust="spacingAndGlyphs">(e)</text>
</svg></body></html>
